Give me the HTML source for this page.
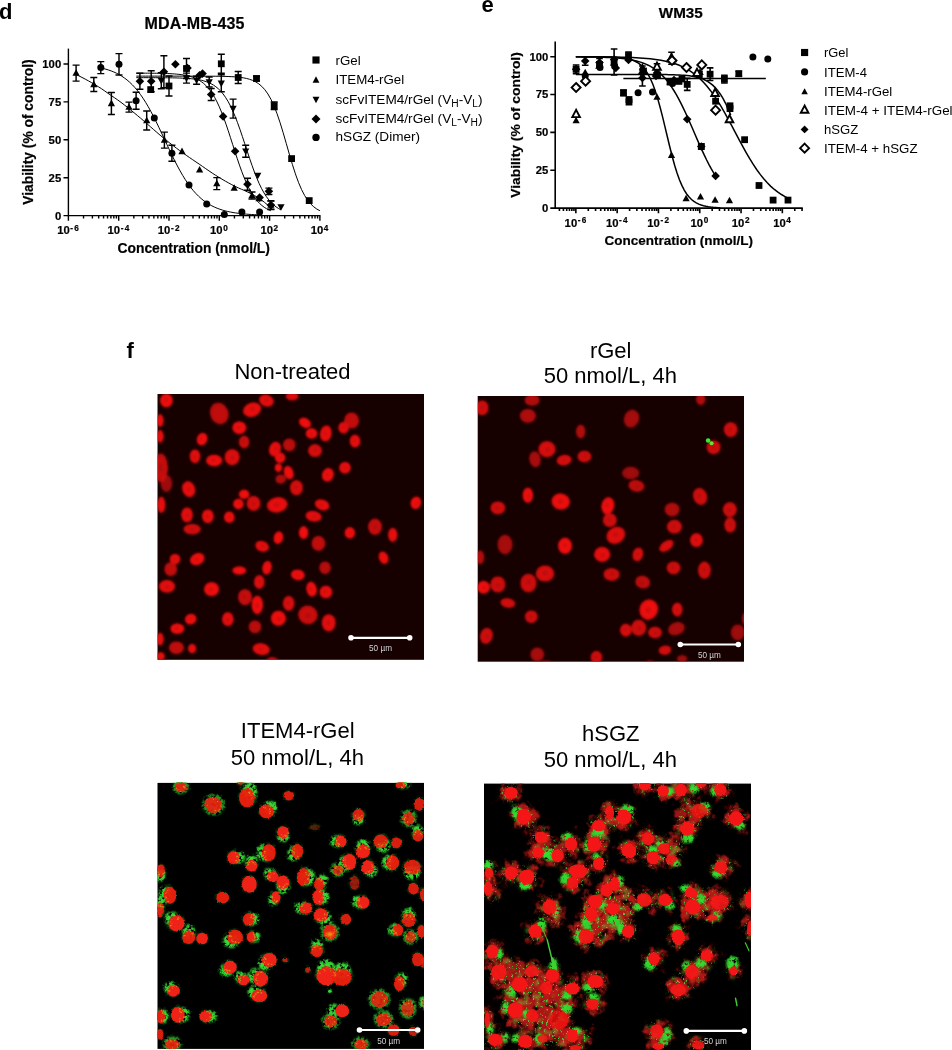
<!DOCTYPE html>
<html><head><meta charset="utf-8"><title>Figure</title>
<style>
html,body{margin:0;padding:0;background:#fff}
svg{display:block}
text{font-family:"Liberation Sans",Arial,Helvetica,sans-serif;fill:#000}
.tk{font-size:11.3px;font-weight:bold;stroke:#000;stroke-width:.2px}
.sup{font-size:8.2px;font-weight:bold;letter-spacing:0.3px}
.ttl{font-size:15.5px;font-weight:bold;stroke:#000;stroke-width:.2px}
.axl{font-size:14px;font-weight:bold;stroke:#000;stroke-width:.2px}
.lg{font-size:13.3px}
.sub{font-size:10px}
.pl{font-size:22px;font-weight:bold}
.pt{font-size:22px}
.sb{font-size:8.2px;fill:#d4d4d4}
</style></head><body>
<svg width="952" height="1050" viewBox="0 0 952 1050">
<rect width="952" height="1050" fill="#fff"/>
<polyline points="136.31,76.13 139.36,76.13 142.42,76.13 145.48,76.13 148.54,76.13 151.6,76.13 154.66,76.13 157.72,76.13 160.78,76.13 163.84,76.13 166.9,76.13 169.96,76.13 173.02,76.13 176.08,76.13 179.14,76.13 182.2,76.13 185.26,76.13 188.32,76.13 191.38,76.14 194.44,76.14 197.5,76.15 200.56,76.15 203.62,76.16 206.68,76.17 209.74,76.19 212.8,76.21 215.86,76.24 218.92,76.28 221.98,76.33 225.04,76.4 228.1,76.5 231.16,76.63 234.22,76.81 237.28,77.06 240.34,77.39 243.4,77.84 246.46,78.45 249.52,79.27 252.58,80.37 255.64,81.84 258.7,83.79 261.76,86.35 264.82,89.68 267.88,93.95 270.94,99.31 274,105.89 277.06,113.74 280.12,122.78 283.18,132.77 286.24,143.36 289.3,154.07 292.36,164.4 295.42,173.92 298.48,182.34 301.54,189.51 304.6,195.43 307.66,200.18 310.72,203.93 313.78,206.83 316.84,209.05 319.9,210.72" fill="none" stroke="#000" stroke-width="1.0"/>
<polyline points="100.59,67.88 103.24,68.49 105.89,69.19 108.54,70 111.19,70.93 113.84,71.99 116.49,73.21 119.14,74.6 121.79,76.18 124.43,77.98 127.08,80.01 129.73,82.29 132.38,84.85 135.03,87.71 137.68,90.87 140.33,94.36 142.98,98.17 145.63,102.32 148.28,106.78 150.93,111.54 153.57,116.58 156.22,121.86 158.87,127.33 161.52,132.93 164.17,138.61 166.82,144.3 169.47,149.95 172.12,155.48 174.77,160.84 177.42,165.98 180.07,170.87 182.72,175.46 185.36,179.74 188.01,183.69 190.66,187.31 193.31,190.61 195.96,193.59 198.61,196.27 201.26,198.67 203.91,200.8 206.56,202.69 209.21,204.36 211.86,205.83 214.5,207.12 217.15,208.24 219.8,209.23 222.45,210.09 225.1,210.83 227.75,211.48 230.4,212.04 233.05,212.53 235.7,212.95 238.35,213.31 241,213.63 243.65,213.9 246.29,214.14 248.94,214.34 251.59,214.51 254.24,214.66 256.89,214.79 259.54,214.91" fill="none" stroke="#000" stroke-width="1.0"/>
<polyline points="75.44,74.31 78.7,75.81 81.96,77.41 85.21,79.11 88.47,80.9 91.73,82.76 94.98,84.68 98.24,86.66 101.5,88.72 104.75,90.97 108.01,93.3 111.27,95.56 114.53,97.75 117.78,100 121.04,102.39 124.3,104.88 127.55,107.45 130.81,110.09 134.07,112.76 137.32,115.44 140.58,118.16 143.84,120.96 147.09,123.81 150.35,126.68 153.61,129.55 156.87,132.39 160.12,135.19 163.38,137.9 166.64,140.53 169.89,143.11 173.15,145.65 176.41,148.13 179.66,150.56 182.92,152.93 186.18,155.23 189.43,157.49 192.69,159.71 195.95,161.91 199.21,164.14 202.46,166.39 205.72,168.65 208.98,170.9 212.23,173.09 215.49,175.21 218.75,177.23 222,179.18 225.26,181.08 228.52,182.91 231.77,184.66 235.03,186.33 238.29,187.86 241.55,189.29 244.8,190.7 248.06,192.18 251.32,193.81 254.57,195.6 257.83,197.55 261.09,199.73 264.34,202.21 267.6,204.99 270.86,208.02" fill="none" stroke="#000" stroke-width="1.0"/>
<polyline points="136.31,77.65 138.72,77.65 141.13,77.66 143.54,77.66 145.95,77.66 148.36,77.67 150.77,77.67 153.18,77.68 155.59,77.69 158,77.7 160.41,77.71 162.82,77.73 165.23,77.75 167.64,77.78 170.05,77.81 172.46,77.85 174.87,77.9 177.28,77.96 179.69,78.04 182.1,78.13 184.51,78.24 186.92,78.39 189.33,78.56 191.74,78.78 194.15,79.05 196.56,79.38 198.97,79.78 201.38,80.28 203.79,80.9 206.2,81.65 208.61,82.58 211.02,83.7 213.43,85.07 215.84,86.73 218.25,88.72 220.66,91.11 223.07,93.94 225.48,97.28 227.89,101.17 230.3,105.64 232.71,110.72 235.12,116.4 237.53,122.63 239.94,129.34 242.35,136.43 244.76,143.74 247.17,151.11 249.58,158.38 252,165.39 254.41,172.01 256.82,178.13 259.23,183.68 261.64,188.63 264.05,192.97 266.46,196.74 268.87,199.96 271.28,202.69 273.69,204.99 276.1,206.9 278.51,208.49 280.92,209.8" fill="none" stroke="#000" stroke-width="1.0"/>
<polyline points="136.31,73.13 138.55,73.13 140.79,73.14 143.03,73.15 145.28,73.16 147.52,73.18 149.76,73.19 152,73.22 154.25,73.24 156.49,73.27 158.73,73.31 160.97,73.36 163.22,73.41 165.46,73.48 167.7,73.57 169.94,73.67 172.19,73.8 174.43,73.95 176.67,74.13 178.91,74.35 181.16,74.62 183.4,74.95 185.64,75.35 187.88,75.83 190.13,76.42 192.37,77.12 194.61,77.97 196.85,78.98 199.1,80.2 201.34,81.66 203.58,83.39 205.82,85.44 208.07,87.85 210.31,90.66 212.55,93.93 214.79,97.69 217.04,101.96 219.28,106.76 221.52,112.09 223.76,117.91 226.01,124.18 228.25,130.8 230.49,137.67 232.73,144.68 234.98,151.67 237.22,158.53 239.46,165.12 241.7,171.35 243.95,177.13 246.19,182.41 248.43,187.16 250.67,191.38 252.92,195.09 255.16,198.31 257.4,201.09 259.64,203.47 261.89,205.48 264.13,207.19 266.37,208.62 268.61,209.82 270.86,210.82" fill="none" stroke="#000" stroke-width="1.0"/>
<path d="M76.1 65.1V81.1M72.6 65.1H79.6M72.6 81.1H79.6" stroke="#000" stroke-width="1.45" fill="none"/>
<path d="M93.8 77.4V91.4M90.3 77.4H97.3M90.3 91.4H97.3" stroke="#000" stroke-width="1.45" fill="none"/>
<path d="M111.4 92.4V114.4M107.9 92.4H114.9M107.9 114.4H114.9" stroke="#000" stroke-width="1.45" fill="none"/>
<path d="M129 102.1V112.1M125.5 102.1H132.5M125.5 112.1H132.5" stroke="#000" stroke-width="1.45" fill="none"/>
<path d="M146.7 111V130M143.2 111H150.2M143.2 130H150.2" stroke="#000" stroke-width="1.45" fill="none"/>
<path d="M164.4 132.1V148.1M160.9 132.1H167.9M160.9 148.1H167.9" stroke="#000" stroke-width="1.45" fill="none"/>
<path d="M216.8 177.6V189.6M213.3 177.6H220.3M213.3 189.6H220.3" stroke="#000" stroke-width="1.45" fill="none"/>
<path d="M252 192V199M248.5 192H255.5M248.5 199H255.5" stroke="#000" stroke-width="1.45" fill="none"/>
<path d="M270.9 201.1V209.1M267.4 201.1H274.4M267.4 209.1H274.4" stroke="#000" stroke-width="1.45" fill="none"/>
<path d="M100.8 61.6V73.6M97.3 61.6H104.3M97.3 73.6H104.3" stroke="#000" stroke-width="1.45" fill="none"/>
<path d="M119 53.6V75M115.5 53.6H122.5M115.5 75H122.5" stroke="#000" stroke-width="1.45" fill="none"/>
<path d="M136.1 92.3V109.3M132.6 92.3H139.6M132.6 109.3H139.6" stroke="#000" stroke-width="1.45" fill="none"/>
<path d="M171.9 145.2V161.2M168.4 145.2H175.4M168.4 161.2H175.4" stroke="#000" stroke-width="1.45" fill="none"/>
<path d="M169 76V96M165.5 76H172.5M165.5 96H172.5" stroke="#000" stroke-width="1.45" fill="none"/>
<path d="M186.5 58.5V78.5M183 58.5H190M183 78.5H190" stroke="#000" stroke-width="1.45" fill="none"/>
<path d="M221.3 54.3V73.3M217.8 54.3H224.8M217.8 73.3H224.8" stroke="#000" stroke-width="1.45" fill="none"/>
<path d="M238.2 71.5V83.5M234.7 71.5H241.7M234.7 83.5H241.7" stroke="#000" stroke-width="1.45" fill="none"/>
<path d="M256.5 76.3V80.7M253 76.3H260M253 80.7H260" stroke="#000" stroke-width="1.45" fill="none"/>
<path d="M274.2 101.9V109.5M270.7 101.9H277.7M270.7 109.5H277.7" stroke="#000" stroke-width="1.45" fill="none"/>
<path d="M161.3 72.7V88.7M157.8 72.7H164.8M157.8 88.7H164.8" stroke="#000" stroke-width="1.45" fill="none"/>
<path d="M186.5 73.1V83.1M183 73.1H190M183 83.1H190" stroke="#000" stroke-width="1.45" fill="none"/>
<path d="M196.6 76.2V84.2M193.1 76.2H200.1M193.1 84.2H200.1" stroke="#000" stroke-width="1.45" fill="none"/>
<path d="M209.2 76.9V86.9M205.7 76.9H212.7M205.7 86.9H212.7" stroke="#000" stroke-width="1.45" fill="none"/>
<path d="M221.3 74.8V91.8M217.8 74.8H224.8M217.8 91.8H224.8" stroke="#000" stroke-width="1.45" fill="none"/>
<path d="M233.1 99.1V118.1M229.6 99.1H236.6M229.6 118.1H236.6" stroke="#000" stroke-width="1.45" fill="none"/>
<path d="M245.7 145.2V157.2M242.2 145.2H249.2M242.2 157.2H249.2" stroke="#000" stroke-width="1.45" fill="none"/>
<path d="M139.9 73.2V89.2M136.4 73.2H143.4M136.4 89.2H143.4" stroke="#000" stroke-width="1.45" fill="none"/>
<path d="M151.2 70.7V91.7M147.7 70.7H154.7M147.7 91.7H154.7" stroke="#000" stroke-width="1.45" fill="none"/>
<path d="M163.9 55.8V87.8M160.4 55.8H167.4M160.4 87.8H167.4" stroke="#000" stroke-width="1.45" fill="none"/>
<path d="M211.2 88.5V100.5M207.7 88.5H214.7M207.7 100.5H214.7" stroke="#000" stroke-width="1.45" fill="none"/>
<path d="M247.5 178.2V190.2M244 178.2H251M244 190.2H251" stroke="#000" stroke-width="1.45" fill="none"/>
<path d="M268.9 188.1V194.5M265.4 188.1H272.4M265.4 194.5H272.4" stroke="#000" stroke-width="1.45" fill="none"/>
<path d="M270.9 200.8V209.4M267.4 200.8H274.4M267.4 209.4H274.4" stroke="#000" stroke-width="1.45" fill="none"/>
<polygon points="76.1,69.27 72.5,75.87 79.7,75.87" fill="#000"/>
<polygon points="93.8,80.57 90.2,87.17 97.4,87.17" fill="#000"/>
<polygon points="111.4,99.57 107.8,106.17 115,106.17" fill="#000"/>
<polygon points="129,103.27 125.4,109.87 132.6,109.87" fill="#000"/>
<polygon points="146.7,116.67 143.1,123.27 150.3,123.27" fill="#000"/>
<polygon points="164.4,136.27 160.8,142.87 168,142.87" fill="#000"/>
<polygon points="182,147.57 178.4,154.17 185.6,154.17" fill="#000"/>
<polygon points="199.6,165.97 196,172.57 203.2,172.57" fill="#000"/>
<polygon points="216.8,179.77 213.2,186.37 220.4,186.37" fill="#000"/>
<polygon points="234.2,184.17 230.6,190.77 237.8,190.77" fill="#000"/>
<polygon points="252,191.67 248.4,198.27 255.6,198.27" fill="#000"/>
<polygon points="259,194.67 255.4,201.27 262.6,201.27" fill="#000"/>
<polygon points="270.9,201.27 267.3,207.87 274.5,207.87" fill="#000"/>
<circle cx="100.8" cy="67.6" r="3.5" fill="#000"/>
<circle cx="119" cy="64.3" r="3.5" fill="#000"/>
<circle cx="136.1" cy="100.8" r="3.5" fill="#000"/>
<circle cx="154.3" cy="118" r="3.5" fill="#000"/>
<circle cx="171.9" cy="153.2" r="3.5" fill="#000"/>
<circle cx="189" cy="185" r="3.5" fill="#000"/>
<circle cx="206.7" cy="203.9" r="3.5" fill="#000"/>
<circle cx="224.3" cy="214.6" r="3.5" fill="#000"/>
<circle cx="241.9" cy="212" r="3.5" fill="#000"/>
<circle cx="259.6" cy="212" r="3.5" fill="#000"/>
<rect x="147.3" y="86.2" width="6.8" height="6.8" fill="#000"/>
<rect x="165.6" y="82.6" width="6.8" height="6.8" fill="#000"/>
<rect x="183.1" y="65.1" width="6.8" height="6.8" fill="#000"/>
<rect x="217.9" y="60.4" width="6.8" height="6.8" fill="#000"/>
<rect x="234.8" y="74.1" width="6.8" height="6.8" fill="#000"/>
<rect x="253.1" y="75.1" width="6.8" height="6.8" fill="#000"/>
<rect x="270.8" y="102.3" width="6.8" height="6.8" fill="#000"/>
<rect x="288.2" y="155.2" width="6.8" height="6.8" fill="#000"/>
<rect x="305.8" y="197.2" width="6.8" height="6.8" fill="#000"/>
<polygon points="161.3,84.53 157.7,77.93 164.9,77.93" fill="#000"/>
<polygon points="186.5,81.93 182.9,75.33 190.1,75.33" fill="#000"/>
<polygon points="196.6,84.03 193,77.43 200.2,77.43" fill="#000"/>
<polygon points="209.2,85.73 205.6,79.13 212.8,79.13" fill="#000"/>
<polygon points="221.3,87.13 217.7,80.53 224.9,80.53" fill="#000"/>
<polygon points="233.1,112.43 229.5,105.83 236.7,105.83" fill="#000"/>
<polygon points="245.7,155.03 242.1,148.43 249.3,148.43" fill="#000"/>
<polygon points="257.8,179.23 254.2,172.63 261.4,172.63" fill="#000"/>
<polygon points="281,210.73 277.4,204.13 284.6,204.13" fill="#000"/>
<polygon points="139.9,76.9 144.2,81.2 139.9,85.5 135.6,81.2" fill="#000"/>
<polygon points="151.2,76.9 155.5,81.2 151.2,85.5 146.9,81.2" fill="#000"/>
<polygon points="163.9,67.5 168.2,71.8 163.9,76.1 159.6,71.8" fill="#000"/>
<polygon points="175.4,59.9 179.7,64.2 175.4,68.5 171.1,64.2" fill="#000"/>
<polygon points="187.5,63.7 191.8,68 187.5,72.3 183.2,68" fill="#000"/>
<polygon points="199.6,70.9 203.9,75.2 199.6,79.5 195.3,75.2" fill="#000"/>
<polygon points="202.5,69.3 206.8,73.6 202.5,77.9 198.2,73.6" fill="#000"/>
<polygon points="211.2,90.2 215.5,94.5 211.2,98.8 206.9,94.5" fill="#000"/>
<polygon points="223.1,112.1 227.4,116.4 223.1,120.7 218.8,116.4" fill="#000"/>
<polygon points="235.1,146.9 239.4,151.2 235.1,155.5 230.8,151.2" fill="#000"/>
<polygon points="247.5,179.9 251.8,184.2 247.5,188.5 243.2,184.2" fill="#000"/>
<polygon points="259.6,193.3 263.9,197.6 259.6,201.9 255.3,197.6" fill="#000"/>
<polygon points="268.9,187 273.2,191.3 268.9,195.6 264.6,191.3" fill="#000"/>
<polygon points="270.9,200.8 275.2,205.1 270.9,209.4 266.6,205.1" fill="#000"/>
<path d="M68.4 48.6V216.3" stroke="#000" stroke-width="1.4" fill="none"/>
<path d="M68.4 215.6H320.4" stroke="#000" stroke-width="1.4" fill="none"/>
<text x="61.2" y="219.5" text-anchor="end" class="tk">0</text>
<text x="61.2" y="181.6" text-anchor="end" class="tk">25</text>
<text x="61.2" y="143.7" text-anchor="end" class="tk">50</text>
<text x="61.2" y="105.8" text-anchor="end" class="tk">75</text>
<text x="61.2" y="67.9" text-anchor="end" class="tk">100</text>
<text x="68.2" y="234.2" text-anchor="middle" class="tk">10<tspan dy="-3.6" dx="0.6" class="sup">- 6</tspan></text>
<text x="118.5" y="234.2" text-anchor="middle" class="tk">10<tspan dy="-3.6" dx="0.6" class="sup">- 4</tspan></text>
<text x="168.8" y="234.2" text-anchor="middle" class="tk">10<tspan dy="-3.6" dx="0.6" class="sup">- 2</tspan></text>
<text x="219.1" y="234.2" text-anchor="middle" class="tk">10<tspan dy="-3.6" dx="0.6" class="sup">0</tspan></text>
<text x="269.4" y="234.2" text-anchor="middle" class="tk">10<tspan dy="-3.6" dx="0.6" class="sup">2</tspan></text>
<text x="319.7" y="234.2" text-anchor="middle" class="tk">10<tspan dy="-3.6" dx="0.6" class="sup">4</tspan></text>
<path d="M63.5 215.6H68.4M63.5 177.7H68.4M63.5 139.8H68.4M63.5 101.9H68.4M63.5 64H68.4M68.4 215.6V220.8M118.7 215.6V220.8M169 215.6V220.8M219.3 215.6V220.8M269.6 215.6V220.8M319.9 215.6V220.8M83.54 215.6V218.6M92.4 215.6V218.6M98.68 215.6V218.6M103.56 215.6V218.6M107.54 215.6V218.6M110.91 215.6V218.6M113.83 215.6V218.6M116.4 215.6V218.6M133.84 215.6V218.6M142.7 215.6V218.6M148.98 215.6V218.6M153.86 215.6V218.6M157.84 215.6V218.6M161.21 215.6V218.6M164.13 215.6V218.6M166.7 215.6V218.6M184.14 215.6V218.6M193 215.6V218.6M199.28 215.6V218.6M204.16 215.6V218.6M208.14 215.6V218.6M211.51 215.6V218.6M214.43 215.6V218.6M217 215.6V218.6M234.44 215.6V218.6M243.3 215.6V218.6M249.58 215.6V218.6M254.46 215.6V218.6M258.44 215.6V218.6M261.81 215.6V218.6M264.73 215.6V218.6M267.3 215.6V218.6M284.74 215.6V218.6M293.6 215.6V218.6M299.88 215.6V218.6M304.76 215.6V218.6M308.74 215.6V218.6M312.11 215.6V218.6M315.03 215.6V218.6M317.6 215.6V218.6" stroke="#000" stroke-width="1.4" fill="none"/>
<text x="194.5" y="28.6" text-anchor="middle" class="ttl" style="font-size:16px" textLength="99.8" lengthAdjust="spacing">MDA-MB-435</text>
<text x="193.7" y="252.6" text-anchor="middle" class="axl" textLength="152.5" lengthAdjust="spacingAndGlyphs">Concentration (nmol/L)</text>
<text transform="translate(33.2 132) rotate(-90)" text-anchor="middle" class="axl" textLength="145.4" lengthAdjust="spacingAndGlyphs">Viability (% of control)</text>
<rect x="312.43" y="56.43" width="7.14" height="7.14" fill="#000"/>
<polygon points="316,76.36 312.58,82.63 319.42,82.63" fill="#000"/>
<polygon points="316,103.14 312.58,96.87 319.42,96.87" fill="#000"/>
<polygon points="316,114.39 320.51,118.9 316,123.42 311.49,118.9" fill="#000"/>
<circle cx="316" cy="137.4" r="3.68" fill="#000"/>
<text x="335.5" y="65" class="lg">rGel</text>
<text x="335.5" y="84.2" class="lg" textLength="68.7" lengthAdjust="spacingAndGlyphs">ITEM4-rGel</text>
<text x="335.5" y="103.5" class="lg" textLength="147" lengthAdjust="spacingAndGlyphs">scFvITEM4/rGel (V<tspan class="sub" dy="3">H</tspan><tspan dy="-3">-V</tspan><tspan class="sub" dy="3">L</tspan><tspan dy="-3">)</tspan></text>
<text x="335.5" y="122.9" class="lg" textLength="147" lengthAdjust="spacingAndGlyphs">scFvITEM4/rGel (V<tspan class="sub" dy="3">L</tspan><tspan dy="-3">-V</tspan><tspan class="sub" dy="3">H</tspan><tspan dy="-3">)</tspan></text>
<text x="335.5" y="141.4" class="lg" textLength="84.6" lengthAdjust="spacingAndGlyphs">hSGZ (Dimer)</text>
<text x="-1" y="18.9" class="pl">d</text>
<polyline points="575.85,56.71 578.26,56.71 580.67,56.71 583.08,56.71 585.49,56.72 587.9,56.72 590.31,56.73 592.71,56.74 595.12,56.75 597.53,56.77 599.94,56.79 602.35,56.82 604.76,56.86 607.17,56.91 609.58,56.97 611.99,57.05 614.4,57.16 616.81,57.3 619.22,57.49 621.62,57.73 624.03,58.05 626.44,58.46 628.85,58.99 631.26,59.68 633.67,60.58 636.08,61.74 638.49,63.22 640.9,65.12 643.31,67.53 645.72,70.56 648.12,74.33 650.53,78.97 652.94,84.57 655.35,91.2 657.76,98.87 660.17,107.51 662.58,116.93 664.99,126.89 667.4,137.04 669.81,147.03 672.22,156.51 674.63,165.23 677.04,172.98 679.44,179.7 681.85,185.39 684.26,190.1 686.67,193.95 689.08,197.04 691.49,199.5 693.9,201.43 696.31,202.95 698.72,204.13 701.13,205.05 703.54,205.76 705.95,206.3 708.35,206.72 710.76,207.04 713.17,207.29 715.58,207.48 717.99,207.63 720.4,207.74" fill="none" stroke="#000" stroke-width="1.5"/>
<polyline points="575.85,56.81 578.18,56.82 580.52,56.84 582.85,56.86 585.18,56.89 587.52,56.92 589.85,56.95 592.18,56.99 594.52,57.03 596.85,57.09 599.18,57.15 601.52,57.21 603.85,57.29 606.18,57.38 608.52,57.49 610.85,57.61 613.19,57.75 615.52,57.91 617.85,58.09 620.19,58.3 622.52,58.55 624.85,58.83 627.19,59.15 629.52,59.52 631.85,59.94 634.19,60.43 636.52,60.99 638.85,61.62 641.19,62.35 643.52,63.19 645.85,64.13 648.19,65.21 650.52,66.44 652.85,67.83 655.19,69.4 657.52,71.16 659.85,73.15 662.19,75.37 664.52,77.84 666.85,80.58 669.19,83.6 671.52,86.91 673.85,90.52 676.19,94.42 678.52,98.62 680.86,103.09 683.19,107.82 685.52,112.77 687.86,117.91 690.19,123.19 692.52,128.57 694.86,133.98 697.19,139.38 699.52,144.7 701.86,149.91 704.19,154.94 706.52,159.77 708.86,164.35 711.19,168.66 713.52,172.69 715.86,176.43" fill="none" stroke="#000" stroke-width="1.5"/>
<line x1="623.35" y1="78.5" x2="765.83" y2="78.5" stroke="#000" stroke-width="1.5"/>
<polyline points="575.85,56.75 579.39,56.76 582.94,56.77 586.48,56.79 590.03,56.8 593.57,56.82 597.12,56.85 600.66,56.88 604.21,56.91 607.75,56.95 611.3,57 614.84,57.06 618.39,57.13 621.93,57.21 625.48,57.31 629.02,57.43 632.57,57.57 636.11,57.74 639.66,57.94 643.2,58.18 646.75,58.46 650.29,58.8 653.84,59.2 657.38,59.68 660.93,60.25 664.47,60.92 668.02,61.71 671.56,62.65 675.11,63.75 678.65,65.05 682.2,66.57 685.74,68.34 689.29,70.41 692.83,72.79 696.38,75.53 699.92,78.67 703.47,82.22 707.01,86.22 710.56,90.68 714.1,95.6 717.65,100.96 721.19,106.72 724.74,112.85 728.28,119.27 731.83,125.88 735.37,132.6 738.92,139.31 742.46,145.91 746.01,152.31 749.55,158.42 753.1,164.17 756.64,169.5 760.19,174.39 763.73,178.82 767.28,182.8 770.82,186.33 774.37,189.44 777.91,192.16 781.46,194.52 785,196.57 788.55,198.32" fill="none" stroke="#000" stroke-width="1.5"/>
<polyline points="575.85,74.41 578.43,74.41 581.01,74.41 583.59,74.41 586.18,74.41 588.76,74.41 591.34,74.41 593.92,74.41 596.5,74.41 599.08,74.41 601.66,74.41 604.24,74.41 606.83,74.41 609.41,74.41 611.99,74.42 614.57,74.42 617.15,74.42 619.73,74.42 622.31,74.42 624.89,74.42 627.48,74.42 630.06,74.42 632.64,74.42 635.22,74.43 637.8,74.43 640.38,74.43 642.96,74.44 645.54,74.44 648.12,74.45 650.71,74.46 653.29,74.47 655.87,74.49 658.45,74.51 661.03,74.53 663.61,74.56 666.19,74.6 668.78,74.65 671.36,74.71 673.94,74.78 676.52,74.88 679.1,74.99 681.68,75.14 684.26,75.33 686.84,75.57 689.43,75.86 692.01,76.23 694.59,76.7 697.17,77.28 699.75,78 702.33,78.89 704.91,80.01 707.49,81.38 710.08,83.06 712.66,85.12 715.24,87.62 717.82,90.63 720.4,94.21 722.98,98.41 725.56,103.28 728.14,108.83 730.73,115.04" fill="none" stroke="#000" stroke-width="1.5"/>
<path d="M576.1 65V73.6M572.8 65H579.4M572.8 73.6H579.4" stroke="#000" stroke-width="1.6" fill="none"/>
<path d="M585.2 56.7V65.3M581.9 56.7H588.5M581.9 65.3H588.5" stroke="#000" stroke-width="1.6" fill="none"/>
<path d="M599.5 58.5V66.5M596.2 58.5H602.8M596.2 66.5H602.8" stroke="#000" stroke-width="1.6" fill="none"/>
<path d="M614.1 49V75M610.8 49H617.4M610.8 75H617.4" stroke="#000" stroke-width="1.6" fill="none"/>
<path d="M628.5 52V59M625.2 52H631.8M625.2 59H631.8" stroke="#000" stroke-width="1.6" fill="none"/>
<path d="M623.5 90V95.6M620.2 90H626.8M620.2 95.6H626.8" stroke="#000" stroke-width="1.6" fill="none"/>
<path d="M642.4 66V74M639.1 66H645.7M639.1 74H645.7" stroke="#000" stroke-width="1.6" fill="none"/>
<path d="M642.4 70V86M639.1 70H645.7M639.1 86H645.7" stroke="#000" stroke-width="1.6" fill="none"/>
<path d="M657 63.8V69.8M653.7 63.8H660.3M653.7 69.8H660.3" stroke="#000" stroke-width="1.6" fill="none"/>
<path d="M671.5 52.3V64.3M668.2 52.3H674.8M668.2 64.3H674.8" stroke="#000" stroke-width="1.6" fill="none"/>
<path d="M670.1 79.4V84.4M666.8 79.4H673.4M666.8 84.4H673.4" stroke="#000" stroke-width="1.6" fill="none"/>
<path d="M678.9 78.7V83.7M675.6 78.7H682.2M675.6 83.7H682.2" stroke="#000" stroke-width="1.6" fill="none"/>
<path d="M687.2 78.4V90.4M683.9 78.4H690.5M683.9 90.4H690.5" stroke="#000" stroke-width="1.6" fill="none"/>
<path d="M699.2 71.2V77.2M695.9 71.2H702.5M695.9 77.2H702.5" stroke="#000" stroke-width="1.6" fill="none"/>
<path d="M710.1 67.9V80.5M706.8 67.9H713.4M706.8 80.5H713.4" stroke="#000" stroke-width="1.6" fill="none"/>
<path d="M724.4 75.4V83M721.1 75.4H727.7M721.1 83H727.7" stroke="#000" stroke-width="1.6" fill="none"/>
<path d="M738.8 71.2V76.2M735.5 71.2H742.1M735.5 76.2H742.1" stroke="#000" stroke-width="1.6" fill="none"/>
<path d="M701.3 144V149M698 144H704.6M698 149H704.6" stroke="#000" stroke-width="1.6" fill="none"/>
<rect x="572.7" y="65.9" width="6.8" height="6.8" fill="#000"/>
<polygon points="576.1,65 580.4,69.3 576.1,73.6 571.8,69.3" fill="#000"/>
<polygon points="576.1,83 580.6,87.5 576.1,92 571.6,87.5" fill="#fff" stroke="#000" stroke-width="1.9"/>
<polygon points="576.1,109.88 572.3,117.08 579.9,117.08" fill="#fff" stroke="#000" stroke-width="1.9" stroke-linejoin="miter"/>
<polygon points="576.1,116.67 572.5,123.27 579.7,123.27" fill="#000"/>
<polygon points="585.2,56.7 589.5,61 585.2,65.3 580.9,61" fill="#000"/>
<polygon points="585.2,68.77 581.6,75.37 588.8,75.37" fill="#000"/>
<circle cx="585.2" cy="76" r="3.5" fill="#000"/>
<polygon points="585.6,76.7 590.1,81.2 585.6,85.7 581.1,81.2" fill="#fff" stroke="#000" stroke-width="1.9"/>
<polygon points="599.5,58.2 603.8,62.5 599.5,66.8 595.2,62.5" fill="#000"/>
<rect x="596.1" y="61.1" width="6.8" height="6.8" fill="#000"/>
<circle cx="600" cy="67.6" r="3.5" fill="#000"/>
<polygon points="598.8,62.17 595.2,68.77 602.4,68.77" fill="#000"/>
<rect x="610.7" y="58.6" width="6.8" height="6.8" fill="#000"/>
<polygon points="614.1,55.2 618.4,59.5 614.1,63.8 609.8,59.5" fill="#000"/>
<circle cx="614.6" cy="66" r="3.5" fill="#000"/>
<polygon points="615.8,63.7 620.1,68 615.8,72.3 611.5,68" fill="#000"/>
<polygon points="613.6,59.17 610,65.77 617.2,65.77" fill="#000"/>
<rect x="625.1" y="52.1" width="6.8" height="6.8" fill="#000"/>
<polygon points="628.5,54.17 624.9,60.77 632.1,60.77" fill="#000"/>
<polygon points="628.5,55.7 632.8,60 628.5,64.3 624.2,60" fill="#000"/>
<rect x="620.1" y="89.4" width="6.8" height="6.8" fill="#000"/>
<rect x="625.6" y="98.7" width="6.8" height="6.8" fill="#000"/>
<rect x="625.6" y="96.1" width="6.8" height="6.8" fill="#000"/>
<circle cx="638.1" cy="92.8" r="3.5" fill="#000"/>
<circle cx="652.5" cy="92" r="3.5" fill="#000"/>
<polygon points="642.4,62.97 638.8,69.57 646,69.57" fill="#000"/>
<polygon points="642.4,66.17 638.8,72.77 646,72.77" fill="#000"/>
<polygon points="642.4,69.2 646.7,73.5 642.4,77.8 638.1,73.5" fill="#000"/>
<polygon points="642.4,73.7 646.7,78 642.4,82.3 638.1,78" fill="#000"/>
<rect x="640.1" y="67.6" width="6.8" height="6.8" fill="#000"/>
<polygon points="657,62.48 653.2,69.68 660.8,69.68" fill="#fff" stroke="#000" stroke-width="1.9" stroke-linejoin="miter"/>
<polygon points="657,68.7 661.3,73 657,77.3 652.7,73" fill="#000"/>
<rect x="654.1" y="71.6" width="6.8" height="6.8" fill="#000"/>
<polygon points="656,71.7 660.3,76 656,80.3 651.7,76" fill="#000"/>
<polygon points="657,93.17 653.4,99.77 660.6,99.77" fill="#000"/>
<polygon points="671.5,53.98 667.7,61.18 675.3,61.18" fill="#fff" stroke="#000" stroke-width="1.9" stroke-linejoin="miter"/>
<polygon points="672,56 676.5,60.5 672,65 667.5,60.5" fill="#fff" stroke="#000" stroke-width="1.9"/>
<rect x="666.7" y="78.5" width="6.8" height="6.8" fill="#000"/>
<rect x="675.5" y="77.8" width="6.8" height="6.8" fill="#000"/>
<circle cx="672.5" cy="83.5" r="3.5" fill="#000"/>
<polygon points="674,75.7 678.3,80 674,84.3 669.7,80" fill="#000"/>
<polygon points="686.5,63 691,67.5 686.5,72 682,67.5" fill="#fff" stroke="#000" stroke-width="1.9"/>
<rect x="683.8" y="81" width="6.8" height="6.8" fill="#000"/>
<rect x="678.6" y="75.6" width="6.8" height="6.8" fill="#000"/>
<polygon points="687.2,114.9 691.5,119.2 687.2,123.5 682.9,119.2" fill="#000"/>
<polygon points="701.8,60.4 706.3,64.9 701.8,69.4 697.3,64.9" fill="#fff" stroke="#000" stroke-width="1.9"/>
<rect x="695.8" y="70.8" width="6.8" height="6.8" fill="#000"/>
<polygon points="699.2,69.9 703.5,74.2 699.2,78.5 694.9,74.2" fill="#000"/>
<polygon points="700,68.17 696.4,74.77 703.6,74.77" fill="#000"/>
<polygon points="697,68.68 693.2,75.88 700.8,75.88" fill="#fff" stroke="#000" stroke-width="1.9" stroke-linejoin="miter"/>
<rect x="706.7" y="70.8" width="6.8" height="6.8" fill="#000"/>
<rect x="721" y="75.8" width="6.8" height="6.8" fill="#000"/>
<rect x="735.4" y="70.3" width="6.8" height="6.8" fill="#000"/>
<circle cx="752.9" cy="57.1" r="3.5" fill="#000"/>
<circle cx="767.8" cy="59.1" r="3.5" fill="#000"/>
<polygon points="715.1,88.78 711.3,95.98 718.9,95.98" fill="#fff" stroke="#000" stroke-width="1.9" stroke-linejoin="miter"/>
<rect x="712.2" y="97.8" width="6.8" height="6.8" fill="#000"/>
<polygon points="715.6,105.7 720.1,110.2 715.6,114.7 711.1,110.2" fill="#fff" stroke="#000" stroke-width="1.9"/>
<rect x="726.6" y="102.4" width="6.8" height="6.8" fill="#000"/>
<rect x="726.6" y="105.2" width="6.8" height="6.8" fill="#000"/>
<polygon points="729.5,115.08 725.7,122.28 733.3,122.28" fill="#fff" stroke="#000" stroke-width="1.9" stroke-linejoin="miter"/>
<rect x="741.2" y="136.3" width="6.8" height="6.8" fill="#000"/>
<rect x="697.9" y="143.1" width="6.8" height="6.8" fill="#000"/>
<polygon points="701.3,142.2 705.6,146.5 701.3,150.8 697,146.5" fill="#000"/>
<polygon points="671.5,151.37 667.9,157.97 675.1,157.97" fill="#000"/>
<polygon points="715.6,171.6 719.9,175.9 715.6,180.2 711.3,175.9" fill="#000"/>
<rect x="755.6" y="182.1" width="6.8" height="6.8" fill="#000"/>
<rect x="769.7" y="196.7" width="6.8" height="6.8" fill="#000"/>
<rect x="784.6" y="196.7" width="6.8" height="6.8" fill="#000"/>
<polygon points="686.1,194.77 682.5,201.37 689.7,201.37" fill="#000"/>
<polygon points="700.5,192.97 696.9,199.57 704.1,199.57" fill="#000"/>
<polygon points="715.1,196.27 711.5,202.87 718.7,202.87" fill="#000"/>
<polygon points="729.5,196.77 725.9,203.37 733.1,203.37" fill="#000"/>
<path d="M555.2 41.6V208.9" stroke="#000" stroke-width="1.6" fill="none"/>
<path d="M555.2 208.1H802.8" stroke="#000" stroke-width="1.6" fill="none"/>
<text x="548.4" y="212" text-anchor="end" class="tk">0</text>
<text x="548.4" y="174.15" text-anchor="end" class="tk">25</text>
<text x="548.4" y="136.3" text-anchor="end" class="tk">50</text>
<text x="548.4" y="98.45" text-anchor="end" class="tk">75</text>
<text x="548.4" y="60.6" text-anchor="end" class="tk">100</text>
<text x="575.65" y="227" text-anchor="middle" class="tk">10<tspan dy="-3.6" dx="0.6" class="sup">- 6</tspan></text>
<text x="616.95" y="227" text-anchor="middle" class="tk">10<tspan dy="-3.6" dx="0.6" class="sup">- 4</tspan></text>
<text x="658.25" y="227" text-anchor="middle" class="tk">10<tspan dy="-3.6" dx="0.6" class="sup">- 2</tspan></text>
<text x="699.55" y="227" text-anchor="middle" class="tk">10<tspan dy="-3.6" dx="0.6" class="sup">0</tspan></text>
<text x="740.85" y="227" text-anchor="middle" class="tk">10<tspan dy="-3.6" dx="0.6" class="sup">2</tspan></text>
<text x="782.15" y="227" text-anchor="middle" class="tk">10<tspan dy="-3.6" dx="0.6" class="sup">4</tspan></text>
<path d="M550.3 208.1H555.2M550.3 170.25H555.2M550.3 132.4H555.2M550.3 94.55H555.2M550.3 56.7H555.2M575.85 208.1V213.3M617.15 208.1V213.3M658.45 208.1V213.3M699.75 208.1V213.3M741.05 208.1V213.3M782.35 208.1V213.3M559.42 208.1V211.1M563.42 208.1V211.1M566.69 208.1V211.1M569.45 208.1V211.1M571.85 208.1V211.1M573.96 208.1V211.1M588.28 208.1V211.1M595.56 208.1V211.1M600.72 208.1V211.1M604.72 208.1V211.1M607.99 208.1V211.1M610.75 208.1V211.1M613.15 208.1V211.1M615.26 208.1V211.1M629.58 208.1V211.1M636.86 208.1V211.1M642.02 208.1V211.1M646.02 208.1V211.1M649.29 208.1V211.1M652.05 208.1V211.1M654.45 208.1V211.1M656.56 208.1V211.1M670.88 208.1V211.1M678.16 208.1V211.1M683.32 208.1V211.1M687.32 208.1V211.1M690.59 208.1V211.1M693.35 208.1V211.1M695.75 208.1V211.1M697.86 208.1V211.1M712.18 208.1V211.1M719.46 208.1V211.1M724.62 208.1V211.1M728.62 208.1V211.1M731.89 208.1V211.1M734.65 208.1V211.1M737.05 208.1V211.1M739.16 208.1V211.1M753.48 208.1V211.1M760.76 208.1V211.1M765.92 208.1V211.1M769.92 208.1V211.1M773.19 208.1V211.1M775.95 208.1V211.1M778.35 208.1V211.1M780.46 208.1V211.1M794.78 208.1V211.1M802.06 208.1V211.1" stroke="#000" stroke-width="1.6" fill="none"/>
<text x="680.8" y="17.7" text-anchor="middle" class="ttl" style="font-size:15.2px" textLength="44" lengthAdjust="spacingAndGlyphs">WM35</text>
<text x="678.8" y="244.7" text-anchor="middle" class="axl" style="font-size:13.5px" textLength="148.4" lengthAdjust="spacingAndGlyphs">Concentration (nmol/L)</text>
<text transform="translate(519.7 125) rotate(-90)" text-anchor="middle" class="axl" style="font-size:13.4px" textLength="145.5" lengthAdjust="spacingAndGlyphs">Viability (%  of control)</text>
<rect x="801.03" y="48.93" width="7.14" height="7.14" fill="#000"/>
<circle cx="804.6" cy="71.9" r="3.57" fill="#000"/>
<polygon points="804.6,88.25 801.36,94.19 807.84,94.19" fill="#000"/>
<polygon points="804.6,105.58 800.8,112.78 808.4,112.78" fill="#fff" stroke="#000" stroke-width="1.9" stroke-linejoin="miter"/>
<polygon points="804.6,125.44 808.56,129.4 804.6,133.36 800.64,129.4" fill="#000"/>
<polygon points="804.6,143.7 809.1,148.2 804.6,152.7 800.1,148.2" fill="#fff" stroke="#000" stroke-width="1.9"/>
<text x="824" y="57.1" class="lg" textLength="24.4" lengthAdjust="spacingAndGlyphs">rGel</text>
<text x="824" y="76.7" class="lg" textLength="43" lengthAdjust="spacingAndGlyphs">ITEM-4</text>
<text x="824" y="95.9" class="lg" textLength="68.3" lengthAdjust="spacingAndGlyphs">ITEM4-rGel</text>
<text x="824" y="114.6" class="lg" textLength="128.6" lengthAdjust="spacingAndGlyphs">ITEM-4 + ITEM4-rGel</text>
<text x="824" y="134" class="lg" textLength="34.3" lengthAdjust="spacingAndGlyphs">hSGZ</text>
<text x="824" y="153.3" class="lg" textLength="93.6" lengthAdjust="spacingAndGlyphs">ITEM-4 + hSGZ</text>
<text x="481.4" y="11.9" class="pl">e</text>
<defs>
<filter id="b1" x="-30%" y="-30%" width="160%" height="160%"><feGaussianBlur stdDeviation="0.95"/></filter>
<filter id="b2" x="-50%" y="-50%" width="200%" height="200%"><feGaussianBlur stdDeviation="1.3"/></filter>
<filter id="b3" x="-50%" y="-50%" width="200%" height="200%"><feGaussianBlur stdDeviation="4"/></filter>
<filter id="b0" x="-50%" y="-50%" width="200%" height="200%"><feGaussianBlur stdDeviation="0.45"/></filter>
<filter id="gn" x="-5%" y="-5%" width="110%" height="110%"><feGaussianBlur stdDeviation="1.1" result="b"/><feTurbulence type="fractalNoise" baseFrequency="0.3" numOctaves="2" seed="4" result="n"/><feDisplacementMap in="b" in2="n" scale="4" xChannelSelector="R" yChannelSelector="G" result="d"/><feColorMatrix in="n" type="matrix" values="0 0 0 0 0 0 0 0 0 0 0 0 0 0 0 0 5 0 0 -1.5" result="m"/><feComposite in="d" in2="m" operator="in"/><feGaussianBlur stdDeviation="0.75"/></filter>
<filter id="gn4" x="-5%" y="-5%" width="110%" height="110%"><feGaussianBlur stdDeviation="0.8" result="b"/><feTurbulence type="fractalNoise" baseFrequency="0.3" numOctaves="2" seed="14" result="n"/><feDisplacementMap in="b" in2="n" scale="4" xChannelSelector="R" yChannelSelector="G" result="d"/><feColorMatrix in="n" type="matrix" values="0 0 0 0 0 0 0 0 0 0 0 0 0 0 0 0 6 0 0 -1.5" result="m"/><feComposite in="d" in2="m" operator="in"/><feGaussianBlur stdDeviation="0.5"/></filter>
<filter id="spk" x="-5%" y="-5%" width="110%" height="110%"><feGaussianBlur stdDeviation="2" result="b"/><feTurbulence type="fractalNoise" baseFrequency="0.43 0.37" numOctaves="3" seed="9" result="n"/><feColorMatrix in="n" type="matrix" values="0 0 0 0 0 0 0 0 0 0 0 0 0 0 0 9 0 0 0 -5.6" result="m"/><feComposite in="b" in2="m" operator="in"/><feGaussianBlur stdDeviation="0.45"/></filter>
<filter id="cld" x="-5%" y="-5%" width="110%" height="110%"><feGaussianBlur stdDeviation="2" result="b"/><feTurbulence type="fractalNoise" baseFrequency="0.17" numOctaves="2" seed="21" result="n"/><feColorMatrix in="n" type="matrix" values="0 0 0 0 0 0 0 0 0 0 0 0 0 0 0 0 8 0 0 -4.5" result="m"/><feComposite in="b" in2="m" operator="in"/><feGaussianBlur stdDeviation="0.8"/></filter>
<filter id="cyt" x="-5%" y="-5%" width="110%" height="110%"><feGaussianBlur stdDeviation="2.0" result="b"/><feTurbulence type="fractalNoise" baseFrequency="0.1" numOctaves="3" seed="2" result="n"/><feDisplacementMap in="b" in2="n" scale="20" xChannelSelector="R" yChannelSelector="G" result="d"/><feColorMatrix in="n" type="matrix" values="0 0 0 0 0 0 0 0 0 0 0 0 0 0 0 0 0 4 0 -0.9" result="m"/><feComposite in="d" in2="m" operator="in"/><feGaussianBlur stdDeviation="0.7"/></filter>
<filter id="nr" x="-5%" y="-5%" width="110%" height="110%"><feGaussianBlur stdDeviation="0.6" result="b"/><feTurbulence type="fractalNoise" baseFrequency="0.3" numOctaves="2" seed="11" result="n"/><feDisplacementMap in="b" in2="n" scale="2.5" xChannelSelector="R" yChannelSelector="G"/><feGaussianBlur stdDeviation="0.6"/></filter>
<radialGradient id="rg"><stop offset="0" stop-color="#f41212"/><stop offset="0.7" stop-color="#ee1010"/><stop offset="1" stop-color="#c80a0a"/></radialGradient>
<clipPath id="c1"><rect x="157.5" y="394" width="266.5" height="265.8"/></clipPath>
<clipPath id="c2"><rect x="477.7" y="396" width="266.3" height="265.7"/></clipPath>
<clipPath id="c3"><rect x="157.5" y="782.9" width="266.5" height="266"/></clipPath>
<clipPath id="c4"><rect x="484" y="783.6" width="267" height="266.4"/></clipPath>
</defs>
<rect x="157.5" y="394" width="266.5" height="265.8" fill="#170000"/>
<g clip-path="url(#c1)"><g filter="url(#b1)">
<ellipse cx="166.43" cy="400.57" rx="6.54" ry="7.11" fill="url(#rg)" opacity="1"/>
<ellipse cx="160.14" cy="420.57" rx="3.68" ry="6.54" fill="url(#rg)" opacity="0.95"/>
<ellipse cx="160.14" cy="436.29" rx="3.68" ry="6.54" fill="url(#rg)" opacity="0.95"/>
<ellipse cx="219.29" cy="413.43" rx="9.39" ry="11.11" fill="url(#rg)" opacity="0.78" transform="rotate(-20 219.29 413.43)"/>
<ellipse cx="252.14" cy="409.71" rx="9.39" ry="7.11" fill="url(#rg)" opacity="0.97" transform="rotate(-20 252.14 409.71)"/>
<ellipse cx="266.43" cy="400.57" rx="7.68" ry="5.96" fill="url(#rg)" opacity="0.95" transform="rotate(20 266.43 400.57)"/>
<ellipse cx="292.14" cy="396.29" rx="6.54" ry="4.25" fill="url(#rg)" opacity="0.89"/>
<ellipse cx="239.29" cy="427.71" rx="7.11" ry="6.54" fill="url(#rg)" opacity="1"/>
<ellipse cx="202.14" cy="439.14" rx="5.39" ry="6.54" fill="url(#rg)" opacity="1" transform="rotate(20 202.14 439.14)"/>
<ellipse cx="244.14" cy="442" rx="5.39" ry="6.54" fill="url(#rg)" opacity="0.83"/>
<ellipse cx="195" cy="456.29" rx="5.39" ry="7.11" fill="url(#rg)" opacity="0.95"/>
<ellipse cx="214.14" cy="460.57" rx="8.25" ry="5.96" fill="url(#rg)" opacity="1"/>
<ellipse cx="232.14" cy="457.14" rx="7.68" ry="8.25" fill="url(#rg)" opacity="0.92"/>
<ellipse cx="160.71" cy="467.71" rx="7.39" ry="14.54" fill="url(#rg)" opacity="0.81"/>
<ellipse cx="275" cy="449.14" rx="5.96" ry="7.68" fill="url(#rg)" opacity="0.97" transform="rotate(20 275 449.14)"/>
<ellipse cx="289.29" cy="444.86" rx="6.54" ry="6.54" fill="url(#rg)" opacity="0.75"/>
<ellipse cx="280.14" cy="457.71" rx="5.39" ry="5.39" fill="url(#rg)" opacity="1"/>
<ellipse cx="278.43" cy="467.71" rx="3.68" ry="4.25" fill="url(#rg)" opacity="1"/>
<ellipse cx="288.71" cy="472.57" rx="4.82" ry="7.11" fill="url(#rg)" opacity="1" transform="rotate(-20 288.71 472.57)"/>
<ellipse cx="280.71" cy="479.14" rx="5.39" ry="4.82" fill="url(#rg)" opacity="0.7"/>
<ellipse cx="296.43" cy="487.71" rx="6.54" ry="7.68" fill="url(#rg)" opacity="0.89"/>
<ellipse cx="305" cy="422.86" rx="6.54" ry="4.82" fill="url(#rg)" opacity="1" transform="rotate(30 305 422.86)"/>
<ellipse cx="311.57" cy="433.43" rx="5.96" ry="5.39" fill="url(#rg)" opacity="1"/>
<ellipse cx="325.86" cy="433.43" rx="5.96" ry="8.25" fill="url(#rg)" opacity="0.97" transform="rotate(10 325.86 433.43)"/>
<ellipse cx="315" cy="450.57" rx="7.11" ry="6.54" fill="url(#rg)" opacity="0.89"/>
<ellipse cx="343.57" cy="427.71" rx="5.39" ry="5.96" fill="url(#rg)" opacity="0.95"/>
<ellipse cx="351.57" cy="420.57" rx="7.68" ry="8.25" fill="url(#rg)" opacity="0.78"/>
<ellipse cx="355" cy="441.14" rx="5.39" ry="6.54" fill="url(#rg)" opacity="0.97"/>
<ellipse cx="345" cy="467.71" rx="5.96" ry="5.96" fill="url(#rg)" opacity="0.97"/>
<ellipse cx="327.86" cy="474.86" rx="5.96" ry="7.11" fill="url(#rg)" opacity="1" transform="rotate(20 327.86 474.86)"/>
<ellipse cx="188.71" cy="489.14" rx="6.54" ry="8.25" fill="url(#rg)" opacity="0.97" transform="rotate(-20 188.71 489.14)"/>
<ellipse cx="161.29" cy="504.86" rx="4.25" ry="8.25" fill="url(#rg)" opacity="0.95"/>
<ellipse cx="187" cy="514.86" rx="5.96" ry="7.68" fill="url(#rg)" opacity="0.95"/>
<ellipse cx="207.86" cy="516.29" rx="5.96" ry="7.11" fill="url(#rg)" opacity="0.97"/>
<ellipse cx="192.14" cy="529.14" rx="8.82" ry="5.39" fill="url(#rg)" opacity="0.86"/>
<ellipse cx="229.29" cy="517.14" rx="5.39" ry="5.96" fill="url(#rg)" opacity="1"/>
<ellipse cx="238.43" cy="504" rx="5.39" ry="5.39" fill="url(#rg)" opacity="1"/>
<ellipse cx="244.14" cy="494.29" rx="5.39" ry="4.82" fill="url(#rg)" opacity="1"/>
<ellipse cx="253.57" cy="503.43" rx="7.11" ry="7.68" fill="url(#rg)" opacity="0.89"/>
<ellipse cx="277.29" cy="504.86" rx="10.54" ry="7.68" fill="url(#rg)" opacity="0.97" transform="rotate(-10 277.29 504.86)"/>
<ellipse cx="322.14" cy="504.86" rx="7.68" ry="5.39" fill="url(#rg)" opacity="0.97" transform="rotate(20 322.14 504.86)"/>
<ellipse cx="313.57" cy="516.29" rx="8.25" ry="5.39" fill="url(#rg)" opacity="0.95" transform="rotate(10 313.57 516.29)"/>
<ellipse cx="303.57" cy="532.57" rx="4.82" ry="6.54" fill="url(#rg)" opacity="1"/>
<ellipse cx="278.43" cy="537.71" rx="4.82" ry="6.54" fill="url(#rg)" opacity="1" transform="rotate(15 278.43 537.71)"/>
<ellipse cx="262.14" cy="546.29" rx="7.11" ry="5.39" fill="url(#rg)" opacity="0.95" transform="rotate(20 262.14 546.29)"/>
<ellipse cx="318.43" cy="543.43" rx="7.11" ry="7.68" fill="url(#rg)" opacity="0.78"/>
<ellipse cx="349.86" cy="532.86" rx="5.39" ry="5.96" fill="url(#rg)" opacity="1"/>
<ellipse cx="375" cy="526.86" rx="7.11" ry="8.25" fill="url(#rg)" opacity="0.81"/>
<ellipse cx="392.71" cy="534.86" rx="4.82" ry="7.11" fill="url(#rg)" opacity="0.95"/>
<ellipse cx="383.57" cy="557.71" rx="4.82" ry="6.54" fill="url(#rg)" opacity="0.97" transform="rotate(-20 383.57 557.71)"/>
<ellipse cx="415.86" cy="502.86" rx="5.39" ry="6.54" fill="url(#rg)" opacity="1" transform="rotate(15 415.86 502.86)"/>
<ellipse cx="175" cy="559.14" rx="5.39" ry="5.39" fill="url(#rg)" opacity="0.97"/>
<ellipse cx="197.29" cy="559.14" rx="7.68" ry="5.96" fill="url(#rg)" opacity="1" transform="rotate(-25 197.29 559.14)"/>
<ellipse cx="170.71" cy="569.14" rx="6.54" ry="7.11" fill="url(#rg)" opacity="0.78"/>
<ellipse cx="167" cy="586.29" rx="8.25" ry="6.54" fill="url(#rg)" opacity="0.95"/>
<ellipse cx="239.29" cy="570.57" rx="7.11" ry="4.25" fill="url(#rg)" opacity="1"/>
<ellipse cx="267" cy="567.71" rx="4.82" ry="7.11" fill="url(#rg)" opacity="0.97" transform="rotate(10 267 567.71)"/>
<ellipse cx="259.29" cy="582" rx="5.39" ry="7.11" fill="url(#rg)" opacity="0.92"/>
<ellipse cx="297.86" cy="574.86" rx="7.11" ry="5.39" fill="url(#rg)" opacity="1" transform="rotate(10 297.86 574.86)"/>
<ellipse cx="325" cy="567.71" rx="5.96" ry="6.54" fill="url(#rg)" opacity="0.73"/>
<ellipse cx="311.57" cy="589.14" rx="5.39" ry="7.68" fill="url(#rg)" opacity="1" transform="rotate(-10 311.57 589.14)"/>
<ellipse cx="325.86" cy="592" rx="6.54" ry="6.54" fill="url(#rg)" opacity="0.97"/>
<ellipse cx="211.57" cy="589.14" rx="7.68" ry="7.11" fill="url(#rg)" opacity="1"/>
<ellipse cx="245" cy="597.14" rx="7.11" ry="8.25" fill="url(#rg)" opacity="0.81"/>
<ellipse cx="257.29" cy="604.86" rx="5.96" ry="9.39" fill="url(#rg)" opacity="1"/>
<ellipse cx="288.71" cy="603.43" rx="5.96" ry="7.68" fill="url(#rg)" opacity="0.89"/>
<ellipse cx="307.86" cy="614.86" rx="9.96" ry="9.39" fill="url(#rg)" opacity="0.83" transform="rotate(20 307.86 614.86)"/>
<ellipse cx="278.43" cy="618.29" rx="7.68" ry="7.68" fill="url(#rg)" opacity="1" transform="rotate(-20 278.43 618.29)"/>
<ellipse cx="328.71" cy="622.86" rx="7.11" ry="8.82" fill="url(#rg)" opacity="0.95"/>
<ellipse cx="227.86" cy="619.14" rx="5.96" ry="7.11" fill="url(#rg)" opacity="0.95"/>
<ellipse cx="190.71" cy="619.14" rx="5.96" ry="5.39" fill="url(#rg)" opacity="1" transform="rotate(-20 190.71 619.14)"/>
<ellipse cx="177.29" cy="628.57" rx="7.11" ry="5.39" fill="url(#rg)" opacity="1"/>
<ellipse cx="255" cy="626.86" rx="6.54" ry="6.54" fill="url(#rg)" opacity="0.75"/>
<ellipse cx="160.14" cy="639.14" rx="3.68" ry="6.54" fill="url(#rg)" opacity="0.95"/>
<ellipse cx="176.43" cy="647.71" rx="7.68" ry="6.54" fill="url(#rg)" opacity="0.78"/>
<ellipse cx="192.14" cy="648.57" rx="4.25" ry="4.82" fill="url(#rg)" opacity="0.95"/>
<ellipse cx="261.29" cy="649.14" rx="8.82" ry="5.96" fill="url(#rg)" opacity="0.95" transform="rotate(10 261.29 649.14)"/>
<ellipse cx="160.71" cy="656.29" rx="4.25" ry="4.25" fill="url(#rg)" opacity="0.95"/>
<ellipse cx="166.43" cy="483.43" rx="5.96" ry="8.82" fill="url(#rg)" opacity="0.61"/>
<ellipse cx="272.14" cy="660.57" rx="5.96" ry="3.68" fill="url(#rg)" opacity="0.78"/>
<ellipse cx="166.15" cy="400.01" rx="2.01" ry="2.19" fill="#6a0000" opacity=".24"/>
<ellipse cx="252.38" cy="409.03" rx="2.93" ry="2.19" fill="#6a0000" opacity=".24"/>
<ellipse cx="266.49" cy="400.36" rx="2.38" ry="1.83" fill="#6a0000" opacity=".24"/>
<ellipse cx="238.58" cy="427.73" rx="2.19" ry="2.01" fill="#6a0000" opacity=".24"/>
<ellipse cx="201.4" cy="439.04" rx="1.65" ry="2.01" fill="#6a0000" opacity=".24"/>
<ellipse cx="243.45" cy="441.35" rx="1.65" ry="2.01" fill="#6a0000" opacity=".24"/>
<ellipse cx="194.88" cy="456.81" rx="1.65" ry="2.19" fill="#6a0000" opacity=".24"/>
<ellipse cx="213.54" cy="460.13" rx="2.56" ry="1.83" fill="#6a0000" opacity=".24"/>
<ellipse cx="232.35" cy="457.86" rx="2.38" ry="2.56" fill="#6a0000" opacity=".24"/>
<ellipse cx="160.84" cy="467.55" rx="2.29" ry="4.57" fill="#6a0000" opacity=".24"/>
<ellipse cx="275.76" cy="448.42" rx="1.83" ry="2.38" fill="#6a0000" opacity=".24"/>
<ellipse cx="280.72" cy="457.38" rx="1.65" ry="1.65" fill="#6a0000" opacity=".24"/>
<ellipse cx="295.86" cy="487.1" rx="2.01" ry="2.38" fill="#6a0000" opacity=".24"/>
<ellipse cx="311.26" cy="433.93" rx="1.83" ry="1.65" fill="#6a0000" opacity=".24"/>
<ellipse cx="325.35" cy="433.56" rx="1.83" ry="2.56" fill="#6a0000" opacity=".24"/>
<ellipse cx="315.22" cy="450.37" rx="2.19" ry="2.01" fill="#6a0000" opacity=".24"/>
<ellipse cx="343.65" cy="427.01" rx="1.65" ry="1.83" fill="#6a0000" opacity=".24"/>
<ellipse cx="354.3" cy="440.67" rx="1.65" ry="2.01" fill="#6a0000" opacity=".24"/>
<ellipse cx="345.29" cy="467.6" rx="1.83" ry="1.83" fill="#6a0000" opacity=".24"/>
<ellipse cx="327.56" cy="474.99" rx="1.83" ry="2.19" fill="#6a0000" opacity=".24"/>
<ellipse cx="188.64" cy="488.82" rx="2.01" ry="2.56" fill="#6a0000" opacity=".24"/>
<ellipse cx="187.47" cy="515.18" rx="1.83" ry="2.38" fill="#6a0000" opacity=".24"/>
<ellipse cx="207.45" cy="516.4" rx="1.83" ry="2.19" fill="#6a0000" opacity=".24"/>
<ellipse cx="192.18" cy="529.74" rx="2.74" ry="1.65" fill="#6a0000" opacity=".24"/>
<ellipse cx="229.65" cy="516.8" rx="1.65" ry="1.83" fill="#6a0000" opacity=".24"/>
<ellipse cx="239.2" cy="503.39" rx="1.65" ry="1.65" fill="#6a0000" opacity=".24"/>
<ellipse cx="253.44" cy="503.84" rx="2.19" ry="2.38" fill="#6a0000" opacity=".24"/>
<ellipse cx="276.73" cy="504.84" rx="3.29" ry="2.38" fill="#6a0000" opacity=".24"/>
<ellipse cx="321.41" cy="505.13" rx="2.38" ry="1.65" fill="#6a0000" opacity=".24"/>
<ellipse cx="313.99" cy="516.4" rx="2.56" ry="1.65" fill="#6a0000" opacity=".24"/>
<ellipse cx="262.74" cy="545.99" rx="2.19" ry="1.65" fill="#6a0000" opacity=".24"/>
<ellipse cx="350.17" cy="533.01" rx="1.65" ry="1.83" fill="#6a0000" opacity=".24"/>
<ellipse cx="375.13" cy="526.79" rx="2.19" ry="2.56" fill="#6a0000" opacity=".24"/>
<ellipse cx="416.4" cy="503.57" rx="1.65" ry="2.01" fill="#6a0000" opacity=".24"/>
<ellipse cx="174.96" cy="559.41" rx="1.65" ry="1.65" fill="#6a0000" opacity=".24"/>
<ellipse cx="196.58" cy="559.47" rx="2.38" ry="1.83" fill="#6a0000" opacity=".24"/>
<ellipse cx="167.24" cy="587.07" rx="2.56" ry="2.01" fill="#6a0000" opacity=".24"/>
<ellipse cx="259.8" cy="581.66" rx="1.65" ry="2.19" fill="#6a0000" opacity=".24"/>
<ellipse cx="297.67" cy="575.13" rx="2.19" ry="1.65" fill="#6a0000" opacity=".24"/>
<ellipse cx="310.81" cy="589.08" rx="1.65" ry="2.38" fill="#6a0000" opacity=".24"/>
<ellipse cx="325.33" cy="591.39" rx="2.01" ry="2.01" fill="#6a0000" opacity=".24"/>
<ellipse cx="210.87" cy="589.57" rx="2.38" ry="2.19" fill="#6a0000" opacity=".24"/>
<ellipse cx="244.41" cy="596.74" rx="2.19" ry="2.56" fill="#6a0000" opacity=".24"/>
<ellipse cx="257.11" cy="605.45" rx="1.83" ry="2.93" fill="#6a0000" opacity=".24"/>
<ellipse cx="288.04" cy="603.35" rx="1.83" ry="2.38" fill="#6a0000" opacity=".24"/>
<ellipse cx="307.94" cy="615.47" rx="3.11" ry="2.93" fill="#6a0000" opacity=".24"/>
<ellipse cx="278.94" cy="618.87" rx="2.38" ry="2.38" fill="#6a0000" opacity=".24"/>
<ellipse cx="328.36" cy="622.72" rx="2.19" ry="2.74" fill="#6a0000" opacity=".24"/>
<ellipse cx="227.63" cy="619.76" rx="1.83" ry="2.19" fill="#6a0000" opacity=".24"/>
<ellipse cx="191.45" cy="618.58" rx="1.83" ry="1.65" fill="#6a0000" opacity=".24"/>
<ellipse cx="176.77" cy="628.14" rx="2.19" ry="1.65" fill="#6a0000" opacity=".24"/>
<ellipse cx="260.86" cy="649.12" rx="2.74" ry="1.83" fill="#6a0000" opacity=".24"/>
</g>
</g>
<rect x="477.7" y="396" width="266.3" height="265.7" fill="#170000"/>
<g clip-path="url(#c2)"><g filter="url(#b1)">
<ellipse cx="482.14" cy="407.86" rx="6.54" ry="7.68" fill="url(#rg)" opacity="0.85"/>
<ellipse cx="532.14" cy="400.14" rx="7.68" ry="5.96" fill="url(#rg)" opacity="0.7"/>
<ellipse cx="527.86" cy="415.86" rx="8.25" ry="7.11" fill="url(#rg)" opacity="0.7"/>
<ellipse cx="580.71" cy="431.57" rx="4.82" ry="7.11" fill="url(#rg)" opacity="0.7"/>
<ellipse cx="631.57" cy="418.71" rx="7.68" ry="9.39" fill="url(#rg)" opacity="0.66" transform="rotate(20 631.57 418.71)"/>
<ellipse cx="700.71" cy="399.29" rx="4.82" ry="5.96" fill="url(#rg)" opacity="0.7"/>
<ellipse cx="730.71" cy="429.57" rx="7.11" ry="7.68" fill="url(#rg)" opacity="0.85"/>
<ellipse cx="713.57" cy="447.29" rx="7.11" ry="7.11" fill="url(#rg)" opacity="0.85"/>
<ellipse cx="547" cy="449.29" rx="8.82" ry="8.25" fill="url(#rg)" opacity="0.89"/>
<ellipse cx="535" cy="459.29" rx="5.96" ry="8.25" fill="url(#rg)" opacity="0.66" transform="rotate(-10 535 459.29)"/>
<ellipse cx="564.14" cy="460.14" rx="7.68" ry="5.39" fill="url(#rg)" opacity="0.89" transform="rotate(-10 564.14 460.14)"/>
<ellipse cx="584.43" cy="456.43" rx="7.11" ry="5.96" fill="url(#rg)" opacity="0.85"/>
<ellipse cx="630.71" cy="473" rx="8.82" ry="6.54" fill="url(#rg)" opacity="0.62"/>
<ellipse cx="636.43" cy="485.86" rx="8.25" ry="5.96" fill="url(#rg)" opacity="0.77" transform="rotate(10 636.43 485.86)"/>
<ellipse cx="527.86" cy="495.29" rx="5.39" ry="7.68" fill="url(#rg)" opacity="1"/>
<ellipse cx="560.71" cy="501.57" rx="9.39" ry="8.25" fill="url(#rg)" opacity="1" transform="rotate(10 560.71 501.57)"/>
<ellipse cx="497.86" cy="507.86" rx="7.68" ry="6.54" fill="url(#rg)" opacity="0.85"/>
<ellipse cx="607.86" cy="505.86" rx="6.54" ry="8.82" fill="url(#rg)" opacity="1" transform="rotate(10 607.86 505.86)"/>
<ellipse cx="609.86" cy="520.14" rx="7.11" ry="7.11" fill="url(#rg)" opacity="0.85"/>
<ellipse cx="615.86" cy="535.29" rx="9.96" ry="8.25" fill="url(#rg)" opacity="0.93" transform="rotate(-30 615.86 535.29)"/>
<ellipse cx="700.14" cy="496.43" rx="7.11" ry="8.82" fill="url(#rg)" opacity="0.85" transform="rotate(-20 700.14 496.43)"/>
<ellipse cx="672.14" cy="509.57" rx="7.68" ry="7.11" fill="url(#rg)" opacity="0.7"/>
<ellipse cx="674.43" cy="526.71" rx="7.68" ry="7.11" fill="url(#rg)" opacity="0.85"/>
<ellipse cx="729.86" cy="509.57" rx="7.11" ry="7.68" fill="url(#rg)" opacity="0.85"/>
<ellipse cx="730.14" cy="525" rx="5.96" ry="7.68" fill="url(#rg)" opacity="0.85"/>
<ellipse cx="696.43" cy="540.14" rx="6.54" ry="7.11" fill="url(#rg)" opacity="0.93"/>
<ellipse cx="666.43" cy="545.86" rx="8.25" ry="4.82" fill="url(#rg)" opacity="0.89" transform="rotate(-35 666.43 545.86)"/>
<ellipse cx="505" cy="544.43" rx="7.68" ry="9.96" fill="url(#rg)" opacity="0.66"/>
<ellipse cx="480.14" cy="557.29" rx="4.25" ry="7.11" fill="url(#rg)" opacity="0.7"/>
<ellipse cx="565" cy="545.86" rx="7.11" ry="8.25" fill="url(#rg)" opacity="1"/>
<ellipse cx="602.14" cy="554.43" rx="8.25" ry="7.68" fill="url(#rg)" opacity="0.96"/>
<ellipse cx="637.86" cy="554.43" rx="5.39" ry="7.11" fill="url(#rg)" opacity="0.89" transform="rotate(15 637.86 554.43)"/>
<ellipse cx="673.57" cy="567.86" rx="7.11" ry="6.54" fill="url(#rg)" opacity="0.85"/>
<ellipse cx="704.43" cy="570.14" rx="6.54" ry="8.82" fill="url(#rg)" opacity="0.85"/>
<ellipse cx="611.57" cy="574.43" rx="8.25" ry="6.54" fill="url(#rg)" opacity="0.85"/>
<ellipse cx="642.71" cy="582.14" rx="7.68" ry="6.54" fill="url(#rg)" opacity="0.77" transform="rotate(15 642.71 582.14)"/>
<ellipse cx="545" cy="573.57" rx="9.39" ry="8.25" fill="url(#rg)" opacity="0.89"/>
<ellipse cx="528.43" cy="583" rx="8.25" ry="9.39" fill="url(#rg)" opacity="0.85"/>
<ellipse cx="497.86" cy="584.43" rx="7.68" ry="8.25" fill="url(#rg)" opacity="0.85"/>
<ellipse cx="483.57" cy="587.29" rx="6.54" ry="6.54" fill="url(#rg)" opacity="1"/>
<ellipse cx="507.86" cy="603" rx="7.68" ry="4.82" fill="url(#rg)" opacity="0.85" transform="rotate(10 507.86 603)"/>
<ellipse cx="531.29" cy="616.71" rx="6.54" ry="6.54" fill="url(#rg)" opacity="0.85"/>
<ellipse cx="648.71" cy="609.57" rx="9.39" ry="10.54" fill="url(#rg)" opacity="1" transform="rotate(20 648.71 609.57)"/>
<ellipse cx="677.29" cy="609.57" rx="5.39" ry="7.11" fill="url(#rg)" opacity="0.89"/>
<ellipse cx="625.86" cy="630.14" rx="5.96" ry="6.54" fill="url(#rg)" opacity="0.89"/>
<ellipse cx="638.71" cy="627.86" rx="7.68" ry="8.25" fill="url(#rg)" opacity="0.85"/>
<ellipse cx="655" cy="632.43" rx="7.11" ry="5.96" fill="url(#rg)" opacity="0.85"/>
<ellipse cx="676.43" cy="628.71" rx="8.82" ry="6.54" fill="url(#rg)" opacity="0.66" transform="rotate(-20 676.43 628.71)"/>
<ellipse cx="486.43" cy="635.86" rx="6.54" ry="8.25" fill="url(#rg)" opacity="0.85" transform="rotate(15 486.43 635.86)"/>
<ellipse cx="537.29" cy="654.43" rx="7.11" ry="7.11" fill="url(#rg)" opacity="0.66"/>
<ellipse cx="596.43" cy="657.29" rx="5.96" ry="6.54" fill="url(#rg)" opacity="0.85"/>
<ellipse cx="665" cy="650.14" rx="6.54" ry="4.82" fill="url(#rg)" opacity="0.85" transform="rotate(-10 665 650.14)"/>
<ellipse cx="737.86" cy="632.43" rx="7.11" ry="8.25" fill="url(#rg)" opacity="0.62"/>
<ellipse cx="682.14" cy="658.71" rx="5.39" ry="3.68" fill="url(#rg)" opacity="0.62"/>
<ellipse cx="745" cy="618.71" rx="3.11" ry="6.54" fill="url(#rg)" opacity="0.7"/>
<ellipse cx="649.86" cy="663" rx="4.25" ry="2.54" fill="url(#rg)" opacity="0.77"/>
<ellipse cx="546.43" cy="663" rx="5.96" ry="2.54" fill="url(#rg)" opacity="0.62"/>
<ellipse cx="482.29" cy="407.48" rx="2.01" ry="2.38" fill="#6a0000" opacity=".24"/>
<ellipse cx="729.92" cy="429.44" rx="2.19" ry="2.38" fill="#6a0000" opacity=".24"/>
<ellipse cx="713.36" cy="447.39" rx="2.19" ry="2.19" fill="#6a0000" opacity=".24"/>
<ellipse cx="547.72" cy="449.59" rx="2.74" ry="2.56" fill="#6a0000" opacity=".24"/>
<ellipse cx="564.17" cy="460.33" rx="2.38" ry="1.65" fill="#6a0000" opacity=".24"/>
<ellipse cx="584.71" cy="455.71" rx="2.19" ry="1.83" fill="#6a0000" opacity=".24"/>
<ellipse cx="637.07" cy="486.31" rx="2.56" ry="1.83" fill="#6a0000" opacity=".24"/>
<ellipse cx="528.46" cy="495.76" rx="1.65" ry="2.38" fill="#6a0000" opacity=".24"/>
<ellipse cx="560.54" cy="501.41" rx="2.93" ry="2.56" fill="#6a0000" opacity=".24"/>
<ellipse cx="497.22" cy="508.07" rx="2.38" ry="2.01" fill="#6a0000" opacity=".24"/>
<ellipse cx="607.16" cy="505.16" rx="2.01" ry="2.74" fill="#6a0000" opacity=".24"/>
<ellipse cx="609.39" cy="519.6" rx="2.19" ry="2.19" fill="#6a0000" opacity=".24"/>
<ellipse cx="615.6" cy="534.57" rx="3.11" ry="2.56" fill="#6a0000" opacity=".24"/>
<ellipse cx="699.34" cy="495.87" rx="2.19" ry="2.74" fill="#6a0000" opacity=".24"/>
<ellipse cx="673.79" cy="526.5" rx="2.38" ry="2.19" fill="#6a0000" opacity=".24"/>
<ellipse cx="729.1" cy="510.17" rx="2.19" ry="2.38" fill="#6a0000" opacity=".24"/>
<ellipse cx="730.33" cy="524.44" rx="1.83" ry="2.38" fill="#6a0000" opacity=".24"/>
<ellipse cx="696.03" cy="539.9" rx="2.01" ry="2.19" fill="#6a0000" opacity=".24"/>
<ellipse cx="564.78" cy="545.25" rx="2.19" ry="2.56" fill="#6a0000" opacity=".24"/>
<ellipse cx="602.7" cy="555.22" rx="2.56" ry="2.38" fill="#6a0000" opacity=".24"/>
<ellipse cx="637.8" cy="554.4" rx="1.65" ry="2.19" fill="#6a0000" opacity=".24"/>
<ellipse cx="672.91" cy="567.22" rx="2.19" ry="2.01" fill="#6a0000" opacity=".24"/>
<ellipse cx="704.18" cy="569.77" rx="2.01" ry="2.74" fill="#6a0000" opacity=".24"/>
<ellipse cx="612.1" cy="573.89" rx="2.56" ry="2.01" fill="#6a0000" opacity=".24"/>
<ellipse cx="641.95" cy="582.86" rx="2.38" ry="2.01" fill="#6a0000" opacity=".24"/>
<ellipse cx="545.05" cy="573.01" rx="2.93" ry="2.56" fill="#6a0000" opacity=".24"/>
<ellipse cx="528.5" cy="582.24" rx="2.56" ry="2.93" fill="#6a0000" opacity=".24"/>
<ellipse cx="497.9" cy="585.19" rx="2.38" ry="2.56" fill="#6a0000" opacity=".24"/>
<ellipse cx="484.15" cy="587.6" rx="2.01" ry="2.01" fill="#6a0000" opacity=".24"/>
<ellipse cx="530.9" cy="616.5" rx="2.01" ry="2.01" fill="#6a0000" opacity=".24"/>
<ellipse cx="648.18" cy="610.01" rx="2.93" ry="3.29" fill="#6a0000" opacity=".24"/>
<ellipse cx="677.34" cy="610.02" rx="1.65" ry="2.19" fill="#6a0000" opacity=".24"/>
<ellipse cx="625.58" cy="629.7" rx="1.83" ry="2.01" fill="#6a0000" opacity=".24"/>
<ellipse cx="639.21" cy="628.63" rx="2.38" ry="2.56" fill="#6a0000" opacity=".24"/>
<ellipse cx="655.56" cy="632.92" rx="2.19" ry="1.83" fill="#6a0000" opacity=".24"/>
<ellipse cx="486.94" cy="636.24" rx="2.01" ry="2.56" fill="#6a0000" opacity=".24"/>
<ellipse cx="595.99" cy="657.31" rx="1.83" ry="2.01" fill="#6a0000" opacity=".24"/>
</g>
<circle cx="708.14" cy="440.43" r="2.3" fill="#30ee30" filter="url(#b0)"/>
<circle cx="711.57" cy="443.29" r="2.0" fill="#70e030" filter="url(#b0)"/>
</g>
<line x1="351" y1="637.8" x2="409.7" y2="637.8" stroke="#fff" stroke-width="2.2"/>
<circle cx="351" cy="637.8" r="2.8" fill="#fff"/><circle cx="409.7" cy="637.8" r="2.8" fill="#fff"/>
<text x="380.5" y="650.9" text-anchor="middle" class="sb">50 µm</text>
<line x1="680.3" y1="644.5" x2="738.3" y2="644.5" stroke="#fff" stroke-width="2.2"/>
<circle cx="680.3" cy="644.5" r="2.8" fill="#fff"/><circle cx="738.3" cy="644.5" r="2.8" fill="#fff"/>
<text x="709.4" y="657.6" text-anchor="middle" class="sb">50 µm</text>
<rect x="157.5" y="782.9" width="266.5" height="266" fill="#000"/>
<g clip-path="url(#c3)">
<g filter="url(#gn)"><rect x="150" y="775" width="1" height="1" fill="#000" opacity="0.01"/><rect x="430" y="1055" width="1" height="1" fill="#000" opacity="0.01"/><ellipse cx="247.6" cy="796.68" rx="9.47" ry="11.07" fill="#2a9a2a" opacity=".45"/><ellipse cx="267.28" cy="810.58" rx="8.94" ry="8.41" fill="#2a9a2a" opacity=".45"/><ellipse cx="288.71" cy="795.71" rx="6.51" ry="5.98" fill="#2a9a2a" opacity=".25"/><ellipse cx="283" cy="833.2" rx="7.35" ry="7.35" fill="#2a9a2a" opacity=".45"/><ellipse cx="358.43" cy="816.06" rx="7.35" ry="7.35" fill="#2a9a2a" opacity=".45"/><ellipse cx="401.91" cy="785.14" rx="6.81" ry="4.69" fill="#2a9a2a" opacity=".45"/><ellipse cx="419.29" cy="804.29" rx="6.51" ry="7.58" fill="#2a9a2a" opacity=".25"/><ellipse cx="417.86" cy="834.51" rx="6.81" ry="7.35" fill="#2a9a2a" opacity=".45"/><ellipse cx="339.51" cy="841.43" rx="7.35" ry="7.35" fill="#2a9a2a" opacity=".45"/><ellipse cx="381.31" cy="842.47" rx="8.41" ry="8.41" fill="#2a9a2a" opacity=".45"/><ellipse cx="396.43" cy="842.86" rx="6.51" ry="6.51" fill="#2a9a2a" opacity=".25"/><ellipse cx="363" cy="850.23" rx="8.41" ry="8.41" fill="#2a9a2a" opacity=".45"/><ellipse cx="348.16" cy="862.41" rx="8.41" ry="9.47" fill="#2a9a2a" opacity=".45"/><ellipse cx="368.71" cy="867.99" rx="7.88" ry="8.41" fill="#2a9a2a" opacity=".45"/><ellipse cx="391.51" cy="862.86" rx="7.88" ry="8.94" fill="#2a9a2a" opacity=".45"/><ellipse cx="412.14" cy="868.34" rx="10" ry="8.94" fill="#2a9a2a" opacity=".45"/><ellipse cx="234.77" cy="857.71" rx="7.88" ry="7.88" fill="#2a9a2a" opacity=".45"/><ellipse cx="251.57" cy="864.51" rx="7.35" ry="7.35" fill="#2a9a2a" opacity=".45"/><ellipse cx="267.51" cy="852.86" rx="8.41" ry="10" fill="#2a9a2a" opacity=".45"/><ellipse cx="296.25" cy="852.03" rx="7.35" ry="8.94" fill="#2a9a2a" opacity=".45"/><ellipse cx="249.29" cy="884.29" rx="8.64" ry="9.7" fill="#2a9a2a" opacity=".25"/><ellipse cx="271.87" cy="875.72" rx="7.35" ry="6.81" fill="#2a9a2a" opacity=".45"/><ellipse cx="283" cy="883.49" rx="7.88" ry="8.41" fill="#2a9a2a" opacity=".45"/><ellipse cx="304.77" cy="877.14" rx="7.88" ry="10.53" fill="#2a9a2a" opacity=".45"/><ellipse cx="320.13" cy="883.44" rx="6.81" ry="7.88" fill="#2a9a2a" opacity=".45"/><ellipse cx="319.63" cy="897.14" rx="7.35" ry="8.94" fill="#2a9a2a" opacity=".45"/><ellipse cx="304.66" cy="908" rx="7.88" ry="7.35" fill="#2a9a2a" opacity=".45"/><ellipse cx="321.56" cy="915.99" rx="8.41" ry="8.41" fill="#2a9a2a" opacity=".45"/><ellipse cx="275.01" cy="897.99" rx="6.28" ry="7.35" fill="#2a9a2a" opacity=".45"/><ellipse cx="222.71" cy="897.71" rx="7.58" ry="7.05" fill="#2a9a2a" opacity=".25"/><ellipse cx="354.43" cy="882.86" rx="5.98" ry="8.11" fill="#2a9a2a" opacity=".25"/><ellipse cx="361.8" cy="902.29" rx="7.88" ry="7.88" fill="#2a9a2a" opacity=".45"/><ellipse cx="345.86" cy="919.43" rx="6.51" ry="6.51" fill="#2a9a2a" opacity=".25"/><ellipse cx="413.57" cy="888.57" rx="6.51" ry="7.05" fill="#2a9a2a" opacity=".25"/><ellipse cx="423" cy="894.29" rx="4.39" ry="7.05" fill="#2a9a2a" opacity=".25"/><ellipse cx="160.71" cy="872.06" rx="5.75" ry="7.88" fill="#2a9a2a" opacity=".45"/><ellipse cx="168.66" cy="895.14" rx="7.88" ry="10" fill="#2a9a2a" opacity=".45"/><ellipse cx="160.14" cy="908.8" rx="5.22" ry="8.94" fill="#2a9a2a" opacity=".45"/><ellipse cx="175.58" cy="922.58" rx="9.47" ry="9.47" fill="#2a9a2a" opacity=".45"/><ellipse cx="188.71" cy="935.94" rx="7.88" ry="8.41" fill="#2a9a2a" opacity=".45"/><ellipse cx="202.14" cy="938.57" rx="7.05" ry="7.05" fill="#2a9a2a" opacity=".25"/><ellipse cx="249.91" cy="919.43" rx="7.35" ry="7.88" fill="#2a9a2a" opacity=".45"/><ellipse cx="234.15" cy="937.99" rx="9.47" ry="8.94" fill="#2a9a2a" opacity=".45"/><ellipse cx="252.77" cy="937.14" rx="6.28" ry="6.81" fill="#2a9a2a" opacity=".45"/><ellipse cx="317" cy="949.66" rx="7.35" ry="7.88" fill="#2a9a2a" opacity=".45"/><ellipse cx="408.71" cy="918.8" rx="8.41" ry="8.41" fill="#2a9a2a" opacity=".45"/><ellipse cx="396.66" cy="930" rx="6.81" ry="7.35" fill="#2a9a2a" opacity=".45"/><ellipse cx="421.29" cy="931.43" rx="5.45" ry="7.58" fill="#2a9a2a" opacity=".25"/><ellipse cx="417.86" cy="959.43" rx="7.05" ry="8.11" fill="#2a9a2a" opacity=".25"/><ellipse cx="268.44" cy="960.85" rx="8.94" ry="8.41" fill="#2a9a2a" opacity=".45"/><ellipse cx="285" cy="960" rx="3.86" ry="3.33" fill="#2a9a2a" opacity=".25"/><ellipse cx="229.01" cy="967.99" rx="8.41" ry="7.88" fill="#2a9a2a" opacity=".45"/><ellipse cx="242.72" cy="979.15" rx="7.35" ry="6.81" fill="#2a9a2a" opacity=".45"/><ellipse cx="259.59" cy="978.16" rx="8.94" ry="9.47" fill="#2a9a2a" opacity=".45"/><ellipse cx="258.44" cy="994.87" rx="9.47" ry="7.88" fill="#2a9a2a" opacity=".45"/><ellipse cx="326.43" cy="974.51" rx="11.6" ry="11.07" fill="#2a9a2a" opacity=".45"/><ellipse cx="342.14" cy="975.94" rx="11.07" ry="10" fill="#2a9a2a" opacity=".45"/><ellipse cx="307.86" cy="970" rx="3.86" ry="3.86" fill="#2a9a2a" opacity=".25"/><ellipse cx="172.72" cy="990.01" rx="7.88" ry="7.35" fill="#2a9a2a" opacity=".45"/><ellipse cx="400.13" cy="982.58" rx="6.81" ry="8.94" fill="#2a9a2a" opacity=".45"/><ellipse cx="342.14" cy="1010.86" rx="8.11" ry="7.58" fill="#2a9a2a" opacity=".25"/><ellipse cx="161.91" cy="1016.57" rx="5.75" ry="8.41" fill="#2a9a2a" opacity=".45"/><ellipse cx="179.06" cy="1014.86" rx="8.41" ry="9.47" fill="#2a9a2a" opacity=".45"/><ellipse cx="207.06" cy="1016.57" rx="7.88" ry="7.35" fill="#2a9a2a" opacity=".45"/><ellipse cx="160.14" cy="1034.29" rx="4.39" ry="6.51" fill="#2a9a2a" opacity=".25"/><ellipse cx="393.57" cy="1030" rx="7.05" ry="7.05" fill="#2a9a2a" opacity=".25"/><ellipse cx="413.57" cy="1031.43" rx="5.98" ry="5.98" fill="#2a9a2a" opacity=".25"/><ellipse cx="315" cy="827.14" rx="5.98" ry="3.86" fill="#2a9a2a" opacity=".25"/><ellipse cx="423.8" cy="1002.86" rx="4.16" ry="7.88" fill="#2a9a2a" opacity=".45"/><ellipse cx="240.71" cy="782.23" rx="4.16" ry="3.63" fill="#2a9a2a" opacity=".45"/><ellipse cx="423.57" cy="962.86" rx="3.33" ry="6.51" fill="#2a9a2a" opacity=".25"/><ellipse cx="180.71" cy="787.14" rx="8.25" ry="7.18" fill="#30b830" opacity=".85"/><ellipse cx="213.57" cy="805.14" rx="10.9" ry="10.37" fill="#30b830" opacity=".85"/><ellipse cx="250.07" cy="791.54" rx="7.38" ry="8.73" fill="#34d834"/><ellipse cx="270.54" cy="807.55" rx="6.92" ry="6.47" fill="#34d834"/><ellipse cx="283" cy="836.82" rx="5.57" ry="5.57" fill="#34d834"/><ellipse cx="358.43" cy="819.68" rx="5.57" ry="5.57" fill="#34d834"/><ellipse cx="405.21" cy="785.14" rx="5.12" ry="3.31" fill="#34d834"/><ellipse cx="408.71" cy="818.57" rx="8.25" ry="8.78" fill="#30b830" opacity=".85"/><ellipse cx="417.86" cy="830.89" rx="5.12" ry="5.57" fill="#34d834"/><ellipse cx="335.89" cy="841.43" rx="5.57" ry="5.57" fill="#34d834"/><ellipse cx="383.46" cy="846.18" rx="6.47" ry="6.47" fill="#34d834"/><ellipse cx="363" cy="845.95" rx="6.47" ry="6.47" fill="#34d834"/><ellipse cx="344.13" cy="864.1" rx="6.47" ry="7.38" fill="#34d834"/><ellipse cx="371.5" cy="871.02" rx="6.02" ry="6.47" fill="#34d834"/><ellipse cx="387.56" cy="862.86" rx="6.02" ry="6.92" fill="#34d834"/><ellipse cx="412.14" cy="872.96" rx="7.83" ry="6.92" fill="#34d834"/><ellipse cx="337.86" cy="870" rx="7.71" ry="7.18" fill="#30b830" opacity=".85"/><ellipse cx="238.73" cy="857.71" rx="6.02" ry="6.02" fill="#34d834"/><ellipse cx="251.57" cy="860.89" rx="5.57" ry="5.57" fill="#34d834"/><ellipse cx="263.23" cy="852.86" rx="6.47" ry="7.83" fill="#34d834"/><ellipse cx="293.11" cy="854.33" rx="5.57" ry="6.92" fill="#34d834"/><ellipse cx="269.3" cy="873.39" rx="5.57" ry="5.12" fill="#34d834"/><ellipse cx="283" cy="887.77" rx="6.02" ry="6.47" fill="#34d834"/><ellipse cx="308.73" cy="877.14" rx="6.02" ry="8.28" fill="#34d834"/><ellipse cx="322.46" cy="880.64" rx="5.12" ry="6.02" fill="#34d834"/><ellipse cx="323.25" cy="897.14" rx="5.57" ry="6.92" fill="#34d834"/><ellipse cx="300.7" cy="908" rx="6.02" ry="5.57" fill="#34d834"/><ellipse cx="324.59" cy="919.02" rx="6.47" ry="6.47" fill="#34d834"/><ellipse cx="272.91" cy="900.55" rx="4.67" ry="5.57" fill="#34d834"/><ellipse cx="357.85" cy="902.29" rx="6.02" ry="6.02" fill="#34d834"/><ellipse cx="160.71" cy="876.01" rx="4.21" ry="6.02" fill="#34d834"/><ellipse cx="164.7" cy="895.14" rx="6.02" ry="7.83" fill="#34d834"/><ellipse cx="160.14" cy="904.19" rx="3.76" ry="6.92" fill="#34d834"/><ellipse cx="172.09" cy="919.09" rx="7.38" ry="7.38" fill="#34d834"/><ellipse cx="188.71" cy="931.66" rx="6.02" ry="6.47" fill="#34d834"/><ellipse cx="253.54" cy="919.43" rx="5.57" ry="6.02" fill="#34d834"/><ellipse cx="230.66" cy="941.25" rx="7.38" ry="6.92" fill="#34d834"/><ellipse cx="255.74" cy="937.14" rx="4.67" ry="5.12" fill="#34d834"/><ellipse cx="329.86" cy="932" rx="9.31" ry="9.84" fill="#30b830" opacity=".85"/><ellipse cx="317" cy="945.7" rx="5.57" ry="6.02" fill="#34d834"/><ellipse cx="408.71" cy="914.52" rx="6.47" ry="6.47" fill="#34d834"/><ellipse cx="393.36" cy="930" rx="5.12" ry="5.57" fill="#34d834"/><ellipse cx="410.71" cy="937.14" rx="7.71" ry="7.71" fill="#30b830" opacity=".85"/><ellipse cx="265.18" cy="963.88" rx="6.92" ry="6.47" fill="#34d834"/><ellipse cx="225.98" cy="970.79" rx="6.47" ry="6.02" fill="#34d834"/><ellipse cx="240.16" cy="976.82" rx="5.57" ry="5.12" fill="#34d834"/><ellipse cx="255.25" cy="976.47" rx="6.92" ry="7.38" fill="#34d834"/><ellipse cx="254.94" cy="992.07" rx="7.38" ry="6.02" fill="#34d834"/><ellipse cx="326.43" cy="968.58" rx="9.18" ry="8.73" fill="#34d834"/><ellipse cx="342.14" cy="970.67" rx="8.73" ry="7.83" fill="#34d834"/><ellipse cx="169.93" cy="987.45" rx="6.02" ry="5.57" fill="#34d834"/><ellipse cx="402.46" cy="979.32" rx="5.12" ry="6.92" fill="#34d834"/><ellipse cx="379.29" cy="999.43" rx="10.9" ry="10.37" fill="#30b830" opacity=".85"/><ellipse cx="407.86" cy="1008.57" rx="8.78" ry="10.37" fill="#30b830" opacity=".85"/><ellipse cx="383.57" cy="1019.43" rx="9.84" ry="8.78" fill="#30b830" opacity=".85"/><ellipse cx="330.71" cy="1021.43" rx="8.78" ry="8.25" fill="#30b830" opacity=".85"/><ellipse cx="164.55" cy="1016.57" rx="4.21" ry="6.47" fill="#34d834"/><ellipse cx="183.34" cy="1014.86" rx="6.47" ry="7.38" fill="#34d834"/><ellipse cx="211.01" cy="1016.57" rx="6.02" ry="5.57" fill="#34d834"/><ellipse cx="172.14" cy="1044.29" rx="9.31" ry="7.71" fill="#30b830" opacity=".85"/><ellipse cx="360.71" cy="1044.29" rx="8.78" ry="7.18" fill="#30b830" opacity=".85"/><ellipse cx="422.15" cy="1002.86" rx="2.86" ry="6.02" fill="#34d834"/><ellipse cx="240.71" cy="780.91" rx="2.86" ry="2.41" fill="#34d834"/><ellipse cx="333.57" cy="1010.86" rx="6.29" ry="6.29" fill="#35d535" opacity="0.95"/><ellipse cx="329.86" cy="991.43" rx="2" ry="1.43" fill="#35d535" opacity="1"/><ellipse cx="249.29" cy="790" rx="6.86" ry="5.14" fill="#35d535" opacity="0.7"/></g>
<g filter="url(#nr)"><rect x="150" y="775" width="1" height="1" fill="#000" opacity="0.01"/><rect x="430" y="1055" width="1" height="1" fill="#000" opacity="0.01"/><ellipse cx="180.71" cy="787.14" rx="5.85" ry="4.78" fill="#ee2012" opacity="0.9"/><ellipse cx="213.57" cy="805.14" rx="8.5" ry="7.97" fill="#ee2012" opacity="0.9"/><ellipse cx="247" cy="797.71" rx="7.97" ry="9.57" fill="#ee2012" opacity="0.95"/><ellipse cx="266.43" cy="811.43" rx="7.44" ry="6.91" fill="#ee2012" opacity="0.95"/><ellipse cx="288.71" cy="795.71" rx="5.31" ry="4.78" fill="#ee2012" opacity="0.9"/><ellipse cx="283" cy="832" rx="5.85" ry="5.85" fill="#ee2012" opacity="1"/><ellipse cx="358.43" cy="814.86" rx="5.85" ry="5.85" fill="#ee2012" opacity="0.9"/><ellipse cx="400.71" cy="785.14" rx="5.31" ry="3.19" fill="#ee2012" opacity="0.9"/><ellipse cx="419.29" cy="804.29" rx="5.31" ry="6.38" fill="#ee2012" opacity="0.9"/><ellipse cx="408.71" cy="818.57" rx="5.85" ry="6.38" fill="#ee2012" opacity="0.85"/><ellipse cx="417.86" cy="835.71" rx="5.31" ry="5.85" fill="#ee2012" opacity="0.9"/><ellipse cx="340.71" cy="841.43" rx="5.85" ry="5.85" fill="#ee2012" opacity="1"/><ellipse cx="380.71" cy="841.43" rx="6.91" ry="6.91" fill="#ee2012" opacity="0.9"/><ellipse cx="396.43" cy="842.86" rx="5.31" ry="5.31" fill="#ee2012" opacity="0.9"/><ellipse cx="363" cy="851.43" rx="6.91" ry="6.91" fill="#ee2012" opacity="1"/><ellipse cx="349.29" cy="862" rx="6.91" ry="7.97" fill="#ee2012" opacity="1"/><ellipse cx="367.86" cy="867.14" rx="6.38" ry="6.91" fill="#ee2012" opacity="1"/><ellipse cx="392.71" cy="862.86" rx="6.38" ry="7.44" fill="#ee2012" opacity="0.95"/><ellipse cx="412.14" cy="867.14" rx="8.5" ry="7.44" fill="#ee2012" opacity="0.9"/><ellipse cx="337.86" cy="870" rx="5.31" ry="4.78" fill="#ee2012" opacity="0.8"/><ellipse cx="233.57" cy="857.71" rx="6.38" ry="6.38" fill="#ee2012" opacity="1"/><ellipse cx="251.57" cy="865.71" rx="5.85" ry="5.85" fill="#ee2012" opacity="1"/><ellipse cx="268.71" cy="852.86" rx="6.91" ry="8.5" fill="#ee2012" opacity="0.95"/><ellipse cx="297.29" cy="851.43" rx="5.85" ry="7.44" fill="#ee2012" opacity="0.95"/><ellipse cx="249.29" cy="884.29" rx="7.44" ry="8.5" fill="#ee2012" opacity="1"/><ellipse cx="272.71" cy="876.57" rx="5.85" ry="5.31" fill="#ee2012" opacity="1"/><ellipse cx="283" cy="882.29" rx="6.38" ry="6.91" fill="#ee2012" opacity="1"/><ellipse cx="303.57" cy="877.14" rx="6.38" ry="9.03" fill="#ee2012" opacity="0.95"/><ellipse cx="319.29" cy="884.29" rx="5.31" ry="6.38" fill="#ee2012" opacity="0.95"/><ellipse cx="318.43" cy="897.14" rx="5.85" ry="7.44" fill="#ee2012" opacity="1"/><ellipse cx="305.86" cy="908" rx="6.38" ry="5.85" fill="#ee2012" opacity="1"/><ellipse cx="320.71" cy="915.14" rx="6.91" ry="6.91" fill="#ee2012" opacity="1"/><ellipse cx="275.86" cy="897.14" rx="4.78" ry="5.85" fill="#ee2012" opacity="1"/><ellipse cx="222.71" cy="897.71" rx="6.38" ry="5.85" fill="#ee2012" opacity="0.95"/><ellipse cx="354.43" cy="882.86" rx="4.78" ry="6.91" fill="#ee2012" opacity="0.6"/><ellipse cx="363" cy="902.29" rx="6.38" ry="6.38" fill="#ee2012" opacity="1"/><ellipse cx="345.86" cy="919.43" rx="5.31" ry="5.31" fill="#ee2012" opacity="0.9"/><ellipse cx="413.57" cy="888.57" rx="5.31" ry="5.85" fill="#ee2012" opacity="0.9"/><ellipse cx="423" cy="894.29" rx="3.19" ry="5.85" fill="#ee2012" opacity="0.9"/><ellipse cx="160.71" cy="870.86" rx="4.25" ry="6.38" fill="#ee2012" opacity="0.9"/><ellipse cx="169.86" cy="895.14" rx="6.38" ry="8.5" fill="#ee2012" opacity="0.95"/><ellipse cx="160.14" cy="910" rx="3.72" ry="7.44" fill="#ee2012" opacity="0.9"/><ellipse cx="176.43" cy="923.43" rx="7.97" ry="7.97" fill="#ee2012" opacity="1"/><ellipse cx="188.71" cy="937.14" rx="6.38" ry="6.91" fill="#ee2012" opacity="0.95"/><ellipse cx="202.14" cy="938.57" rx="5.85" ry="5.85" fill="#ee2012" opacity="1"/><ellipse cx="248.71" cy="919.43" rx="5.85" ry="6.38" fill="#ee2012" opacity="0.95"/><ellipse cx="235" cy="937.14" rx="7.97" ry="7.44" fill="#ee2012" opacity="0.95"/><ellipse cx="251.57" cy="937.14" rx="4.78" ry="5.31" fill="#ee2012" opacity="1"/><ellipse cx="329.86" cy="932" rx="6.91" ry="7.44" fill="#ee2012" opacity="0.95"/><ellipse cx="317" cy="950.86" rx="5.85" ry="6.38" fill="#ee2012" opacity="0.95"/><ellipse cx="408.71" cy="920" rx="6.91" ry="6.91" fill="#ee2012" opacity="0.9"/><ellipse cx="397.86" cy="930" rx="5.31" ry="5.85" fill="#ee2012" opacity="0.95"/><ellipse cx="421.29" cy="931.43" rx="4.25" ry="6.38" fill="#ee2012" opacity="0.9"/><ellipse cx="410.71" cy="937.14" rx="5.31" ry="5.31" fill="#ee2012" opacity="0.8"/><ellipse cx="417.86" cy="959.43" rx="5.85" ry="6.91" fill="#ee2012" opacity="0.9"/><ellipse cx="269.29" cy="960" rx="7.44" ry="6.91" fill="#ee2012" opacity="1"/><ellipse cx="285" cy="960" rx="2.66" ry="2.13" fill="#ee2012" opacity="0.8"/><ellipse cx="229.86" cy="967.14" rx="6.91" ry="6.38" fill="#ee2012" opacity="1"/><ellipse cx="243.57" cy="980" rx="5.85" ry="5.31" fill="#ee2012" opacity="1"/><ellipse cx="260.71" cy="978.57" rx="7.44" ry="7.97" fill="#ee2012" opacity="1"/><ellipse cx="259.29" cy="995.71" rx="7.97" ry="6.38" fill="#ee2012" opacity="1"/><ellipse cx="326.43" cy="975.71" rx="10.1" ry="9.57" fill="#ee2012" opacity="1"/><ellipse cx="342.14" cy="977.14" rx="9.57" ry="8.5" fill="#ee2012" opacity="0.95"/><ellipse cx="307.86" cy="970" rx="2.66" ry="2.66" fill="#ee2012" opacity="0.8"/><ellipse cx="173.57" cy="990.86" rx="6.38" ry="5.85" fill="#ee2012" opacity="1"/><ellipse cx="399.29" cy="983.43" rx="5.31" ry="7.44" fill="#ee2012" opacity="0.95"/><ellipse cx="379.29" cy="999.43" rx="8.5" ry="7.97" fill="#ee2012" opacity="0.85"/><ellipse cx="407.86" cy="1008.57" rx="6.38" ry="7.97" fill="#ee2012" opacity="0.8"/><ellipse cx="383.57" cy="1019.43" rx="7.44" ry="6.38" fill="#ee2012" opacity="0.9"/><ellipse cx="342.14" cy="1010.86" rx="6.91" ry="6.38" fill="#ee2012" opacity="1"/><ellipse cx="330.71" cy="1021.43" rx="6.38" ry="5.85" fill="#ee2012" opacity="0.9"/><ellipse cx="160.71" cy="1016.57" rx="4.25" ry="6.91" fill="#ee2012" opacity="0.95"/><ellipse cx="177.86" cy="1014.86" rx="6.91" ry="7.97" fill="#ee2012" opacity="1"/><ellipse cx="205.86" cy="1016.57" rx="6.38" ry="5.85" fill="#ee2012" opacity="1"/><ellipse cx="160.14" cy="1034.29" rx="3.19" ry="5.31" fill="#ee2012" opacity="0.9"/><ellipse cx="172.14" cy="1044.29" rx="6.91" ry="5.31" fill="#ee2012" opacity="0.9"/><ellipse cx="360.71" cy="1044.29" rx="6.38" ry="4.78" fill="#ee2012" opacity="0.9"/><ellipse cx="393.57" cy="1030" rx="5.85" ry="5.85" fill="#ee2012" opacity="0.9"/><ellipse cx="413.57" cy="1031.43" rx="4.78" ry="4.78" fill="#ee2012" opacity="0.8"/><ellipse cx="315" cy="827.14" rx="4.78" ry="2.66" fill="#ee2012" opacity="0.3"/><ellipse cx="425" cy="1002.86" rx="2.66" ry="6.38" fill="#ee2012" opacity="0.8"/><ellipse cx="240.71" cy="783.43" rx="2.66" ry="2.13" fill="#ee2012" opacity="0.6"/><ellipse cx="423.57" cy="962.86" rx="2.13" ry="5.31" fill="#ee2012" opacity="0.8"/></g>
<g filter="url(#b0)" opacity=".7"><circle cx="178.52" cy="789.44" r="0.49" fill="#e09018"/><circle cx="184.56" cy="787.72" r="0.59" fill="#d8b020"/><circle cx="184.97" cy="787.76" r="0.66" fill="#d8b020"/><circle cx="179.73" cy="791.46" r="0.45" fill="#c8c020"/><circle cx="180.41" cy="791.4" r="0.7" fill="#c8c020"/><circle cx="178.76" cy="782.92" r="0.57" fill="#90c830"/><circle cx="183.77" cy="786.44" r="0.78" fill="#c8c020"/><circle cx="176.67" cy="788.28" r="0.7" fill="#d8b020"/><circle cx="185.37" cy="785.55" r="0.47" fill="#e09018"/><circle cx="183.71" cy="786.96" r="0.64" fill="#c8c020"/><circle cx="185.78" cy="785.94" r="0.46" fill="#c8c020"/><circle cx="177.52" cy="790.12" r="0.54" fill="#e09018"/><circle cx="221" cy="806.09" r="0.53" fill="#c8c020"/><circle cx="215.95" cy="798.18" r="0.42" fill="#90c830"/><circle cx="212.38" cy="797.66" r="0.66" fill="#c8c020"/><circle cx="219.78" cy="809.53" r="0.75" fill="#e09018"/><circle cx="213.55" cy="799.04" r="0.61" fill="#d8b020"/><circle cx="218.68" cy="810.87" r="0.71" fill="#d8b020"/><circle cx="221.1" cy="804.55" r="0.46" fill="#e09018"/><circle cx="215.7" cy="810.67" r="0.69" fill="#d8b020"/><circle cx="217.53" cy="801.38" r="0.61" fill="#c8c020"/><circle cx="221.04" cy="806.39" r="0.44" fill="#d8b020"/><circle cx="214.8" cy="809.98" r="0.51" fill="#d8b020"/><circle cx="207.16" cy="805.1" r="0.62" fill="#d8b020"/><circle cx="248.79" cy="792.09" r="0.62" fill="#e09018"/><circle cx="252.45" cy="791.83" r="0.45" fill="#d8b020"/><circle cx="249.85" cy="792" r="0.53" fill="#e09018"/><circle cx="250.01" cy="791.92" r="0.49" fill="#90c830"/><circle cx="253.21" cy="793.56" r="0.76" fill="#e09018"/><circle cx="249.94" cy="789.14" r="0.66" fill="#90c830"/><circle cx="249.63" cy="793.25" r="0.75" fill="#c8c020"/><circle cx="249.17" cy="792.49" r="0.78" fill="#c8c020"/><circle cx="254.38" cy="799.38" r="0.47" fill="#e09018"/><circle cx="251.08" cy="795.1" r="0.57" fill="#c8c020"/><circle cx="252.34" cy="797.74" r="0.48" fill="#90c830"/><circle cx="251.28" cy="798.69" r="0.55" fill="#90c830"/><circle cx="269.54" cy="809.3" r="0.71" fill="#90c830"/><circle cx="270.22" cy="806.49" r="0.73" fill="#90c830"/><circle cx="263.65" cy="807.31" r="0.61" fill="#c8c020"/><circle cx="268.39" cy="805.84" r="0.44" fill="#d8b020"/><circle cx="272.49" cy="808.78" r="0.47" fill="#d8b020"/><circle cx="269.88" cy="808.44" r="0.41" fill="#d8b020"/><circle cx="263.63" cy="805.78" r="0.43" fill="#e09018"/><circle cx="269.77" cy="813.41" r="0.75" fill="#c8c020"/><circle cx="270.19" cy="811.5" r="0.8" fill="#c8c020"/><circle cx="272.61" cy="814.8" r="0.51" fill="#e09018"/><circle cx="265.21" cy="808.01" r="0.68" fill="#d8b020"/><circle cx="267.38" cy="804.68" r="0.5" fill="#e09018"/><circle cx="286.35" cy="835.05" r="0.48" fill="#c8c020"/><circle cx="284.82" cy="835.15" r="0.58" fill="#c8c020"/><circle cx="285.51" cy="836.14" r="0.62" fill="#c8c020"/><circle cx="279.18" cy="836.31" r="0.52" fill="#e09018"/><circle cx="286.21" cy="836.83" r="0.54" fill="#e09018"/><circle cx="283" cy="836.11" r="0.54" fill="#d8b020"/><circle cx="287.2" cy="835.34" r="0.41" fill="#90c830"/><circle cx="284.73" cy="835.81" r="0.42" fill="#c8c020"/><circle cx="288.33" cy="833.22" r="0.67" fill="#90c830"/><circle cx="286" cy="835.58" r="0.68" fill="#d8b020"/><circle cx="287.17" cy="832.92" r="0.46" fill="#c8c020"/><circle cx="281.22" cy="834.33" r="0.55" fill="#90c830"/><circle cx="355.58" cy="815.59" r="0.51" fill="#d8b020"/><circle cx="357.99" cy="818.17" r="0.63" fill="#c8c020"/><circle cx="360.38" cy="817.12" r="0.52" fill="#e09018"/><circle cx="355.37" cy="815.7" r="0.78" fill="#e09018"/><circle cx="360.89" cy="819.03" r="0.69" fill="#c8c020"/><circle cx="360.44" cy="819.61" r="0.69" fill="#c8c020"/><circle cx="361.74" cy="815.45" r="0.69" fill="#e09018"/><circle cx="359.42" cy="817.74" r="0.73" fill="#c8c020"/><circle cx="358.79" cy="819.91" r="0.72" fill="#e09018"/><circle cx="358.39" cy="820.44" r="0.7" fill="#d8b020"/><circle cx="362.39" cy="818.44" r="0.63" fill="#e09018"/><circle cx="358.39" cy="818.03" r="0.42" fill="#90c830"/><circle cx="401.54" cy="786.81" r="0.61" fill="#c8c020"/><circle cx="403.85" cy="784.47" r="0.43" fill="#90c830"/><circle cx="403.97" cy="784.88" r="0.7" fill="#e09018"/><circle cx="402.15" cy="782.51" r="0.79" fill="#c8c020"/><circle cx="401.82" cy="782.28" r="0.43" fill="#90c830"/><circle cx="405.39" cy="785.39" r="0.65" fill="#e09018"/><circle cx="402.88" cy="784.02" r="0.46" fill="#90c830"/><circle cx="404.18" cy="783.53" r="0.68" fill="#e09018"/><circle cx="403.39" cy="784.95" r="0.42" fill="#90c830"/><circle cx="402.61" cy="782.21" r="0.44" fill="#e09018"/><circle cx="402.3" cy="787.64" r="0.52" fill="#90c830"/><circle cx="402.44" cy="787.24" r="0.59" fill="#d8b020"/><circle cx="414.35" cy="818.31" r="0.43" fill="#d8b020"/><circle cx="405.53" cy="817.47" r="0.61" fill="#90c830"/><circle cx="407.46" cy="821.92" r="0.73" fill="#90c830"/><circle cx="413.45" cy="821.66" r="0.68" fill="#e09018"/><circle cx="404.4" cy="819.38" r="0.75" fill="#c8c020"/><circle cx="407.98" cy="821.74" r="0.4" fill="#c8c020"/><circle cx="413.07" cy="821.05" r="0.56" fill="#e09018"/><circle cx="404.58" cy="818.38" r="0.55" fill="#d8b020"/><circle cx="414.09" cy="818.37" r="0.4" fill="#90c830"/><circle cx="414.09" cy="818.35" r="0.45" fill="#e09018"/><circle cx="404.92" cy="822.14" r="0.76" fill="#90c830"/><circle cx="411.89" cy="816.57" r="0.43" fill="#c8c020"/><circle cx="421.81" cy="834.93" r="0.48" fill="#90c830"/><circle cx="419.03" cy="830.66" r="0.57" fill="#d8b020"/><circle cx="416.03" cy="830.81" r="0.65" fill="#e09018"/><circle cx="416.95" cy="830.79" r="0.42" fill="#c8c020"/><circle cx="415.59" cy="832.28" r="0.7" fill="#90c830"/><circle cx="414.1" cy="834.39" r="0.76" fill="#e09018"/><circle cx="415.07" cy="834.2" r="0.57" fill="#90c830"/><circle cx="420.63" cy="833.46" r="0.7" fill="#90c830"/><circle cx="415.75" cy="832.32" r="0.5" fill="#c8c020"/><circle cx="421.74" cy="834.13" r="0.56" fill="#e09018"/><circle cx="415.04" cy="832.04" r="0.43" fill="#c8c020"/><circle cx="415.35" cy="832.12" r="0.58" fill="#90c830"/><circle cx="339.96" cy="837.37" r="0.57" fill="#e09018"/><circle cx="336.73" cy="841.99" r="0.54" fill="#d8b020"/><circle cx="338.37" cy="845.13" r="0.63" fill="#90c830"/><circle cx="338.56" cy="843.92" r="0.6" fill="#e09018"/><circle cx="339.39" cy="844.33" r="0.76" fill="#c8c020"/><circle cx="337.02" cy="843.18" r="0.58" fill="#90c830"/><circle cx="338.47" cy="846.34" r="0.75" fill="#d8b020"/><circle cx="338.26" cy="843.62" r="0.57" fill="#c8c020"/><circle cx="336.22" cy="845.02" r="0.6" fill="#d8b020"/><circle cx="336.72" cy="840.64" r="0.77" fill="#c8c020"/><circle cx="338" cy="836.34" r="0.5" fill="#d8b020"/><circle cx="337.97" cy="839.13" r="0.46" fill="#d8b020"/><circle cx="378.18" cy="844.39" r="0.5" fill="#c8c020"/><circle cx="380.15" cy="847.27" r="0.44" fill="#d8b020"/><circle cx="381.22" cy="845.89" r="0.78" fill="#e09018"/><circle cx="379.69" cy="846.11" r="0.49" fill="#d8b020"/><circle cx="382.81" cy="844.22" r="0.52" fill="#c8c020"/><circle cx="382.35" cy="845.53" r="0.53" fill="#e09018"/><circle cx="385.67" cy="840.22" r="0.49" fill="#e09018"/><circle cx="379.78" cy="844.86" r="0.56" fill="#90c830"/><circle cx="384.2" cy="842.51" r="0.48" fill="#c8c020"/><circle cx="378.46" cy="844.4" r="0.49" fill="#c8c020"/><circle cx="381.49" cy="848.03" r="0.49" fill="#d8b020"/><circle cx="385.86" cy="844.23" r="0.69" fill="#90c830"/><circle cx="365.18" cy="847.52" r="0.78" fill="#c8c020"/><circle cx="358.85" cy="847.73" r="0.76" fill="#c8c020"/><circle cx="366.61" cy="848.12" r="0.67" fill="#e09018"/><circle cx="367.11" cy="846.22" r="0.42" fill="#d8b020"/><circle cx="363.09" cy="844.61" r="0.46" fill="#d8b020"/><circle cx="358.67" cy="847.41" r="0.47" fill="#c8c020"/><circle cx="369.34" cy="849.75" r="0.75" fill="#d8b020"/><circle cx="359.54" cy="845.46" r="0.77" fill="#90c830"/><circle cx="366.21" cy="848.85" r="0.66" fill="#c8c020"/><circle cx="360.57" cy="848.82" r="0.67" fill="#c8c020"/><circle cx="358.54" cy="846.9" r="0.79" fill="#c8c020"/><circle cx="365.69" cy="848.41" r="0.4" fill="#90c830"/><circle cx="349.01" cy="868.14" r="0.58" fill="#90c830"/><circle cx="345.32" cy="864.94" r="0.76" fill="#d8b020"/><circle cx="345.07" cy="857.68" r="0.5" fill="#c8c020"/><circle cx="345.75" cy="862.74" r="0.41" fill="#d8b020"/><circle cx="343.49" cy="859.38" r="0.42" fill="#e09018"/><circle cx="344.61" cy="866.4" r="0.76" fill="#90c830"/><circle cx="344.95" cy="859.88" r="0.53" fill="#d8b020"/><circle cx="346.52" cy="865.89" r="0.69" fill="#90c830"/><circle cx="343.45" cy="858.33" r="0.52" fill="#d8b020"/><circle cx="349.04" cy="866.07" r="0.49" fill="#c8c020"/><circle cx="343.51" cy="860.48" r="0.59" fill="#c8c020"/><circle cx="347.04" cy="868.65" r="0.77" fill="#c8c020"/><circle cx="372.54" cy="865.9" r="0.56" fill="#e09018"/><circle cx="370.7" cy="870.16" r="0.43" fill="#d8b020"/><circle cx="371.79" cy="864.31" r="0.62" fill="#e09018"/><circle cx="365.29" cy="873.39" r="0.75" fill="#d8b020"/><circle cx="371.78" cy="868.17" r="0.43" fill="#d8b020"/><circle cx="368.97" cy="871.9" r="0.8" fill="#c8c020"/><circle cx="371.53" cy="866.38" r="0.45" fill="#c8c020"/><circle cx="373.02" cy="867.41" r="0.67" fill="#d8b020"/><circle cx="366.6" cy="873.14" r="0.52" fill="#90c830"/><circle cx="371.75" cy="870.53" r="0.55" fill="#90c830"/><circle cx="367.83" cy="871.29" r="0.5" fill="#e09018"/><circle cx="369.81" cy="870.85" r="0.51" fill="#e09018"/><circle cx="387.31" cy="866.18" r="0.42" fill="#90c830"/><circle cx="388.95" cy="864.17" r="0.42" fill="#e09018"/><circle cx="391.52" cy="855.81" r="0.55" fill="#e09018"/><circle cx="388.09" cy="862.75" r="0.5" fill="#d8b020"/><circle cx="390.13" cy="865.66" r="0.64" fill="#90c830"/><circle cx="390.19" cy="859.42" r="0.55" fill="#e09018"/><circle cx="389.69" cy="861.24" r="0.8" fill="#d8b020"/><circle cx="391.7" cy="857.03" r="0.66" fill="#e09018"/><circle cx="390.14" cy="868.91" r="0.73" fill="#c8c020"/><circle cx="387.38" cy="863.3" r="0.47" fill="#90c830"/><circle cx="390.55" cy="859.74" r="0.41" fill="#c8c020"/><circle cx="389.85" cy="858.17" r="0.43" fill="#d8b020"/><circle cx="406.25" cy="871.89" r="0.57" fill="#d8b020"/><circle cx="408.64" cy="873.36" r="0.8" fill="#90c830"/><circle cx="417.89" cy="870.63" r="0.56" fill="#c8c020"/><circle cx="411.66" cy="871.6" r="0.4" fill="#e09018"/><circle cx="409.63" cy="871.96" r="0.73" fill="#c8c020"/><circle cx="414.03" cy="872.77" r="0.55" fill="#e09018"/><circle cx="415.01" cy="870.52" r="0.42" fill="#e09018"/><circle cx="405.32" cy="868.4" r="0.76" fill="#d8b020"/><circle cx="409.12" cy="872.36" r="0.77" fill="#e09018"/><circle cx="413.25" cy="871.29" r="0.51" fill="#e09018"/><circle cx="419.92" cy="869.38" r="0.44" fill="#c8c020"/><circle cx="407.43" cy="872.19" r="0.72" fill="#e09018"/><circle cx="336.29" cy="874.21" r="0.65" fill="#e09018"/><circle cx="340.39" cy="866.27" r="0.47" fill="#e09018"/><circle cx="340.52" cy="870.67" r="0.78" fill="#e09018"/><circle cx="341" cy="868.28" r="0.45" fill="#e09018"/><circle cx="335.79" cy="874.33" r="0.73" fill="#e09018"/><circle cx="335.7" cy="868.44" r="0.62" fill="#d8b020"/><circle cx="334.95" cy="866.99" r="0.53" fill="#c8c020"/><circle cx="341.5" cy="871.97" r="0.62" fill="#90c830"/><circle cx="336.83" cy="866.17" r="0.52" fill="#e09018"/><circle cx="336.42" cy="866.84" r="0.66" fill="#c8c020"/><circle cx="340.95" cy="867.73" r="0.47" fill="#d8b020"/><circle cx="335.12" cy="867.01" r="0.6" fill="#e09018"/><circle cx="236.85" cy="857.22" r="0.45" fill="#90c830"/><circle cx="238.93" cy="859.56" r="0.6" fill="#d8b020"/><circle cx="237.08" cy="862.06" r="0.76" fill="#e09018"/><circle cx="235.5" cy="860.36" r="0.43" fill="#d8b020"/><circle cx="236.03" cy="860.62" r="0.79" fill="#c8c020"/><circle cx="237.52" cy="856.59" r="0.72" fill="#e09018"/><circle cx="235.48" cy="852.69" r="0.69" fill="#e09018"/><circle cx="236.71" cy="856.41" r="0.54" fill="#90c830"/><circle cx="237.01" cy="856.36" r="0.76" fill="#90c830"/><circle cx="237.61" cy="862.25" r="0.58" fill="#90c830"/><circle cx="238.36" cy="857.77" r="0.77" fill="#e09018"/><circle cx="238.17" cy="859.87" r="0.65" fill="#e09018"/><circle cx="249.65" cy="862.24" r="0.75" fill="#d8b020"/><circle cx="248.05" cy="864.71" r="0.61" fill="#c8c020"/><circle cx="247.63" cy="862.51" r="0.55" fill="#c8c020"/><circle cx="246.85" cy="862.31" r="0.63" fill="#90c830"/><circle cx="255.22" cy="864.37" r="0.43" fill="#e09018"/><circle cx="253.23" cy="862.7" r="0.7" fill="#d8b020"/><circle cx="254.96" cy="864.01" r="0.61" fill="#90c830"/><circle cx="247.74" cy="862.83" r="0.79" fill="#90c830"/><circle cx="255.19" cy="862.17" r="0.7" fill="#e09018"/><circle cx="248.62" cy="864.12" r="0.65" fill="#c8c020"/><circle cx="251.93" cy="861.59" r="0.55" fill="#d8b020"/><circle cx="252.8" cy="862.64" r="0.49" fill="#d8b020"/><circle cx="267.15" cy="860.86" r="0.5" fill="#e09018"/><circle cx="267.81" cy="858.92" r="0.43" fill="#e09018"/><circle cx="262.77" cy="855.99" r="0.71" fill="#c8c020"/><circle cx="265.87" cy="859.72" r="0.79" fill="#d8b020"/><circle cx="263.48" cy="855.57" r="0.62" fill="#90c830"/><circle cx="264.76" cy="857.58" r="0.63" fill="#c8c020"/><circle cx="264.52" cy="851.63" r="0.76" fill="#d8b020"/><circle cx="265.16" cy="851.75" r="0.41" fill="#e09018"/><circle cx="265.82" cy="856.73" r="0.42" fill="#d8b020"/><circle cx="265.42" cy="851.4" r="0.62" fill="#e09018"/><circle cx="264.78" cy="853.2" r="0.48" fill="#c8c020"/><circle cx="265.44" cy="859.43" r="0.47" fill="#90c830"/><circle cx="298.28" cy="858.75" r="0.5" fill="#d8b020"/><circle cx="294.05" cy="852.14" r="0.76" fill="#90c830"/><circle cx="294.01" cy="846.62" r="0.51" fill="#c8c020"/><circle cx="292.38" cy="850.79" r="0.77" fill="#90c830"/><circle cx="294.13" cy="854.09" r="0.77" fill="#e09018"/><circle cx="294.38" cy="853.06" r="0.6" fill="#e09018"/><circle cx="294.92" cy="855.02" r="0.49" fill="#e09018"/><circle cx="292.94" cy="856.09" r="0.7" fill="#90c830"/><circle cx="294.47" cy="848.82" r="0.56" fill="#e09018"/><circle cx="297.79" cy="856.52" r="0.74" fill="#c8c020"/><circle cx="293" cy="851.92" r="0.61" fill="#d8b020"/><circle cx="296.52" cy="858.27" r="0.57" fill="#e09018"/><circle cx="271.04" cy="874.3" r="0.42" fill="#d8b020"/><circle cx="267.91" cy="875.46" r="0.69" fill="#d8b020"/><circle cx="267.29" cy="876.66" r="0.7" fill="#e09018"/><circle cx="270.44" cy="872.21" r="0.73" fill="#d8b020"/><circle cx="267.64" cy="878.49" r="0.7" fill="#c8c020"/><circle cx="273.86" cy="873.82" r="0.48" fill="#d8b020"/><circle cx="269.76" cy="877.14" r="0.78" fill="#d8b020"/><circle cx="268.13" cy="879.05" r="0.65" fill="#90c830"/><circle cx="268.61" cy="877.78" r="0.45" fill="#e09018"/><circle cx="274.23" cy="873.42" r="0.53" fill="#90c830"/><circle cx="269.91" cy="875.64" r="0.5" fill="#90c830"/><circle cx="269.72" cy="877.17" r="0.7" fill="#90c830"/><circle cx="279.27" cy="886.61" r="0.73" fill="#90c830"/><circle cx="281.95" cy="886.17" r="0.4" fill="#e09018"/><circle cx="283.27" cy="886.73" r="0.7" fill="#d8b020"/><circle cx="284.79" cy="885.16" r="0.6" fill="#c8c020"/><circle cx="279.58" cy="886.82" r="0.73" fill="#c8c020"/><circle cx="279.33" cy="886.09" r="0.78" fill="#90c830"/><circle cx="287.86" cy="883.7" r="0.46" fill="#e09018"/><circle cx="282.68" cy="888.97" r="0.49" fill="#e09018"/><circle cx="286.19" cy="883.95" r="0.65" fill="#d8b020"/><circle cx="283.41" cy="887.41" r="0.8" fill="#d8b020"/><circle cx="287.95" cy="884" r="0.54" fill="#c8c020"/><circle cx="281.87" cy="888.83" r="0.76" fill="#d8b020"/><circle cx="308.83" cy="875.5" r="0.64" fill="#d8b020"/><circle cx="307.52" cy="879.56" r="0.53" fill="#e09018"/><circle cx="309.15" cy="874.19" r="0.58" fill="#90c830"/><circle cx="306.75" cy="874.38" r="0.58" fill="#90c830"/><circle cx="308.51" cy="875.72" r="0.45" fill="#c8c020"/><circle cx="308.77" cy="878.07" r="0.68" fill="#e09018"/><circle cx="306.02" cy="872.59" r="0.7" fill="#e09018"/><circle cx="304.79" cy="884.73" r="0.79" fill="#90c830"/><circle cx="308.35" cy="879.73" r="0.54" fill="#e09018"/><circle cx="304.95" cy="882.82" r="0.48" fill="#d8b020"/><circle cx="305.44" cy="872.6" r="0.66" fill="#e09018"/><circle cx="307.83" cy="878.77" r="0.79" fill="#90c830"/><circle cx="323.58" cy="883.59" r="0.59" fill="#e09018"/><circle cx="321.18" cy="880.99" r="0.7" fill="#d8b020"/><circle cx="318.99" cy="878.75" r="0.76" fill="#c8c020"/><circle cx="323.45" cy="882.17" r="0.63" fill="#c8c020"/><circle cx="317.78" cy="878.68" r="0.67" fill="#e09018"/><circle cx="319.13" cy="878.93" r="0.66" fill="#c8c020"/><circle cx="321.02" cy="880.22" r="0.5" fill="#d8b020"/><circle cx="316.8" cy="879.03" r="0.5" fill="#c8c020"/><circle cx="321.48" cy="879.5" r="0.65" fill="#90c830"/><circle cx="324.2" cy="884.45" r="0.59" fill="#d8b020"/><circle cx="323.47" cy="883.03" r="0.56" fill="#e09018"/><circle cx="322.85" cy="880.02" r="0.53" fill="#d8b020"/><circle cx="323.21" cy="895.19" r="0.6" fill="#90c830"/><circle cx="322.87" cy="896.98" r="0.56" fill="#c8c020"/><circle cx="319.29" cy="901.51" r="0.67" fill="#c8c020"/><circle cx="319.66" cy="891.73" r="0.77" fill="#90c830"/><circle cx="323.18" cy="897.88" r="0.5" fill="#c8c020"/><circle cx="320.82" cy="892.92" r="0.41" fill="#c8c020"/><circle cx="322.38" cy="902.19" r="0.65" fill="#90c830"/><circle cx="319.97" cy="902.68" r="0.44" fill="#90c830"/><circle cx="323.51" cy="897.49" r="0.78" fill="#e09018"/><circle cx="321" cy="890.49" r="0.78" fill="#c8c020"/><circle cx="321.89" cy="898.07" r="0.45" fill="#d8b020"/><circle cx="323.68" cy="897.91" r="0.65" fill="#c8c020"/><circle cx="301.54" cy="906.34" r="0.71" fill="#e09018"/><circle cx="302.56" cy="905.86" r="0.55" fill="#90c830"/><circle cx="301.82" cy="903.54" r="0.67" fill="#c8c020"/><circle cx="304.1" cy="910.45" r="0.69" fill="#90c830"/><circle cx="301.98" cy="906.22" r="0.66" fill="#90c830"/><circle cx="303.01" cy="904.55" r="0.57" fill="#d8b020"/><circle cx="302.27" cy="904.44" r="0.54" fill="#90c830"/><circle cx="300.12" cy="909.3" r="0.42" fill="#90c830"/><circle cx="304.81" cy="902.87" r="0.46" fill="#90c830"/><circle cx="301.96" cy="904.83" r="0.41" fill="#d8b020"/><circle cx="302.33" cy="906.57" r="0.43" fill="#90c830"/><circle cx="303.03" cy="905.43" r="0.44" fill="#e09018"/><circle cx="319.63" cy="920.38" r="0.65" fill="#90c830"/><circle cx="324.83" cy="914.76" r="0.68" fill="#d8b020"/><circle cx="325.5" cy="918.79" r="0.58" fill="#d8b020"/><circle cx="320.66" cy="920.51" r="0.51" fill="#e09018"/><circle cx="327.02" cy="914.96" r="0.59" fill="#d8b020"/><circle cx="325.18" cy="917.66" r="0.76" fill="#c8c020"/><circle cx="323.45" cy="918.47" r="0.47" fill="#d8b020"/><circle cx="322.56" cy="918.7" r="0.53" fill="#c8c020"/><circle cx="322.19" cy="920.7" r="0.74" fill="#90c830"/><circle cx="318.15" cy="919.35" r="0.8" fill="#d8b020"/><circle cx="324.53" cy="913.71" r="0.54" fill="#d8b020"/><circle cx="319.55" cy="918.47" r="0.42" fill="#90c830"/><circle cx="272.15" cy="896.8" r="0.76" fill="#90c830"/><circle cx="277.03" cy="901.09" r="0.57" fill="#d8b020"/><circle cx="272.91" cy="901.08" r="0.52" fill="#c8c020"/><circle cx="272.51" cy="897.42" r="0.6" fill="#90c830"/><circle cx="276.78" cy="902.5" r="0.54" fill="#e09018"/><circle cx="275.92" cy="901.98" r="0.72" fill="#90c830"/><circle cx="274.37" cy="900.11" r="0.69" fill="#e09018"/><circle cx="276.82" cy="901.63" r="0.65" fill="#d8b020"/><circle cx="277" cy="900.99" r="0.62" fill="#c8c020"/><circle cx="272.37" cy="898.65" r="0.42" fill="#90c830"/><circle cx="274.97" cy="900.19" r="0.42" fill="#c8c020"/><circle cx="272.01" cy="897.18" r="0.66" fill="#c8c020"/><circle cx="357.64" cy="900.47" r="0.77" fill="#d8b020"/><circle cx="358.91" cy="900.77" r="0.73" fill="#90c830"/><circle cx="358.75" cy="899.69" r="0.5" fill="#90c830"/><circle cx="359.36" cy="901.28" r="0.41" fill="#d8b020"/><circle cx="359.01" cy="900.08" r="0.66" fill="#d8b020"/><circle cx="359.68" cy="905.72" r="0.61" fill="#d8b020"/><circle cx="357.95" cy="899.74" r="0.57" fill="#c8c020"/><circle cx="358.42" cy="902.83" r="0.41" fill="#c8c020"/><circle cx="359.22" cy="898.88" r="0.8" fill="#e09018"/><circle cx="360.92" cy="906.51" r="0.56" fill="#d8b020"/><circle cx="360.83" cy="904.97" r="0.59" fill="#e09018"/><circle cx="361.58" cy="907.27" r="0.57" fill="#d8b020"/><circle cx="158.86" cy="875.79" r="0.69" fill="#e09018"/><circle cx="163.92" cy="873.57" r="0.43" fill="#c8c020"/><circle cx="157.72" cy="872.09" r="0.77" fill="#90c830"/><circle cx="164.43" cy="873.35" r="0.42" fill="#d8b020"/><circle cx="158.87" cy="872.51" r="0.41" fill="#d8b020"/><circle cx="163.25" cy="873.11" r="0.52" fill="#e09018"/><circle cx="164.77" cy="872.24" r="0.73" fill="#d8b020"/><circle cx="159.11" cy="874.29" r="0.78" fill="#c8c020"/><circle cx="162.77" cy="874.38" r="0.47" fill="#d8b020"/><circle cx="158.96" cy="874.31" r="0.66" fill="#c8c020"/><circle cx="163.12" cy="873.88" r="0.71" fill="#c8c020"/><circle cx="164.65" cy="872.78" r="0.71" fill="#90c830"/><circle cx="164.82" cy="899.54" r="0.55" fill="#c8c020"/><circle cx="168.14" cy="901.55" r="0.76" fill="#c8c020"/><circle cx="168.86" cy="889.85" r="0.4" fill="#90c830"/><circle cx="166.45" cy="892.24" r="0.46" fill="#d8b020"/><circle cx="167.35" cy="890.8" r="0.46" fill="#e09018"/><circle cx="166.23" cy="897.59" r="0.74" fill="#c8c020"/><circle cx="165.75" cy="893.48" r="0.43" fill="#c8c020"/><circle cx="168.51" cy="887.72" r="0.48" fill="#e09018"/><circle cx="167.34" cy="890.7" r="0.42" fill="#c8c020"/><circle cx="165.37" cy="893.41" r="0.48" fill="#90c830"/><circle cx="165.5" cy="898.58" r="0.4" fill="#c8c020"/><circle cx="165.3" cy="896.37" r="0.44" fill="#90c830"/><circle cx="161.89" cy="906.33" r="0.63" fill="#c8c020"/><circle cx="157.9" cy="905.14" r="0.74" fill="#e09018"/><circle cx="160.57" cy="906.21" r="0.8" fill="#90c830"/><circle cx="163.25" cy="906.9" r="0.55" fill="#c8c020"/><circle cx="163.07" cy="906.84" r="0.46" fill="#d8b020"/><circle cx="160.3" cy="905.01" r="0.61" fill="#d8b020"/><circle cx="160.01" cy="905.94" r="0.48" fill="#c8c020"/><circle cx="160.87" cy="904.28" r="0.49" fill="#90c830"/><circle cx="158.12" cy="906.57" r="0.78" fill="#e09018"/><circle cx="158.38" cy="906.95" r="0.42" fill="#e09018"/><circle cx="157.26" cy="905.34" r="0.55" fill="#d8b020"/><circle cx="161.18" cy="906.69" r="0.62" fill="#c8c020"/><circle cx="172.03" cy="919.34" r="0.47" fill="#e09018"/><circle cx="177.41" cy="918.05" r="0.49" fill="#e09018"/><circle cx="177.89" cy="918.99" r="0.78" fill="#90c830"/><circle cx="177.38" cy="919.32" r="0.62" fill="#d8b020"/><circle cx="173.61" cy="916.67" r="0.42" fill="#c8c020"/><circle cx="178.04" cy="919.54" r="0.46" fill="#d8b020"/><circle cx="174.82" cy="915.87" r="0.67" fill="#90c830"/><circle cx="170.5" cy="925.66" r="0.58" fill="#d8b020"/><circle cx="170.79" cy="921.81" r="0.55" fill="#c8c020"/><circle cx="171.95" cy="923.25" r="0.59" fill="#e09018"/><circle cx="171.05" cy="925.45" r="0.72" fill="#d8b020"/><circle cx="178.65" cy="918.02" r="0.77" fill="#d8b020"/><circle cx="183.57" cy="933.22" r="0.53" fill="#e09018"/><circle cx="192.49" cy="934.09" r="0.65" fill="#e09018"/><circle cx="184.79" cy="935.39" r="0.69" fill="#e09018"/><circle cx="190.49" cy="931.55" r="0.62" fill="#e09018"/><circle cx="187.12" cy="932.48" r="0.46" fill="#c8c020"/><circle cx="191.6" cy="933.4" r="0.46" fill="#90c830"/><circle cx="192.23" cy="933.27" r="0.52" fill="#e09018"/><circle cx="192.56" cy="935.89" r="0.44" fill="#c8c020"/><circle cx="194.35" cy="934.7" r="0.45" fill="#d8b020"/><circle cx="187.07" cy="931.8" r="0.72" fill="#e09018"/><circle cx="183.88" cy="935.89" r="0.73" fill="#d8b020"/><circle cx="185" cy="935.51" r="0.48" fill="#90c830"/><circle cx="253.04" cy="918.52" r="0.6" fill="#c8c020"/><circle cx="251.02" cy="917.45" r="0.73" fill="#90c830"/><circle cx="251.3" cy="916.91" r="0.57" fill="#c8c020"/><circle cx="251.36" cy="916.83" r="0.63" fill="#e09018"/><circle cx="253.85" cy="917.65" r="0.61" fill="#e09018"/><circle cx="253.58" cy="918.15" r="0.48" fill="#d8b020"/><circle cx="251.85" cy="914.71" r="0.76" fill="#c8c020"/><circle cx="251.8" cy="923.92" r="0.47" fill="#e09018"/><circle cx="249.81" cy="924.43" r="0.68" fill="#e09018"/><circle cx="251.24" cy="915.2" r="0.48" fill="#d8b020"/><circle cx="253.29" cy="921.48" r="0.61" fill="#d8b020"/><circle cx="253.09" cy="918.65" r="0.54" fill="#90c830"/><circle cx="229.61" cy="936.28" r="0.64" fill="#d8b020"/><circle cx="229.74" cy="935.98" r="0.77" fill="#d8b020"/><circle cx="231.9" cy="940.15" r="0.69" fill="#90c830"/><circle cx="238.81" cy="942.72" r="0.75" fill="#d8b020"/><circle cx="230.18" cy="935.45" r="0.44" fill="#c8c020"/><circle cx="231.2" cy="941.19" r="0.41" fill="#e09018"/><circle cx="231.06" cy="936.19" r="0.79" fill="#e09018"/><circle cx="234.15" cy="943.11" r="0.47" fill="#90c830"/><circle cx="235.45" cy="941.78" r="0.73" fill="#d8b020"/><circle cx="230.98" cy="936.61" r="0.77" fill="#e09018"/><circle cx="232.98" cy="941.44" r="0.73" fill="#c8c020"/><circle cx="235.93" cy="942.74" r="0.68" fill="#d8b020"/><circle cx="254.25" cy="935.82" r="0.67" fill="#c8c020"/><circle cx="253.34" cy="932.94" r="0.47" fill="#d8b020"/><circle cx="254.46" cy="933.12" r="0.56" fill="#c8c020"/><circle cx="254.65" cy="934.63" r="0.64" fill="#d8b020"/><circle cx="254.89" cy="936.78" r="0.78" fill="#90c830"/><circle cx="254.68" cy="937.99" r="0.5" fill="#90c830"/><circle cx="254.63" cy="940.18" r="0.74" fill="#90c830"/><circle cx="253.58" cy="932.87" r="0.74" fill="#d8b020"/><circle cx="253.13" cy="934.08" r="0.46" fill="#90c830"/><circle cx="253" cy="940.06" r="0.57" fill="#d8b020"/><circle cx="254.81" cy="937.56" r="0.61" fill="#d8b020"/><circle cx="253.86" cy="934.72" r="0.48" fill="#d8b020"/><circle cx="330.72" cy="937.97" r="0.65" fill="#d8b020"/><circle cx="324.94" cy="934.88" r="0.5" fill="#d8b020"/><circle cx="325.91" cy="935.21" r="0.78" fill="#90c830"/><circle cx="333.7" cy="931.94" r="0.54" fill="#e09018"/><circle cx="326.15" cy="933.19" r="0.64" fill="#90c830"/><circle cx="333.44" cy="933.17" r="0.64" fill="#e09018"/><circle cx="334.79" cy="931.33" r="0.6" fill="#90c830"/><circle cx="336.38" cy="930.81" r="0.63" fill="#90c830"/><circle cx="334.02" cy="933.16" r="0.44" fill="#90c830"/><circle cx="334.08" cy="926.88" r="0.64" fill="#e09018"/><circle cx="325.72" cy="927.77" r="0.48" fill="#90c830"/><circle cx="334.25" cy="929.32" r="0.62" fill="#c8c020"/><circle cx="316.62" cy="946.12" r="0.51" fill="#e09018"/><circle cx="315.09" cy="947.29" r="0.71" fill="#e09018"/><circle cx="314.01" cy="947.14" r="0.64" fill="#90c830"/><circle cx="314.05" cy="947.58" r="0.42" fill="#c8c020"/><circle cx="317.19" cy="945.01" r="0.54" fill="#d8b020"/><circle cx="315.58" cy="946.26" r="0.8" fill="#e09018"/><circle cx="317.98" cy="946.47" r="0.67" fill="#e09018"/><circle cx="312.21" cy="949.76" r="0.65" fill="#90c830"/><circle cx="314.87" cy="945.53" r="0.61" fill="#c8c020"/><circle cx="320.14" cy="948.71" r="0.65" fill="#e09018"/><circle cx="314.25" cy="947.5" r="0.44" fill="#c8c020"/><circle cx="317.81" cy="945.3" r="0.63" fill="#c8c020"/><circle cx="407.23" cy="914.94" r="0.64" fill="#90c830"/><circle cx="412.13" cy="919.33" r="0.7" fill="#c8c020"/><circle cx="404.76" cy="917.34" r="0.52" fill="#90c830"/><circle cx="413.88" cy="916.52" r="0.57" fill="#c8c020"/><circle cx="405.56" cy="915.54" r="0.44" fill="#90c830"/><circle cx="410.24" cy="915.69" r="0.74" fill="#e09018"/><circle cx="402.73" cy="916.85" r="0.48" fill="#c8c020"/><circle cx="414.15" cy="916.37" r="0.78" fill="#d8b020"/><circle cx="410.57" cy="916.89" r="0.63" fill="#c8c020"/><circle cx="406.21" cy="916.27" r="0.61" fill="#90c830"/><circle cx="406.59" cy="915.13" r="0.8" fill="#c8c020"/><circle cx="406.8" cy="915.6" r="0.54" fill="#90c830"/><circle cx="393.2" cy="930.68" r="0.76" fill="#90c830"/><circle cx="396.95" cy="934.84" r="0.7" fill="#d8b020"/><circle cx="396.75" cy="933.2" r="0.53" fill="#d8b020"/><circle cx="394.33" cy="933.66" r="0.61" fill="#d8b020"/><circle cx="393.6" cy="931.21" r="0.52" fill="#90c830"/><circle cx="393.02" cy="929.99" r="0.8" fill="#c8c020"/><circle cx="393.89" cy="928.08" r="0.61" fill="#e09018"/><circle cx="396.39" cy="925.91" r="0.48" fill="#e09018"/><circle cx="396.25" cy="932.55" r="0.63" fill="#d8b020"/><circle cx="395.54" cy="933.02" r="0.8" fill="#d8b020"/><circle cx="393.47" cy="931.08" r="0.4" fill="#d8b020"/><circle cx="394.52" cy="931.04" r="0.68" fill="#d8b020"/><circle cx="413.48" cy="935.56" r="0.64" fill="#e09018"/><circle cx="408.26" cy="938.99" r="0.7" fill="#d8b020"/><circle cx="412.94" cy="938.73" r="0.43" fill="#c8c020"/><circle cx="415.54" cy="937.61" r="0.65" fill="#d8b020"/><circle cx="415.02" cy="937.95" r="0.67" fill="#90c830"/><circle cx="412.09" cy="939.85" r="0.5" fill="#90c830"/><circle cx="411.08" cy="934.06" r="0.51" fill="#d8b020"/><circle cx="406.21" cy="935.12" r="0.78" fill="#d8b020"/><circle cx="413.19" cy="934.55" r="0.58" fill="#c8c020"/><circle cx="412.86" cy="935.49" r="0.49" fill="#c8c020"/><circle cx="406.53" cy="936.76" r="0.78" fill="#c8c020"/><circle cx="412.45" cy="939.34" r="0.5" fill="#e09018"/><circle cx="271.71" cy="964.24" r="0.69" fill="#e09018"/><circle cx="264.48" cy="958.02" r="0.56" fill="#c8c020"/><circle cx="265.56" cy="959.28" r="0.75" fill="#d8b020"/><circle cx="268.13" cy="963.91" r="0.54" fill="#e09018"/><circle cx="265.74" cy="958.88" r="0.75" fill="#c8c020"/><circle cx="263.5" cy="959.48" r="0.45" fill="#c8c020"/><circle cx="268.12" cy="964.49" r="0.66" fill="#d8b020"/><circle cx="264.64" cy="962.35" r="0.77" fill="#e09018"/><circle cx="264.75" cy="957.71" r="0.59" fill="#90c830"/><circle cx="266.07" cy="963.06" r="0.41" fill="#d8b020"/><circle cx="264.84" cy="957.9" r="0.46" fill="#e09018"/><circle cx="269.01" cy="963.77" r="0.51" fill="#e09018"/><circle cx="224.68" cy="970.64" r="0.67" fill="#90c830"/><circle cx="226.33" cy="971.06" r="0.58" fill="#90c830"/><circle cx="224.56" cy="966.96" r="0.56" fill="#e09018"/><circle cx="229.62" cy="970.73" r="0.7" fill="#d8b020"/><circle cx="227.7" cy="971.64" r="0.51" fill="#c8c020"/><circle cx="229.88" cy="970.42" r="0.69" fill="#e09018"/><circle cx="227.61" cy="970.77" r="0.56" fill="#d8b020"/><circle cx="224.52" cy="969.37" r="0.71" fill="#e09018"/><circle cx="225.99" cy="969.38" r="0.67" fill="#d8b020"/><circle cx="229.05" cy="970.47" r="0.77" fill="#90c830"/><circle cx="227.15" cy="970.01" r="0.69" fill="#d8b020"/><circle cx="230.03" cy="971.05" r="0.45" fill="#c8c020"/><circle cx="239.51" cy="979.34" r="0.66" fill="#c8c020"/><circle cx="240.4" cy="978.36" r="0.74" fill="#90c830"/><circle cx="245.52" cy="975.25" r="0.44" fill="#90c830"/><circle cx="243.51" cy="977.04" r="0.77" fill="#e09018"/><circle cx="244.97" cy="975.63" r="0.42" fill="#d8b020"/><circle cx="244.61" cy="975.83" r="0.57" fill="#90c830"/><circle cx="240.29" cy="980.74" r="0.7" fill="#90c830"/><circle cx="238.87" cy="979.3" r="0.78" fill="#e09018"/><circle cx="239.61" cy="982.1" r="0.69" fill="#90c830"/><circle cx="242" cy="975.09" r="0.67" fill="#90c830"/><circle cx="241.75" cy="975.13" r="0.44" fill="#90c830"/><circle cx="238.39" cy="978.17" r="0.75" fill="#d8b020"/><circle cx="261.29" cy="972.52" r="0.54" fill="#c8c020"/><circle cx="257.19" cy="974.23" r="0.54" fill="#c8c020"/><circle cx="257.42" cy="983.44" r="0.67" fill="#e09018"/><circle cx="255.47" cy="979.47" r="0.6" fill="#e09018"/><circle cx="258.31" cy="973.22" r="0.48" fill="#90c830"/><circle cx="256.36" cy="978.95" r="0.47" fill="#e09018"/><circle cx="260.33" cy="972.43" r="0.5" fill="#d8b020"/><circle cx="256.4" cy="978.02" r="0.54" fill="#d8b020"/><circle cx="258.41" cy="974.47" r="0.52" fill="#e09018"/><circle cx="261.77" cy="971.95" r="0.59" fill="#c8c020"/><circle cx="257.11" cy="975.5" r="0.5" fill="#c8c020"/><circle cx="256.88" cy="980.46" r="0.66" fill="#90c830"/><circle cx="253.84" cy="996.77" r="0.48" fill="#90c830"/><circle cx="258.46" cy="992.55" r="0.59" fill="#d8b020"/><circle cx="257.11" cy="992.82" r="0.51" fill="#e09018"/><circle cx="254.87" cy="995.5" r="0.52" fill="#d8b020"/><circle cx="257.38" cy="992.34" r="0.58" fill="#90c830"/><circle cx="254.35" cy="996.86" r="0.62" fill="#d8b020"/><circle cx="255.9" cy="993.96" r="0.8" fill="#c8c020"/><circle cx="261.15" cy="992.6" r="0.69" fill="#90c830"/><circle cx="258.02" cy="992.33" r="0.6" fill="#c8c020"/><circle cx="253.45" cy="996.56" r="0.71" fill="#90c830"/><circle cx="261.4" cy="992.98" r="0.77" fill="#90c830"/><circle cx="260.34" cy="990.59" r="0.77" fill="#90c830"/><circle cx="330.03" cy="968.23" r="0.52" fill="#90c830"/><circle cx="319.99" cy="973.19" r="0.66" fill="#90c830"/><circle cx="330.68" cy="970.85" r="0.55" fill="#90c830"/><circle cx="317.43" cy="973.58" r="0.5" fill="#d8b020"/><circle cx="324.91" cy="970.95" r="0.63" fill="#c8c020"/><circle cx="318.38" cy="970.72" r="0.78" fill="#c8c020"/><circle cx="323.84" cy="969.37" r="0.69" fill="#90c830"/><circle cx="334.2" cy="973.59" r="0.65" fill="#e09018"/><circle cx="327.03" cy="967.66" r="0.47" fill="#c8c020"/><circle cx="333.81" cy="972.2" r="0.56" fill="#d8b020"/><circle cx="330.98" cy="967.98" r="0.59" fill="#e09018"/><circle cx="318.63" cy="972.06" r="0.4" fill="#c8c020"/><circle cx="334.9" cy="972.98" r="0.67" fill="#e09018"/><circle cx="335.61" cy="974.85" r="0.62" fill="#c8c020"/><circle cx="335.68" cy="975.18" r="0.61" fill="#e09018"/><circle cx="347.39" cy="970.16" r="0.78" fill="#d8b020"/><circle cx="349.83" cy="973.59" r="0.42" fill="#90c830"/><circle cx="334.91" cy="974.8" r="0.52" fill="#c8c020"/><circle cx="332.99" cy="975.5" r="0.59" fill="#e09018"/><circle cx="348.08" cy="975.52" r="0.54" fill="#d8b020"/><circle cx="335.2" cy="972.28" r="0.49" fill="#c8c020"/><circle cx="346.89" cy="971.32" r="0.46" fill="#90c830"/><circle cx="339.67" cy="970.91" r="0.78" fill="#90c830"/><circle cx="334.95" cy="975.94" r="0.63" fill="#c8c020"/><circle cx="168.95" cy="990.35" r="0.62" fill="#d8b020"/><circle cx="168.04" cy="990.74" r="0.76" fill="#d8b020"/><circle cx="176.52" cy="986.17" r="0.67" fill="#c8c020"/><circle cx="169.96" cy="991" r="0.6" fill="#d8b020"/><circle cx="173.12" cy="986.12" r="0.78" fill="#d8b020"/><circle cx="168.92" cy="990.83" r="0.67" fill="#e09018"/><circle cx="174.55" cy="985.18" r="0.48" fill="#c8c020"/><circle cx="171.54" cy="986.02" r="0.45" fill="#d8b020"/><circle cx="169.11" cy="991.21" r="0.42" fill="#d8b020"/><circle cx="172.58" cy="988.03" r="0.64" fill="#e09018"/><circle cx="172.64" cy="986.68" r="0.45" fill="#e09018"/><circle cx="169.03" cy="990.76" r="0.76" fill="#e09018"/><circle cx="403.53" cy="979.28" r="0.69" fill="#d8b020"/><circle cx="403.77" cy="985.94" r="0.54" fill="#90c830"/><circle cx="403.27" cy="984.85" r="0.72" fill="#d8b020"/><circle cx="398.9" cy="979.62" r="0.76" fill="#e09018"/><circle cx="402.6" cy="982.96" r="0.48" fill="#c8c020"/><circle cx="400.2" cy="979.85" r="0.8" fill="#c8c020"/><circle cx="402.24" cy="983.22" r="0.41" fill="#d8b020"/><circle cx="402.03" cy="982.32" r="0.5" fill="#e09018"/><circle cx="403.38" cy="984.14" r="0.52" fill="#c8c020"/><circle cx="397.99" cy="976.84" r="0.64" fill="#90c830"/><circle cx="400.99" cy="978.23" r="0.68" fill="#90c830"/><circle cx="404.42" cy="982.54" r="0.41" fill="#90c830"/><circle cx="385.44" cy="999.23" r="0.49" fill="#d8b020"/><circle cx="373.52" cy="999.87" r="0.61" fill="#90c830"/><circle cx="371.27" cy="1000.19" r="0.64" fill="#d8b020"/><circle cx="384.33" cy="1000.38" r="0.73" fill="#c8c020"/><circle cx="382.23" cy="994.9" r="0.59" fill="#90c830"/><circle cx="384.27" cy="1001.8" r="0.53" fill="#c8c020"/><circle cx="375.16" cy="995.78" r="0.41" fill="#c8c020"/><circle cx="374.38" cy="993.53" r="0.64" fill="#e09018"/><circle cx="373.34" cy="995.38" r="0.46" fill="#c8c020"/><circle cx="382.27" cy="995.19" r="0.6" fill="#90c830"/><circle cx="384.93" cy="998.33" r="0.63" fill="#e09018"/><circle cx="376.31" cy="991.99" r="0.41" fill="#d8b020"/><circle cx="411.71" cy="1003.59" r="0.6" fill="#e09018"/><circle cx="408.51" cy="1003.25" r="0.62" fill="#c8c020"/><circle cx="405.01" cy="1004.62" r="0.68" fill="#90c830"/><circle cx="403.87" cy="1002.95" r="0.71" fill="#90c830"/><circle cx="403.92" cy="1014.3" r="0.72" fill="#90c830"/><circle cx="407.13" cy="1013.07" r="0.48" fill="#c8c020"/><circle cx="409.12" cy="1003.2" r="0.56" fill="#90c830"/><circle cx="412.15" cy="1003.06" r="0.63" fill="#e09018"/><circle cx="411.7" cy="1006.62" r="0.52" fill="#90c830"/><circle cx="406.43" cy="1004.68" r="0.48" fill="#d8b020"/><circle cx="406.18" cy="1014.53" r="0.52" fill="#90c830"/><circle cx="408.39" cy="1000.68" r="0.54" fill="#c8c020"/><circle cx="382.6" cy="1014.89" r="0.76" fill="#90c830"/><circle cx="389.69" cy="1016.63" r="0.66" fill="#e09018"/><circle cx="386.01" cy="1016.07" r="0.42" fill="#e09018"/><circle cx="381.06" cy="1024.06" r="0.43" fill="#90c830"/><circle cx="386.47" cy="1024.32" r="0.4" fill="#90c830"/><circle cx="388.15" cy="1016.49" r="0.75" fill="#90c830"/><circle cx="376.72" cy="1017.66" r="0.48" fill="#90c830"/><circle cx="383.94" cy="1013.48" r="0.41" fill="#c8c020"/><circle cx="379.91" cy="1016.23" r="0.67" fill="#90c830"/><circle cx="383.93" cy="1023.16" r="0.75" fill="#d8b020"/><circle cx="387.58" cy="1019.86" r="0.65" fill="#c8c020"/><circle cx="390.64" cy="1021.3" r="0.56" fill="#c8c020"/><circle cx="334.82" cy="1017.58" r="0.54" fill="#90c830"/><circle cx="335.19" cy="1022.1" r="0.62" fill="#e09018"/><circle cx="328.56" cy="1025.85" r="0.64" fill="#90c830"/><circle cx="328.49" cy="1018.47" r="0.65" fill="#c8c020"/><circle cx="328.53" cy="1026.18" r="0.71" fill="#90c830"/><circle cx="326.18" cy="1023.88" r="0.62" fill="#c8c020"/><circle cx="329.48" cy="1017.01" r="0.54" fill="#90c830"/><circle cx="332.55" cy="1018.58" r="0.4" fill="#c8c020"/><circle cx="332.65" cy="1024.11" r="0.72" fill="#90c830"/><circle cx="334.36" cy="1021.82" r="0.65" fill="#c8c020"/><circle cx="332.09" cy="1026.41" r="0.44" fill="#d8b020"/><circle cx="325.62" cy="1020.55" r="0.45" fill="#e09018"/><circle cx="164.88" cy="1017.62" r="0.6" fill="#90c830"/><circle cx="163.26" cy="1011.47" r="0.56" fill="#e09018"/><circle cx="161.66" cy="1020.88" r="0.76" fill="#d8b020"/><circle cx="164" cy="1014.47" r="0.41" fill="#c8c020"/><circle cx="162.7" cy="1011.77" r="0.54" fill="#e09018"/><circle cx="162.78" cy="1012.34" r="0.56" fill="#c8c020"/><circle cx="163.97" cy="1020.71" r="0.65" fill="#e09018"/><circle cx="161.56" cy="1019.86" r="0.41" fill="#c8c020"/><circle cx="162.26" cy="1013.1" r="0.54" fill="#90c830"/><circle cx="161.66" cy="1010.69" r="0.66" fill="#90c830"/><circle cx="163.56" cy="1021.12" r="0.6" fill="#e09018"/><circle cx="163.08" cy="1013.21" r="0.77" fill="#90c830"/><circle cx="179.69" cy="1021.64" r="0.74" fill="#90c830"/><circle cx="179.76" cy="1011.31" r="0.71" fill="#c8c020"/><circle cx="181.32" cy="1012.36" r="0.75" fill="#90c830"/><circle cx="180.24" cy="1008.73" r="0.72" fill="#e09018"/><circle cx="179.12" cy="1007.12" r="0.4" fill="#90c830"/><circle cx="179.87" cy="1018.81" r="0.69" fill="#d8b020"/><circle cx="182.49" cy="1010.37" r="0.59" fill="#c8c020"/><circle cx="181.16" cy="1012.76" r="0.54" fill="#c8c020"/><circle cx="184.05" cy="1017.13" r="0.79" fill="#d8b020"/><circle cx="179.45" cy="1020.9" r="0.48" fill="#d8b020"/><circle cx="180.34" cy="1011.88" r="0.6" fill="#e09018"/><circle cx="179.57" cy="1008.9" r="0.68" fill="#d8b020"/><circle cx="207.79" cy="1011.02" r="0.61" fill="#c8c020"/><circle cx="208.69" cy="1021.67" r="0.43" fill="#e09018"/><circle cx="207.91" cy="1011.49" r="0.79" fill="#e09018"/><circle cx="208.42" cy="1012.09" r="0.51" fill="#e09018"/><circle cx="206.8" cy="1019.41" r="0.51" fill="#d8b020"/><circle cx="206.83" cy="1019.95" r="0.42" fill="#90c830"/><circle cx="209.89" cy="1016.83" r="0.53" fill="#d8b020"/><circle cx="206.81" cy="1011.82" r="0.62" fill="#90c830"/><circle cx="209.72" cy="1013.13" r="0.79" fill="#90c830"/><circle cx="210.29" cy="1017.03" r="0.53" fill="#c8c020"/><circle cx="209.97" cy="1018.04" r="0.46" fill="#c8c020"/><circle cx="211.81" cy="1017.27" r="0.72" fill="#d8b020"/><circle cx="172.48" cy="1048.01" r="0.62" fill="#c8c020"/><circle cx="166.79" cy="1044.26" r="0.53" fill="#d8b020"/><circle cx="177.22" cy="1044.01" r="0.66" fill="#c8c020"/><circle cx="170.33" cy="1040.52" r="0.64" fill="#c8c020"/><circle cx="171.61" cy="1041.03" r="0.65" fill="#c8c020"/><circle cx="176.82" cy="1044.08" r="0.43" fill="#90c830"/><circle cx="174.69" cy="1040.47" r="0.67" fill="#90c830"/><circle cx="170.23" cy="1041.85" r="0.72" fill="#e09018"/><circle cx="177.82" cy="1046.94" r="0.71" fill="#90c830"/><circle cx="167.36" cy="1040.79" r="0.59" fill="#90c830"/><circle cx="177.28" cy="1045.13" r="0.59" fill="#e09018"/><circle cx="170.7" cy="1039.09" r="0.43" fill="#90c830"/><circle cx="356.36" cy="1043.79" r="0.73" fill="#c8c020"/><circle cx="357.19" cy="1043.82" r="0.46" fill="#90c830"/><circle cx="362.41" cy="1041.25" r="0.55" fill="#90c830"/><circle cx="361.04" cy="1047.75" r="0.44" fill="#c8c020"/><circle cx="362.64" cy="1047.01" r="0.58" fill="#d8b020"/><circle cx="362.73" cy="1041.17" r="0.59" fill="#e09018"/><circle cx="355.28" cy="1045.32" r="0.46" fill="#e09018"/><circle cx="357.95" cy="1041.76" r="0.61" fill="#e09018"/><circle cx="363.13" cy="1040.86" r="0.61" fill="#c8c020"/><circle cx="363.86" cy="1042.43" r="0.62" fill="#d8b020"/><circle cx="364.09" cy="1041.51" r="0.42" fill="#e09018"/><circle cx="364.73" cy="1045.12" r="0.62" fill="#90c830"/><circle cx="423.58" cy="1005.62" r="0.42" fill="#90c830"/><circle cx="422.92" cy="1006.68" r="0.57" fill="#90c830"/><circle cx="423.23" cy="1003.6" r="0.55" fill="#e09018"/><circle cx="422.45" cy="1002.43" r="0.48" fill="#90c830"/><circle cx="423.59" cy="1002.92" r="0.48" fill="#d8b020"/><circle cx="424.41" cy="1006" r="0.58" fill="#c8c020"/><circle cx="423.97" cy="1007.05" r="0.6" fill="#d8b020"/><circle cx="424.58" cy="999.47" r="0.63" fill="#c8c020"/><circle cx="423.12" cy="1005.85" r="0.57" fill="#c8c020"/><circle cx="423.89" cy="1000.21" r="0.43" fill="#c8c020"/><circle cx="424.23" cy="998.47" r="0.6" fill="#d8b020"/><circle cx="423.18" cy="999.82" r="0.7" fill="#c8c020"/><circle cx="240.9" cy="782.15" r="0.58" fill="#e09018"/><circle cx="242.82" cy="782.75" r="0.59" fill="#d8b020"/><circle cx="239.59" cy="782.05" r="0.7" fill="#e09018"/><circle cx="239.5" cy="781.54" r="0.73" fill="#e09018"/><circle cx="240.17" cy="782.09" r="0.48" fill="#d8b020"/><circle cx="240.54" cy="782.18" r="0.62" fill="#90c830"/><circle cx="239.4" cy="782.95" r="0.55" fill="#90c830"/><circle cx="242.42" cy="782.5" r="0.6" fill="#c8c020"/><circle cx="241.15" cy="781.68" r="0.52" fill="#e09018"/><circle cx="238.29" cy="783" r="0.72" fill="#90c830"/><circle cx="240.7" cy="782.04" r="0.45" fill="#e09018"/><circle cx="242.4" cy="782.51" r="0.55" fill="#c8c020"/></g>
<ellipse cx="329.86" cy="934.29" rx="3.2" ry="2.4" fill="#f0b010" opacity=".8" filter="url(#b1)"/>
<ellipse cx="329.86" cy="991.43" rx="1.8" ry="1.4" fill="#30e030" filter="url(#b0)"/>
</g>
<line x1="359.5" y1="1030" x2="417.7" y2="1030" stroke="#fff" stroke-width="2.2"/>
<circle cx="359.5" cy="1030" r="2.8" fill="#fff"/><circle cx="417.7" cy="1030" r="2.8" fill="#fff"/>
<text x="388.6" y="1043.5" text-anchor="middle" class="sb">50 µm</text>
<rect x="484" y="783.6" width="267" height="266.4" fill="#000"/>
<g clip-path="url(#c4)">
<g filter="url(#cyt)"><rect x="476" y="776" width="1" height="1" fill="#000" opacity="0.01"/><rect x="758" y="1056" width="1" height="1" fill="#000" opacity="0.01"/><ellipse cx="609.57" cy="908.57" rx="28.8" ry="22.63" fill="#b41614" opacity="1" transform="rotate(-30 609.57 908.57)"/><ellipse cx="589.57" cy="934.29" rx="20.57" ry="10.29" fill="#b41614" opacity="0.95" transform="rotate(10 589.57 934.29)"/><ellipse cx="552.43" cy="911.43" rx="8.23" ry="14.4" fill="#b41614" opacity="0.95" transform="rotate(-20 552.43 911.43)"/><ellipse cx="538.14" cy="1002.86" rx="37.03" ry="28.8" fill="#b41614" opacity="0.95" transform="rotate(0 538.14 1002.86)"/><ellipse cx="509.57" cy="974.29" rx="18.51" ry="16.46" fill="#b41614" opacity="0.855" transform="rotate(0 509.57 974.29)"/><ellipse cx="566.71" cy="1037.14" rx="24.69" ry="10.29" fill="#b41614" opacity="0.95" transform="rotate(0 566.71 1037.14)"/><ellipse cx="703.86" cy="902.86" rx="22.63" ry="14.4" fill="#b41614" opacity="1" transform="rotate(0 703.86 902.86)"/><ellipse cx="666.71" cy="848.57" rx="16.46" ry="12.34" fill="#b41614" opacity="0.95" transform="rotate(0 666.71 848.57)"/><ellipse cx="689.57" cy="817.14" rx="12.34" ry="18.51" fill="#b41614" opacity="0.855" transform="rotate(10 689.57 817.14)"/><ellipse cx="686.71" cy="980" rx="22.63" ry="10.29" fill="#b41614" opacity="0.95" transform="rotate(-30 686.71 980)"/><ellipse cx="526.71" cy="820" rx="10.29" ry="8.23" fill="#b41614" opacity="0.76" transform="rotate(0 526.71 820)"/><ellipse cx="543.86" cy="845.71" rx="14.4" ry="10.29" fill="#b41614" opacity="0.855" transform="rotate(0 543.86 845.71)"/><ellipse cx="575.29" cy="874.29" rx="14.4" ry="10.29" fill="#b41614" opacity="0.95" transform="rotate(30 575.29 874.29)"/><ellipse cx="523.86" cy="877.14" rx="12.34" ry="8.23" fill="#b41614" opacity="0.855" transform="rotate(0 523.86 877.14)"/><ellipse cx="618.14" cy="820" rx="12.34" ry="10.29" fill="#b41614" opacity="0.855" transform="rotate(0 618.14 820)"/><ellipse cx="598.14" cy="837.14" rx="10.29" ry="16.46" fill="#b41614" opacity="0.855" transform="rotate(0 598.14 837.14)"/><ellipse cx="678.14" cy="934.29" rx="8.23" ry="10.29" fill="#b41614" opacity="0.855" transform="rotate(0 678.14 934.29)"/><ellipse cx="723.86" cy="868.57" rx="12.34" ry="6.17" fill="#b41614" opacity="0.76" transform="rotate(-30 723.86 868.57)"/><ellipse cx="735.29" cy="817.14" rx="8.23" ry="10.29" fill="#b41614" opacity="0.76" transform="rotate(0 735.29 817.14)"/><ellipse cx="661" cy="1034.29" rx="10.29" ry="12.34" fill="#b41614" opacity="0.855" transform="rotate(0 661 1034.29)"/><ellipse cx="629.57" cy="851.43" rx="8.23" ry="8.23" fill="#b41614" opacity="0.76" transform="rotate(0 629.57 851.43)"/><ellipse cx="492.43" cy="888.57" rx="6.17" ry="14.4" fill="#b41614" opacity="0.76" transform="rotate(-10 492.43 888.57)"/><ellipse cx="535.29" cy="934.29" rx="8.23" ry="8.23" fill="#b41614" opacity="0.76" transform="rotate(0 535.29 934.29)"/><ellipse cx="509.57" cy="794.29" rx="10.29" ry="7.2" fill="#b41614" opacity="0.76" transform="rotate(0 509.57 794.29)"/><ellipse cx="706.71" cy="960" rx="8.23" ry="8.23" fill="#b41614" opacity="0.76" transform="rotate(0 706.71 960)"/><ellipse cx="652.43" cy="960" rx="6.17" ry="7.2" fill="#b41614" opacity="0.76" transform="rotate(0 652.43 960)"/><ellipse cx="678.14" cy="790" rx="20.57" ry="5.14" fill="#b41614" opacity="0.76" transform="rotate(0 678.14 790)"/><ellipse cx="721" cy="791.43" rx="8.23" ry="7.2" fill="#b41614" opacity="0.76" transform="rotate(0 721 791.43)"/><ellipse cx="511" cy="792.86" rx="9.69" ry="9.17" fill="#c01a14" opacity=".85"/><ellipse cx="523.86" cy="816.57" rx="10.2" ry="10.71" fill="#c01a14" opacity=".85"/><ellipse cx="541" cy="837.14" rx="9.69" ry="8.66" fill="#c01a14" opacity=".85"/><ellipse cx="538.14" cy="852.86" rx="8.66" ry="9.17" fill="#c01a14" opacity=".85"/><ellipse cx="557.57" cy="855.71" rx="9.17" ry="9.17" fill="#c01a14" opacity=".85"/><ellipse cx="571" cy="844.29" rx="9.17" ry="9.69" fill="#c01a14" opacity=".85"/><ellipse cx="593.86" cy="844.29" rx="10.2" ry="10.2" fill="#c01a14" opacity=".85"/><ellipse cx="598.71" cy="825.71" rx="9.69" ry="8.66" fill="#c01a14" opacity=".85"/><ellipse cx="598.71" cy="863.43" rx="8.66" ry="9.69" fill="#c01a14" opacity=".85"/><ellipse cx="609.57" cy="812.86" rx="7.63" ry="10.2" fill="#c01a14" opacity=".85"/><ellipse cx="623.86" cy="817.14" rx="10.71" ry="10.71" fill="#c01a14" opacity=".85"/><ellipse cx="629" cy="850.86" rx="10.2" ry="10.71" fill="#c01a14" opacity=".85"/><ellipse cx="648.14" cy="838.57" rx="9.17" ry="9.69" fill="#c01a14" opacity=".85"/><ellipse cx="653.29" cy="857.71" rx="9.69" ry="9.69" fill="#c01a14" opacity=".85"/><ellipse cx="663.86" cy="848.57" rx="8.66" ry="8.66" fill="#c01a14" opacity=".85"/><ellipse cx="671" cy="859.43" rx="8.66" ry="8.14" fill="#c01a14" opacity=".85"/><ellipse cx="645.29" cy="786.29" rx="9.17" ry="7.11" fill="#c01a14" opacity=".85"/><ellipse cx="663.29" cy="790.86" rx="8.66" ry="8.66" fill="#c01a14" opacity=".85"/><ellipse cx="681" cy="790" rx="8.66" ry="9.17" fill="#c01a14" opacity=".85"/><ellipse cx="701" cy="784.29" rx="8.14" ry="6.09" fill="#c01a14" opacity=".85"/><ellipse cx="720.43" cy="790" rx="9.17" ry="9.17" fill="#c01a14" opacity=".85"/><ellipse cx="699.57" cy="810.86" rx="10.71" ry="10.2" fill="#c01a14" opacity=".85"/><ellipse cx="687.29" cy="828.57" rx="10.2" ry="10.2" fill="#c01a14" opacity=".85"/><ellipse cx="736.14" cy="818.57" rx="10.2" ry="10.2" fill="#c01a14" opacity=".85"/><ellipse cx="720.43" cy="867.14" rx="9.69" ry="9.17" fill="#c01a14" opacity=".85"/><ellipse cx="489" cy="872.86" rx="7.11" ry="8.66" fill="#c01a14" opacity=".85"/><ellipse cx="511" cy="872.86" rx="9.69" ry="9.69" fill="#c01a14" opacity=".85"/><ellipse cx="526.71" cy="877.14" rx="10.71" ry="10.71" fill="#c01a14" opacity=".85"/><ellipse cx="488.14" cy="888.57" rx="7.11" ry="10.2" fill="#c01a14" opacity=".85"/><ellipse cx="578.14" cy="871.43" rx="11.74" ry="10.2" fill="#c01a14" opacity=".85"/><ellipse cx="572.43" cy="882.86" rx="8.66" ry="9.17" fill="#c01a14" opacity=".85"/><ellipse cx="606.71" cy="890" rx="9.17" ry="9.69" fill="#c01a14" opacity=".85"/><ellipse cx="614.71" cy="884.29" rx="8.14" ry="9.69" fill="#c01a14" opacity=".85"/><ellipse cx="595.29" cy="901.43" rx="10.2" ry="9.69" fill="#c01a14" opacity=".85"/><ellipse cx="591" cy="914.29" rx="9.17" ry="10.2" fill="#c01a14" opacity=".85"/><ellipse cx="613" cy="908.57" rx="9.17" ry="9.17" fill="#c01a14" opacity=".85"/><ellipse cx="549.57" cy="907.14" rx="10.2" ry="10.71" fill="#c01a14" opacity=".85"/><ellipse cx="535.29" cy="931.43" rx="9.69" ry="10.2" fill="#c01a14" opacity=".85"/><ellipse cx="586.14" cy="936.57" rx="10.71" ry="10.71" fill="#c01a14" opacity=".85"/><ellipse cx="628.14" cy="931.43" rx="9.17" ry="9.17" fill="#c01a14" opacity=".85"/><ellipse cx="644.43" cy="900" rx="10.2" ry="9.69" fill="#c01a14" opacity=".85"/><ellipse cx="665.29" cy="900" rx="9.69" ry="9.17" fill="#c01a14" opacity=".85"/><ellipse cx="691" cy="892.86" rx="9.17" ry="8.14" fill="#c01a14" opacity=".85"/><ellipse cx="692.43" cy="907.14" rx="10.71" ry="10.71" fill="#c01a14" opacity=".85"/><ellipse cx="719.57" cy="902.29" rx="12.26" ry="10.71" fill="#c01a14" opacity=".85"/><ellipse cx="712.43" cy="917.71" rx="8.14" ry="6.09" fill="#c01a14" opacity=".85"/><ellipse cx="749" cy="900" rx="7.63" ry="11.23" fill="#c01a14" opacity=".85"/><ellipse cx="750.14" cy="928.57" rx="6.09" ry="10.71" fill="#c01a14" opacity=".85"/><ellipse cx="678.14" cy="937.14" rx="9.69" ry="10.71" fill="#c01a14" opacity=".85"/><ellipse cx="653.86" cy="958.57" rx="8.66" ry="9.17" fill="#c01a14" opacity=".85"/><ellipse cx="706.71" cy="955.71" rx="9.17" ry="9.17" fill="#c01a14" opacity=".85"/><ellipse cx="691.86" cy="972" rx="9.69" ry="10.2" fill="#c01a14" opacity=".85"/><ellipse cx="733.86" cy="970.86" rx="7.11" ry="7.63" fill="#c01a14" opacity=".85"/><ellipse cx="678.14" cy="990" rx="10.71" ry="9.17" fill="#c01a14" opacity=".85"/><ellipse cx="492.43" cy="951.43" rx="9.17" ry="9.69" fill="#c01a14" opacity=".85"/><ellipse cx="498.71" cy="972" rx="10.71" ry="10.71" fill="#c01a14" opacity=".85"/><ellipse cx="519.57" cy="984.29" rx="10.71" ry="10.71" fill="#c01a14" opacity=".85"/><ellipse cx="531.86" cy="971.43" rx="10.2" ry="8.66" fill="#c01a14" opacity=".85"/><ellipse cx="552.43" cy="975.71" rx="9.69" ry="9.69" fill="#c01a14" opacity=".85"/><ellipse cx="546.14" cy="988" rx="9.17" ry="9.17" fill="#c01a14" opacity=".85"/><ellipse cx="572.43" cy="988.57" rx="9.69" ry="9.17" fill="#c01a14" opacity=".85"/><ellipse cx="595.29" cy="981.43" rx="10.71" ry="9.69" fill="#c01a14" opacity=".85"/><ellipse cx="515.29" cy="1010" rx="10.71" ry="10.71" fill="#c01a14" opacity=".85"/><ellipse cx="532.43" cy="1015.71" rx="9.17" ry="9.69" fill="#c01a14" opacity=".85"/><ellipse cx="558.71" cy="1020" rx="12.26" ry="12.77" fill="#c01a14" opacity=".85"/><ellipse cx="592.43" cy="1004.29" rx="9.17" ry="8.66" fill="#c01a14" opacity=".85"/><ellipse cx="495.29" cy="1040" rx="10.2" ry="9.17" fill="#c01a14" opacity=".85"/><ellipse cx="525.29" cy="1041.43" rx="10.2" ry="9.69" fill="#c01a14" opacity=".85"/><ellipse cx="542.43" cy="1038.57" rx="8.14" ry="7.11" fill="#c01a14" opacity=".85"/><ellipse cx="572.43" cy="1035.71" rx="8.66" ry="9.69" fill="#c01a14" opacity=".85"/><ellipse cx="575.29" cy="1048" rx="8.66" ry="6.09" fill="#c01a14" opacity=".85"/><ellipse cx="656.71" cy="1031.43" rx="9.69" ry="10.2" fill="#c01a14" opacity=".85"/><ellipse cx="658.14" cy="1046.29" rx="8.66" ry="6.6" fill="#c01a14" opacity=".85"/><ellipse cx="698.14" cy="1045.14" rx="9.17" ry="7.11" fill="#c01a14" opacity=".85"/><ellipse cx="487.29" cy="1020" rx="5.57" ry="10.71" fill="#c01a14" opacity=".85"/></g>
<g filter="url(#cld)" opacity=".55"><rect x="476" y="776" width="1" height="1" fill="#000" opacity="0.01"/><rect x="758" y="1056" width="1" height="1" fill="#000" opacity="0.01"/><ellipse cx="609.57" cy="908.57" rx="28" ry="22" fill="#58c830" transform="rotate(-30 609.57 908.57)"/><ellipse cx="589.57" cy="934.29" rx="20" ry="10" fill="#58c830" transform="rotate(10 589.57 934.29)"/><ellipse cx="552.43" cy="911.43" rx="8" ry="14" fill="#58c830" transform="rotate(-20 552.43 911.43)"/><ellipse cx="538.14" cy="1002.86" rx="36" ry="28" fill="#58c830" transform="rotate(0 538.14 1002.86)"/><ellipse cx="509.57" cy="974.29" rx="18" ry="16" fill="#58c830" transform="rotate(0 509.57 974.29)"/><ellipse cx="566.71" cy="1037.14" rx="24" ry="10" fill="#58c830" transform="rotate(0 566.71 1037.14)"/><ellipse cx="703.86" cy="902.86" rx="22" ry="14" fill="#58c830" transform="rotate(0 703.86 902.86)"/><ellipse cx="666.71" cy="848.57" rx="16" ry="12" fill="#58c830" transform="rotate(0 666.71 848.57)"/><ellipse cx="689.57" cy="817.14" rx="12" ry="18" fill="#58c830" transform="rotate(10 689.57 817.14)"/><ellipse cx="686.71" cy="980" rx="22" ry="10" fill="#58c830" transform="rotate(-30 686.71 980)"/><ellipse cx="526.71" cy="820" rx="10" ry="8" fill="#58c830" transform="rotate(0 526.71 820)"/><ellipse cx="543.86" cy="845.71" rx="14" ry="10" fill="#58c830" transform="rotate(0 543.86 845.71)"/><ellipse cx="575.29" cy="874.29" rx="14" ry="10" fill="#58c830" transform="rotate(30 575.29 874.29)"/><ellipse cx="523.86" cy="877.14" rx="12" ry="8" fill="#58c830" transform="rotate(0 523.86 877.14)"/><ellipse cx="618.14" cy="820" rx="12" ry="10" fill="#58c830" transform="rotate(0 618.14 820)"/><ellipse cx="598.14" cy="837.14" rx="10" ry="16" fill="#58c830" transform="rotate(0 598.14 837.14)"/><ellipse cx="678.14" cy="934.29" rx="8" ry="10" fill="#58c830" transform="rotate(0 678.14 934.29)"/><ellipse cx="723.86" cy="868.57" rx="12" ry="6" fill="#58c830" transform="rotate(-30 723.86 868.57)"/><ellipse cx="735.29" cy="817.14" rx="8" ry="10" fill="#58c830" transform="rotate(0 735.29 817.14)"/><ellipse cx="661" cy="1034.29" rx="10" ry="12" fill="#58c830" transform="rotate(0 661 1034.29)"/><ellipse cx="629.57" cy="851.43" rx="8" ry="8" fill="#58c830" transform="rotate(0 629.57 851.43)"/><ellipse cx="492.43" cy="888.57" rx="6" ry="14" fill="#58c830" transform="rotate(-10 492.43 888.57)"/><ellipse cx="535.29" cy="934.29" rx="8" ry="8" fill="#58c830" transform="rotate(0 535.29 934.29)"/><ellipse cx="509.57" cy="794.29" rx="10" ry="7" fill="#58c830" transform="rotate(0 509.57 794.29)"/><ellipse cx="706.71" cy="960" rx="8" ry="8" fill="#58c830" transform="rotate(0 706.71 960)"/><ellipse cx="652.43" cy="960" rx="6" ry="7" fill="#58c830" transform="rotate(0 652.43 960)"/><ellipse cx="678.14" cy="790" rx="20" ry="5" fill="#58c830" transform="rotate(0 678.14 790)"/><ellipse cx="721" cy="791.43" rx="8" ry="7" fill="#58c830" transform="rotate(0 721 791.43)"/><ellipse cx="511" cy="792.86" rx="9.69" ry="9.17" fill="#58c830"/><ellipse cx="523.86" cy="816.57" rx="10.2" ry="10.71" fill="#58c830"/><ellipse cx="541" cy="837.14" rx="9.69" ry="8.66" fill="#58c830"/><ellipse cx="538.14" cy="852.86" rx="8.66" ry="9.17" fill="#58c830"/><ellipse cx="557.57" cy="855.71" rx="9.17" ry="9.17" fill="#58c830"/><ellipse cx="571" cy="844.29" rx="9.17" ry="9.69" fill="#58c830"/><ellipse cx="593.86" cy="844.29" rx="10.2" ry="10.2" fill="#58c830"/><ellipse cx="598.71" cy="825.71" rx="9.69" ry="8.66" fill="#58c830"/><ellipse cx="598.71" cy="863.43" rx="8.66" ry="9.69" fill="#58c830"/><ellipse cx="609.57" cy="812.86" rx="7.63" ry="10.2" fill="#58c830"/><ellipse cx="623.86" cy="817.14" rx="10.71" ry="10.71" fill="#58c830"/><ellipse cx="629" cy="850.86" rx="10.2" ry="10.71" fill="#58c830"/><ellipse cx="648.14" cy="838.57" rx="9.17" ry="9.69" fill="#58c830"/><ellipse cx="653.29" cy="857.71" rx="9.69" ry="9.69" fill="#58c830"/><ellipse cx="663.86" cy="848.57" rx="8.66" ry="8.66" fill="#58c830"/><ellipse cx="671" cy="859.43" rx="8.66" ry="8.14" fill="#58c830"/><ellipse cx="645.29" cy="786.29" rx="9.17" ry="7.11" fill="#58c830"/><ellipse cx="663.29" cy="790.86" rx="8.66" ry="8.66" fill="#58c830"/><ellipse cx="681" cy="790" rx="8.66" ry="9.17" fill="#58c830"/><ellipse cx="701" cy="784.29" rx="8.14" ry="6.09" fill="#58c830"/><ellipse cx="720.43" cy="790" rx="9.17" ry="9.17" fill="#58c830"/><ellipse cx="699.57" cy="810.86" rx="10.71" ry="10.2" fill="#58c830"/><ellipse cx="687.29" cy="828.57" rx="10.2" ry="10.2" fill="#58c830"/><ellipse cx="736.14" cy="818.57" rx="10.2" ry="10.2" fill="#58c830"/><ellipse cx="720.43" cy="867.14" rx="9.69" ry="9.17" fill="#58c830"/><ellipse cx="489" cy="872.86" rx="7.11" ry="8.66" fill="#58c830"/><ellipse cx="511" cy="872.86" rx="9.69" ry="9.69" fill="#58c830"/><ellipse cx="526.71" cy="877.14" rx="10.71" ry="10.71" fill="#58c830"/><ellipse cx="488.14" cy="888.57" rx="7.11" ry="10.2" fill="#58c830"/><ellipse cx="578.14" cy="871.43" rx="11.74" ry="10.2" fill="#58c830"/><ellipse cx="572.43" cy="882.86" rx="8.66" ry="9.17" fill="#58c830"/><ellipse cx="606.71" cy="890" rx="9.17" ry="9.69" fill="#58c830"/><ellipse cx="614.71" cy="884.29" rx="8.14" ry="9.69" fill="#58c830"/><ellipse cx="595.29" cy="901.43" rx="10.2" ry="9.69" fill="#58c830"/><ellipse cx="591" cy="914.29" rx="9.17" ry="10.2" fill="#58c830"/><ellipse cx="613" cy="908.57" rx="9.17" ry="9.17" fill="#58c830"/><ellipse cx="549.57" cy="907.14" rx="10.2" ry="10.71" fill="#58c830"/><ellipse cx="535.29" cy="931.43" rx="9.69" ry="10.2" fill="#58c830"/><ellipse cx="586.14" cy="936.57" rx="10.71" ry="10.71" fill="#58c830"/><ellipse cx="628.14" cy="931.43" rx="9.17" ry="9.17" fill="#58c830"/><ellipse cx="644.43" cy="900" rx="10.2" ry="9.69" fill="#58c830"/><ellipse cx="665.29" cy="900" rx="9.69" ry="9.17" fill="#58c830"/><ellipse cx="691" cy="892.86" rx="9.17" ry="8.14" fill="#58c830"/><ellipse cx="692.43" cy="907.14" rx="10.71" ry="10.71" fill="#58c830"/><ellipse cx="719.57" cy="902.29" rx="12.26" ry="10.71" fill="#58c830"/><ellipse cx="712.43" cy="917.71" rx="8.14" ry="6.09" fill="#58c830"/><ellipse cx="749" cy="900" rx="7.63" ry="11.23" fill="#58c830"/><ellipse cx="750.14" cy="928.57" rx="6.09" ry="10.71" fill="#58c830"/><ellipse cx="678.14" cy="937.14" rx="9.69" ry="10.71" fill="#58c830"/><ellipse cx="653.86" cy="958.57" rx="8.66" ry="9.17" fill="#58c830"/><ellipse cx="706.71" cy="955.71" rx="9.17" ry="9.17" fill="#58c830"/><ellipse cx="691.86" cy="972" rx="9.69" ry="10.2" fill="#58c830"/><ellipse cx="733.86" cy="970.86" rx="7.11" ry="7.63" fill="#58c830"/><ellipse cx="678.14" cy="990" rx="10.71" ry="9.17" fill="#58c830"/><ellipse cx="492.43" cy="951.43" rx="9.17" ry="9.69" fill="#58c830"/><ellipse cx="498.71" cy="972" rx="10.71" ry="10.71" fill="#58c830"/><ellipse cx="519.57" cy="984.29" rx="10.71" ry="10.71" fill="#58c830"/><ellipse cx="531.86" cy="971.43" rx="10.2" ry="8.66" fill="#58c830"/><ellipse cx="552.43" cy="975.71" rx="9.69" ry="9.69" fill="#58c830"/><ellipse cx="546.14" cy="988" rx="9.17" ry="9.17" fill="#58c830"/><ellipse cx="572.43" cy="988.57" rx="9.69" ry="9.17" fill="#58c830"/><ellipse cx="595.29" cy="981.43" rx="10.71" ry="9.69" fill="#58c830"/><ellipse cx="515.29" cy="1010" rx="10.71" ry="10.71" fill="#58c830"/><ellipse cx="532.43" cy="1015.71" rx="9.17" ry="9.69" fill="#58c830"/><ellipse cx="558.71" cy="1020" rx="12.26" ry="12.77" fill="#58c830"/><ellipse cx="592.43" cy="1004.29" rx="9.17" ry="8.66" fill="#58c830"/><ellipse cx="495.29" cy="1040" rx="10.2" ry="9.17" fill="#58c830"/><ellipse cx="525.29" cy="1041.43" rx="10.2" ry="9.69" fill="#58c830"/><ellipse cx="542.43" cy="1038.57" rx="8.14" ry="7.11" fill="#58c830"/><ellipse cx="572.43" cy="1035.71" rx="8.66" ry="9.69" fill="#58c830"/><ellipse cx="575.29" cy="1048" rx="8.66" ry="6.09" fill="#58c830"/><ellipse cx="656.71" cy="1031.43" rx="9.69" ry="10.2" fill="#58c830"/><ellipse cx="658.14" cy="1046.29" rx="8.66" ry="6.6" fill="#58c830"/><ellipse cx="698.14" cy="1045.14" rx="9.17" ry="7.11" fill="#58c830"/><ellipse cx="487.29" cy="1020" rx="5.57" ry="10.71" fill="#58c830"/></g>
<g filter="url(#spk)" opacity=".85"><rect x="476" y="776" width="1" height="1" fill="#000" opacity="0.01"/><rect x="758" y="1056" width="1" height="1" fill="#000" opacity="0.01"/><ellipse cx="609.57" cy="908.57" rx="28" ry="22" fill="#40e040" transform="rotate(-30 609.57 908.57)"/><ellipse cx="589.57" cy="934.29" rx="20" ry="10" fill="#40e040" transform="rotate(10 589.57 934.29)"/><ellipse cx="552.43" cy="911.43" rx="8" ry="14" fill="#40e040" transform="rotate(-20 552.43 911.43)"/><ellipse cx="538.14" cy="1002.86" rx="36" ry="28" fill="#40e040" transform="rotate(0 538.14 1002.86)"/><ellipse cx="509.57" cy="974.29" rx="18" ry="16" fill="#40e040" transform="rotate(0 509.57 974.29)"/><ellipse cx="566.71" cy="1037.14" rx="24" ry="10" fill="#40e040" transform="rotate(0 566.71 1037.14)"/><ellipse cx="703.86" cy="902.86" rx="22" ry="14" fill="#40e040" transform="rotate(0 703.86 902.86)"/><ellipse cx="666.71" cy="848.57" rx="16" ry="12" fill="#40e040" transform="rotate(0 666.71 848.57)"/><ellipse cx="689.57" cy="817.14" rx="12" ry="18" fill="#40e040" transform="rotate(10 689.57 817.14)"/><ellipse cx="686.71" cy="980" rx="22" ry="10" fill="#40e040" transform="rotate(-30 686.71 980)"/><ellipse cx="526.71" cy="820" rx="10" ry="8" fill="#40e040" transform="rotate(0 526.71 820)"/><ellipse cx="543.86" cy="845.71" rx="14" ry="10" fill="#40e040" transform="rotate(0 543.86 845.71)"/><ellipse cx="575.29" cy="874.29" rx="14" ry="10" fill="#40e040" transform="rotate(30 575.29 874.29)"/><ellipse cx="523.86" cy="877.14" rx="12" ry="8" fill="#40e040" transform="rotate(0 523.86 877.14)"/><ellipse cx="618.14" cy="820" rx="12" ry="10" fill="#40e040" transform="rotate(0 618.14 820)"/><ellipse cx="598.14" cy="837.14" rx="10" ry="16" fill="#40e040" transform="rotate(0 598.14 837.14)"/><ellipse cx="678.14" cy="934.29" rx="8" ry="10" fill="#40e040" transform="rotate(0 678.14 934.29)"/><ellipse cx="723.86" cy="868.57" rx="12" ry="6" fill="#40e040" transform="rotate(-30 723.86 868.57)"/><ellipse cx="735.29" cy="817.14" rx="8" ry="10" fill="#40e040" transform="rotate(0 735.29 817.14)"/><ellipse cx="661" cy="1034.29" rx="10" ry="12" fill="#40e040" transform="rotate(0 661 1034.29)"/><ellipse cx="629.57" cy="851.43" rx="8" ry="8" fill="#40e040" transform="rotate(0 629.57 851.43)"/><ellipse cx="492.43" cy="888.57" rx="6" ry="14" fill="#40e040" transform="rotate(-10 492.43 888.57)"/><ellipse cx="535.29" cy="934.29" rx="8" ry="8" fill="#40e040" transform="rotate(0 535.29 934.29)"/><ellipse cx="509.57" cy="794.29" rx="10" ry="7" fill="#40e040" transform="rotate(0 509.57 794.29)"/><ellipse cx="706.71" cy="960" rx="8" ry="8" fill="#40e040" transform="rotate(0 706.71 960)"/><ellipse cx="652.43" cy="960" rx="6" ry="7" fill="#40e040" transform="rotate(0 652.43 960)"/><ellipse cx="678.14" cy="790" rx="20" ry="5" fill="#40e040" transform="rotate(0 678.14 790)"/><ellipse cx="721" cy="791.43" rx="8" ry="7" fill="#40e040" transform="rotate(0 721 791.43)"/><ellipse cx="511" cy="792.86" rx="9.69" ry="9.17" fill="#40e040"/><ellipse cx="523.86" cy="816.57" rx="10.2" ry="10.71" fill="#40e040"/><ellipse cx="541" cy="837.14" rx="9.69" ry="8.66" fill="#40e040"/><ellipse cx="538.14" cy="852.86" rx="8.66" ry="9.17" fill="#40e040"/><ellipse cx="557.57" cy="855.71" rx="9.17" ry="9.17" fill="#40e040"/><ellipse cx="571" cy="844.29" rx="9.17" ry="9.69" fill="#40e040"/><ellipse cx="593.86" cy="844.29" rx="10.2" ry="10.2" fill="#40e040"/><ellipse cx="598.71" cy="825.71" rx="9.69" ry="8.66" fill="#40e040"/><ellipse cx="598.71" cy="863.43" rx="8.66" ry="9.69" fill="#40e040"/><ellipse cx="609.57" cy="812.86" rx="7.63" ry="10.2" fill="#40e040"/><ellipse cx="623.86" cy="817.14" rx="10.71" ry="10.71" fill="#40e040"/><ellipse cx="629" cy="850.86" rx="10.2" ry="10.71" fill="#40e040"/><ellipse cx="648.14" cy="838.57" rx="9.17" ry="9.69" fill="#40e040"/><ellipse cx="653.29" cy="857.71" rx="9.69" ry="9.69" fill="#40e040"/><ellipse cx="663.86" cy="848.57" rx="8.66" ry="8.66" fill="#40e040"/><ellipse cx="671" cy="859.43" rx="8.66" ry="8.14" fill="#40e040"/><ellipse cx="645.29" cy="786.29" rx="9.17" ry="7.11" fill="#40e040"/><ellipse cx="663.29" cy="790.86" rx="8.66" ry="8.66" fill="#40e040"/><ellipse cx="681" cy="790" rx="8.66" ry="9.17" fill="#40e040"/><ellipse cx="701" cy="784.29" rx="8.14" ry="6.09" fill="#40e040"/><ellipse cx="720.43" cy="790" rx="9.17" ry="9.17" fill="#40e040"/><ellipse cx="699.57" cy="810.86" rx="10.71" ry="10.2" fill="#40e040"/><ellipse cx="687.29" cy="828.57" rx="10.2" ry="10.2" fill="#40e040"/><ellipse cx="736.14" cy="818.57" rx="10.2" ry="10.2" fill="#40e040"/><ellipse cx="720.43" cy="867.14" rx="9.69" ry="9.17" fill="#40e040"/><ellipse cx="489" cy="872.86" rx="7.11" ry="8.66" fill="#40e040"/><ellipse cx="511" cy="872.86" rx="9.69" ry="9.69" fill="#40e040"/><ellipse cx="526.71" cy="877.14" rx="10.71" ry="10.71" fill="#40e040"/><ellipse cx="488.14" cy="888.57" rx="7.11" ry="10.2" fill="#40e040"/><ellipse cx="578.14" cy="871.43" rx="11.74" ry="10.2" fill="#40e040"/><ellipse cx="572.43" cy="882.86" rx="8.66" ry="9.17" fill="#40e040"/><ellipse cx="606.71" cy="890" rx="9.17" ry="9.69" fill="#40e040"/><ellipse cx="614.71" cy="884.29" rx="8.14" ry="9.69" fill="#40e040"/><ellipse cx="595.29" cy="901.43" rx="10.2" ry="9.69" fill="#40e040"/><ellipse cx="591" cy="914.29" rx="9.17" ry="10.2" fill="#40e040"/><ellipse cx="613" cy="908.57" rx="9.17" ry="9.17" fill="#40e040"/><ellipse cx="549.57" cy="907.14" rx="10.2" ry="10.71" fill="#40e040"/><ellipse cx="535.29" cy="931.43" rx="9.69" ry="10.2" fill="#40e040"/><ellipse cx="586.14" cy="936.57" rx="10.71" ry="10.71" fill="#40e040"/><ellipse cx="628.14" cy="931.43" rx="9.17" ry="9.17" fill="#40e040"/><ellipse cx="644.43" cy="900" rx="10.2" ry="9.69" fill="#40e040"/><ellipse cx="665.29" cy="900" rx="9.69" ry="9.17" fill="#40e040"/><ellipse cx="691" cy="892.86" rx="9.17" ry="8.14" fill="#40e040"/><ellipse cx="692.43" cy="907.14" rx="10.71" ry="10.71" fill="#40e040"/><ellipse cx="719.57" cy="902.29" rx="12.26" ry="10.71" fill="#40e040"/><ellipse cx="712.43" cy="917.71" rx="8.14" ry="6.09" fill="#40e040"/><ellipse cx="749" cy="900" rx="7.63" ry="11.23" fill="#40e040"/><ellipse cx="750.14" cy="928.57" rx="6.09" ry="10.71" fill="#40e040"/><ellipse cx="678.14" cy="937.14" rx="9.69" ry="10.71" fill="#40e040"/><ellipse cx="653.86" cy="958.57" rx="8.66" ry="9.17" fill="#40e040"/><ellipse cx="706.71" cy="955.71" rx="9.17" ry="9.17" fill="#40e040"/><ellipse cx="691.86" cy="972" rx="9.69" ry="10.2" fill="#40e040"/><ellipse cx="733.86" cy="970.86" rx="7.11" ry="7.63" fill="#40e040"/><ellipse cx="678.14" cy="990" rx="10.71" ry="9.17" fill="#40e040"/><ellipse cx="492.43" cy="951.43" rx="9.17" ry="9.69" fill="#40e040"/><ellipse cx="498.71" cy="972" rx="10.71" ry="10.71" fill="#40e040"/><ellipse cx="519.57" cy="984.29" rx="10.71" ry="10.71" fill="#40e040"/><ellipse cx="531.86" cy="971.43" rx="10.2" ry="8.66" fill="#40e040"/><ellipse cx="552.43" cy="975.71" rx="9.69" ry="9.69" fill="#40e040"/><ellipse cx="546.14" cy="988" rx="9.17" ry="9.17" fill="#40e040"/><ellipse cx="572.43" cy="988.57" rx="9.69" ry="9.17" fill="#40e040"/><ellipse cx="595.29" cy="981.43" rx="10.71" ry="9.69" fill="#40e040"/><ellipse cx="515.29" cy="1010" rx="10.71" ry="10.71" fill="#40e040"/><ellipse cx="532.43" cy="1015.71" rx="9.17" ry="9.69" fill="#40e040"/><ellipse cx="558.71" cy="1020" rx="12.26" ry="12.77" fill="#40e040"/><ellipse cx="592.43" cy="1004.29" rx="9.17" ry="8.66" fill="#40e040"/><ellipse cx="495.29" cy="1040" rx="10.2" ry="9.17" fill="#40e040"/><ellipse cx="525.29" cy="1041.43" rx="10.2" ry="9.69" fill="#40e040"/><ellipse cx="542.43" cy="1038.57" rx="8.14" ry="7.11" fill="#40e040"/><ellipse cx="572.43" cy="1035.71" rx="8.66" ry="9.69" fill="#40e040"/><ellipse cx="575.29" cy="1048" rx="8.66" ry="6.09" fill="#40e040"/><ellipse cx="656.71" cy="1031.43" rx="9.69" ry="10.2" fill="#40e040"/><ellipse cx="658.14" cy="1046.29" rx="8.66" ry="6.6" fill="#40e040"/><ellipse cx="698.14" cy="1045.14" rx="9.17" ry="7.11" fill="#40e040"/><ellipse cx="487.29" cy="1020" rx="5.57" ry="10.71" fill="#40e040"/></g>
<g filter="url(#gn4)"><rect x="476" y="776" width="1" height="1" fill="#000" opacity="0.01"/><rect x="758" y="1056" width="1" height="1" fill="#000" opacity="0.01"/><ellipse cx="516.71" cy="812.86" rx="5.57" ry="6.14" fill="#2fe02f"/><ellipse cx="515.05" cy="810.36" rx="3.7" ry="4.1" fill="#2fd02f" opacity=".8"/><ellipse cx="545.29" cy="853.71" rx="3.86" ry="5" fill="#2fe02f"/><ellipse cx="544.54" cy="850.81" rx="2.5" ry="3.3" fill="#2fd02f" opacity=".8"/><ellipse cx="549.57" cy="854.86" rx="5" ry="6.14" fill="#2fe02f"/><ellipse cx="551.47" cy="857.18" rx="3.3" ry="4.1" fill="#2fd02f" opacity=".8"/><ellipse cx="566.71" cy="837.14" rx="5" ry="3.86" fill="#2fe02f"/><ellipse cx="569.43" cy="835.87" rx="3.3" ry="2.5" fill="#2fd02f" opacity=".8"/><ellipse cx="587.29" cy="846.29" rx="3.29" ry="5" fill="#2fe02f"/><ellipse cx="585.65" cy="848.8" rx="2.1" ry="3.3" fill="#2fd02f" opacity=".8"/><ellipse cx="598.14" cy="832.86" rx="6.71" ry="3.86" fill="#2fe02f"/><ellipse cx="595.25" cy="833.67" rx="4.5" ry="2.5" fill="#2fd02f" opacity=".8"/><ellipse cx="596.71" cy="857.14" rx="3.86" ry="3.29" fill="#2fe02f"/><ellipse cx="595.91" cy="854.25" rx="2.5" ry="2.1" fill="#2fd02f" opacity=".8"/><ellipse cx="628.14" cy="810" rx="6.71" ry="4.43" fill="#2fe02f"/><ellipse cx="626.6" cy="807.43" rx="4.5" ry="2.9" fill="#2fd02f" opacity=".8"/><ellipse cx="652.43" cy="850" rx="5.57" ry="3.29" fill="#2fe02f"/><ellipse cx="652.04" cy="847.03" rx="3.7" ry="2.1" fill="#2fd02f" opacity=".8"/><ellipse cx="660.43" cy="843.43" rx="4.43" ry="3.29" fill="#2fe02f"/><ellipse cx="663.42" cy="843.59" rx="2.9" ry="2.1" fill="#2fd02f" opacity=".8"/><ellipse cx="675.29" cy="862.86" rx="3.86" ry="3.86" fill="#2fe02f"/><ellipse cx="678.02" cy="864.09" rx="2.5" ry="2.5" fill="#2fd02f" opacity=".8"/><ellipse cx="669.57" cy="791.43" rx="3.29" ry="4.43" fill="#2fe02f"/><ellipse cx="672.43" cy="790.53" rx="2.1" ry="2.9" fill="#2fd02f" opacity=".8"/><ellipse cx="693.86" cy="788.57" rx="4.43" ry="5" fill="#2fe02f"/><ellipse cx="695.19" cy="785.88" rx="2.9" ry="3.3" fill="#2fd02f" opacity=".8"/><ellipse cx="713.86" cy="791.43" rx="3.29" ry="5" fill="#2fe02f"/><ellipse cx="716.78" cy="792.09" rx="2.1" ry="3.3" fill="#2fd02f" opacity=".8"/><ellipse cx="704.43" cy="807.14" rx="5.57" ry="4.43" fill="#2fe02f"/><ellipse cx="705" cy="810.09" rx="3.7" ry="2.9" fill="#2fd02f" opacity=".8"/><ellipse cx="688.14" cy="838.57" rx="6.14" ry="4.43" fill="#2fe02f"/><ellipse cx="685.36" cy="839.69" rx="4.1" ry="2.9" fill="#2fd02f" opacity=".8"/><ellipse cx="739.57" cy="825.14" rx="5" ry="3.86" fill="#2fe02f"/><ellipse cx="740.49" cy="828" rx="3.3" ry="2.5" fill="#2fd02f" opacity=".8"/><ellipse cx="716.71" cy="873.71" rx="5.57" ry="3.29" fill="#2fe02f"/><ellipse cx="717.47" cy="876.62" rx="3.7" ry="2.1" fill="#2fd02f" opacity=".8"/><ellipse cx="488.14" cy="865.71" rx="3.86" ry="5" fill="#2fe02f"/><ellipse cx="491.1" cy="865.21" rx="2.5" ry="3.3" fill="#2fd02f" opacity=".8"/><ellipse cx="525.29" cy="886.29" rx="6.14" ry="3.86" fill="#2fe02f"/><ellipse cx="522.98" cy="884.36" rx="4.1" ry="2.5" fill="#2fd02f" opacity=".8"/><ellipse cx="565.29" cy="878.57" rx="4.43" ry="5.57" fill="#2fe02f"/><ellipse cx="562.79" cy="880.24" rx="2.9" ry="3.7" fill="#2fd02f" opacity=".8"/><ellipse cx="620.14" cy="881.43" rx="3.29" ry="5.57" fill="#2fe02f"/><ellipse cx="619.73" cy="878.46" rx="2.1" ry="3.7" fill="#2fd02f" opacity=".8"/><ellipse cx="602.43" cy="905.71" rx="3.86" ry="3.86" fill="#2fe02f"/><ellipse cx="603.29" cy="908.59" rx="2.5" ry="2.5" fill="#2fd02f" opacity=".8"/><ellipse cx="586.71" cy="922.86" rx="5" ry="7.29" fill="#2fe02f"/><ellipse cx="587.58" cy="925.73" rx="3.3" ry="4.9" fill="#2fd02f" opacity=".8"/><ellipse cx="613.86" cy="920" rx="6.71" ry="5" fill="#2fe02f"/><ellipse cx="615.13" cy="922.72" rx="4.5" ry="3.3" fill="#2fd02f" opacity=".8"/><ellipse cx="555.86" cy="912" rx="3.29" ry="5" fill="#2fe02f"/><ellipse cx="557.74" cy="909.67" rx="2.1" ry="3.3" fill="#2fd02f" opacity=".8"/><ellipse cx="541.57" cy="924.29" rx="3.86" ry="6.71" fill="#2fe02f"/><ellipse cx="543.7" cy="926.4" rx="2.5" ry="4.5" fill="#2fd02f" opacity=".8"/><ellipse cx="578.14" cy="936.57" rx="3.29" ry="6.71" fill="#2fe02f"/><ellipse cx="580.1" cy="938.85" rx="2.1" ry="4.5" fill="#2fd02f" opacity=".8"/><ellipse cx="621" cy="928.57" rx="4.43" ry="6.14" fill="#2fe02f"/><ellipse cx="623.19" cy="926.52" rx="2.9" ry="4.1" fill="#2fd02f" opacity=".8"/><ellipse cx="637.57" cy="907.14" rx="5" ry="3.86" fill="#2fe02f"/><ellipse cx="638.75" cy="904.38" rx="3.3" ry="2.5" fill="#2fd02f" opacity=".8"/><ellipse cx="670.14" cy="905.71" rx="4.43" ry="3.86" fill="#2fe02f"/><ellipse cx="667.14" cy="905.77" rx="2.9" ry="2.5" fill="#2fd02f" opacity=".8"/><ellipse cx="684.43" cy="888.57" rx="4.43" ry="3.86" fill="#2fe02f"/><ellipse cx="687.42" cy="888.84" rx="2.9" ry="2.5" fill="#2fd02f" opacity=".8"/><ellipse cx="701" cy="899.43" rx="4.43" ry="5" fill="#2fe02f"/><ellipse cx="700.46" cy="896.48" rx="2.9" ry="3.3" fill="#2fd02f" opacity=".8"/><ellipse cx="716.71" cy="916.57" rx="5.57" ry="2.14" fill="#2fe02f"/><ellipse cx="716.47" cy="913.58" rx="3.7" ry="1.3" fill="#2fd02f" opacity=".8"/><ellipse cx="676.71" cy="928.57" rx="4.43" ry="3.86" fill="#2fe02f"/><ellipse cx="678.26" cy="931.15" rx="2.9" ry="2.5" fill="#2fd02f" opacity=".8"/><ellipse cx="649.57" cy="964.29" rx="5.57" ry="5.57" fill="#2fe02f"/><ellipse cx="650.12" cy="967.24" rx="3.7" ry="3.7" fill="#2fd02f" opacity=".8"/><ellipse cx="701" cy="963.43" rx="5.57" ry="4.43" fill="#2fe02f"/><ellipse cx="700.45" cy="960.48" rx="3.7" ry="2.9" fill="#2fd02f" opacity=".8"/><ellipse cx="686.71" cy="966.57" rx="4.43" ry="4.43" fill="#2fe02f"/><ellipse cx="686.69" cy="963.57" rx="2.9" ry="2.9" fill="#2fd02f" opacity=".8"/><ellipse cx="732.43" cy="963.43" rx="6.14" ry="6.71" fill="#2fe02f"/><ellipse cx="733.39" cy="960.59" rx="4.1" ry="4.5" fill="#2fd02f" opacity=".8"/><ellipse cx="499.57" cy="954.29" rx="3.29" ry="5" fill="#2fe02f"/><ellipse cx="496.64" cy="953.64" rx="2.1" ry="3.3" fill="#2fd02f" opacity=".8"/><ellipse cx="511" cy="992" rx="5" ry="4.43" fill="#2fe02f"/><ellipse cx="512.62" cy="994.52" rx="3.3" ry="2.9" fill="#2fd02f" opacity=".8"/><ellipse cx="553.86" cy="965.71" rx="4.43" ry="6.14" fill="#2fe02f"/><ellipse cx="554.37" cy="962.76" rx="2.9" ry="4.1" fill="#2fd02f" opacity=".8"/><ellipse cx="566.71" cy="995.71" rx="5" ry="3.86" fill="#2fe02f"/><ellipse cx="566.07" cy="992.79" rx="3.3" ry="2.5" fill="#2fd02f" opacity=".8"/><ellipse cx="588.14" cy="988" rx="4.43" ry="5" fill="#2fe02f"/><ellipse cx="585.16" cy="987.69" rx="2.9" ry="3.3" fill="#2fd02f" opacity=".8"/><ellipse cx="506.14" cy="1008.57" rx="3.29" ry="5.57" fill="#2fe02f"/><ellipse cx="503.21" cy="1009.21" rx="2.1" ry="3.7" fill="#2fd02f" opacity=".8"/><ellipse cx="526.14" cy="1013.71" rx="3.29" ry="3.86" fill="#2fe02f"/><ellipse cx="527.04" cy="1016.58" rx="2.1" ry="2.5" fill="#2fd02f" opacity=".8"/><ellipse cx="566.71" cy="1008.57" rx="5" ry="5" fill="#2fe02f"/><ellipse cx="569.23" cy="1010.2" rx="3.3" ry="3.3" fill="#2fd02f" opacity=".8"/><ellipse cx="593.86" cy="997.14" rx="5" ry="3.86" fill="#2fe02f"/><ellipse cx="596.71" cy="998.08" rx="3.3" ry="2.5" fill="#2fd02f" opacity=".8"/><ellipse cx="505.29" cy="1037.14" rx="3.29" ry="4.43" fill="#2fe02f"/><ellipse cx="505.78" cy="1040.1" rx="2.1" ry="2.9" fill="#2fd02f" opacity=".8"/><ellipse cx="515.29" cy="1038.57" rx="3.86" ry="3.86" fill="#2fe02f"/><ellipse cx="516.79" cy="1035.98" rx="2.5" ry="2.5" fill="#2fd02f" opacity=".8"/><ellipse cx="539.57" cy="1038.57" rx="5" ry="5" fill="#2fe02f"/><ellipse cx="538.76" cy="1035.68" rx="3.3" ry="3.3" fill="#2fd02f" opacity=".8"/><ellipse cx="576.71" cy="1031.43" rx="4.43" ry="3.86" fill="#2fe02f"/><ellipse cx="573.91" cy="1032.49" rx="2.9" ry="2.5" fill="#2fd02f" opacity=".8"/><ellipse cx="666.71" cy="1034.29" rx="4.43" ry="6.14" fill="#2fe02f"/><ellipse cx="664.05" cy="1035.65" rx="2.9" ry="4.1" fill="#2fd02f" opacity=".8"/><ellipse cx="663.86" cy="1042.29" rx="3.86" ry="3.29" fill="#2fe02f"/><ellipse cx="665.89" cy="1040.08" rx="2.5" ry="2.1" fill="#2fd02f" opacity=".8"/><ellipse cx="489.57" cy="1028.57" rx="2.71" ry="6.71" fill="#2fe02f"/><ellipse cx="492.23" cy="1027.19" rx="1.7" ry="4.5" fill="#2fd02f" opacity=".8"/></g>
<g filter="url(#b0)"><line x1="553.86" y1="967.14" x2="547.29" y2="940" stroke="#40d030" stroke-width="1.43" stroke-linecap="round"/><line x1="547.29" y1="940" x2="542.43" y2="928.57" stroke="#40d030" stroke-width="0.86" stroke-linecap="round"/><line x1="715.29" y1="916.57" x2="706.71" y2="920" stroke="#40d030" stroke-width="0.86" stroke-linecap="round"/><line x1="735.57" y1="998.29" x2="737" y2="1005.71" stroke="#40d030" stroke-width="1.43" stroke-linecap="round"/><line x1="745.29" y1="942.86" x2="749" y2="950.86" stroke="#40d030" stroke-width="1.14" stroke-linecap="round"/><line x1="553.86" y1="967.14" x2="552.43" y2="958.57" stroke="#40d030" stroke-width="2.57" stroke-linecap="round"/></g>
<g filter="url(#nr)"><rect x="476" y="776" width="1" height="1" fill="#000" opacity="0.01"/><rect x="758" y="1056" width="1" height="1" fill="#000" opacity="0.01"/><ellipse cx="511" cy="792.86" rx="6.69" ry="6.17" fill="#f41414" opacity="1"/><ellipse cx="523.86" cy="816.57" rx="7.2" ry="7.71" fill="#f41414" opacity="1"/><ellipse cx="541" cy="837.14" rx="6.69" ry="5.66" fill="#f41414" opacity="0.95"/><ellipse cx="538.14" cy="852.86" rx="5.66" ry="6.17" fill="#f41414" opacity="1"/><ellipse cx="557.57" cy="855.71" rx="6.17" ry="6.17" fill="#f41414" opacity="1"/><ellipse cx="571" cy="844.29" rx="6.17" ry="6.69" fill="#f41414" opacity="1"/><ellipse cx="593.86" cy="844.29" rx="7.2" ry="7.2" fill="#f41414" opacity="1"/><ellipse cx="598.71" cy="825.71" rx="6.69" ry="5.66" fill="#f41414" opacity="1"/><ellipse cx="598.71" cy="863.43" rx="5.66" ry="6.69" fill="#f41414" opacity="1"/><ellipse cx="609.57" cy="812.86" rx="4.63" ry="7.2" fill="#f41414" opacity="0.95"/><ellipse cx="623.86" cy="817.14" rx="7.71" ry="7.71" fill="#f41414" opacity="1"/><ellipse cx="629" cy="850.86" rx="7.2" ry="7.71" fill="#f41414" opacity="1"/><ellipse cx="648.14" cy="838.57" rx="6.17" ry="6.69" fill="#f41414" opacity="0.95"/><ellipse cx="653.29" cy="857.71" rx="6.69" ry="6.69" fill="#f41414" opacity="1"/><ellipse cx="663.86" cy="848.57" rx="5.66" ry="5.66" fill="#f41414" opacity="0.95"/><ellipse cx="671" cy="859.43" rx="5.66" ry="5.14" fill="#f41414" opacity="0.9"/><ellipse cx="645.29" cy="786.29" rx="6.17" ry="4.11" fill="#f41414" opacity="1"/><ellipse cx="663.29" cy="790.86" rx="5.66" ry="5.66" fill="#f41414" opacity="1"/><ellipse cx="681" cy="790" rx="5.66" ry="6.17" fill="#f41414" opacity="1"/><ellipse cx="701" cy="784.29" rx="5.14" ry="3.09" fill="#f41414" opacity="0.9"/><ellipse cx="720.43" cy="790" rx="6.17" ry="6.17" fill="#f41414" opacity="0.95"/><ellipse cx="699.57" cy="810.86" rx="7.71" ry="7.2" fill="#f41414" opacity="0.8"/><ellipse cx="687.29" cy="828.57" rx="7.2" ry="7.2" fill="#f41414" opacity="1"/><ellipse cx="736.14" cy="818.57" rx="7.2" ry="7.2" fill="#f41414" opacity="1"/><ellipse cx="720.43" cy="867.14" rx="6.69" ry="6.17" fill="#f41414" opacity="0.95"/><ellipse cx="489" cy="872.86" rx="4.11" ry="5.66" fill="#f41414" opacity="0.95"/><ellipse cx="511" cy="872.86" rx="6.69" ry="6.69" fill="#f41414" opacity="1"/><ellipse cx="526.71" cy="877.14" rx="7.71" ry="7.71" fill="#f41414" opacity="1"/><ellipse cx="488.14" cy="888.57" rx="4.11" ry="7.2" fill="#f41414" opacity="0.95"/><ellipse cx="578.14" cy="871.43" rx="8.74" ry="7.2" fill="#f41414" opacity="1"/><ellipse cx="572.43" cy="882.86" rx="5.66" ry="6.17" fill="#f41414" opacity="0.95"/><ellipse cx="606.71" cy="890" rx="6.17" ry="6.69" fill="#f41414" opacity="1"/><ellipse cx="614.71" cy="884.29" rx="5.14" ry="6.69" fill="#f41414" opacity="1"/><ellipse cx="595.29" cy="901.43" rx="7.2" ry="6.69" fill="#f41414" opacity="1"/><ellipse cx="591" cy="914.29" rx="6.17" ry="7.2" fill="#f41414" opacity="1"/><ellipse cx="613" cy="908.57" rx="6.17" ry="6.17" fill="#f41414" opacity="1"/><ellipse cx="549.57" cy="907.14" rx="7.2" ry="7.71" fill="#f41414" opacity="0.95"/><ellipse cx="535.29" cy="931.43" rx="6.69" ry="7.2" fill="#f41414" opacity="1"/><ellipse cx="586.14" cy="936.57" rx="7.71" ry="7.71" fill="#f41414" opacity="0.95"/><ellipse cx="628.14" cy="931.43" rx="6.17" ry="6.17" fill="#f41414" opacity="1"/><ellipse cx="644.43" cy="900" rx="7.2" ry="6.69" fill="#f41414" opacity="0.95"/><ellipse cx="665.29" cy="900" rx="6.69" ry="6.17" fill="#f41414" opacity="1"/><ellipse cx="691" cy="892.86" rx="6.17" ry="5.14" fill="#f41414" opacity="1"/><ellipse cx="692.43" cy="907.14" rx="7.71" ry="7.71" fill="#f41414" opacity="1"/><ellipse cx="719.57" cy="902.29" rx="9.26" ry="7.71" fill="#f41414" opacity="0.9"/><ellipse cx="712.43" cy="917.71" rx="5.14" ry="3.09" fill="#f41414" opacity="0.9"/><ellipse cx="749" cy="900" rx="4.63" ry="8.23" fill="#f41414" opacity="1"/><ellipse cx="750.14" cy="928.57" rx="3.09" ry="7.71" fill="#f41414" opacity="0.9"/><ellipse cx="678.14" cy="937.14" rx="6.69" ry="7.71" fill="#f41414" opacity="1"/><ellipse cx="653.86" cy="958.57" rx="5.66" ry="6.17" fill="#f41414" opacity="1"/><ellipse cx="706.71" cy="955.71" rx="6.17" ry="6.17" fill="#f41414" opacity="1"/><ellipse cx="691.86" cy="972" rx="6.69" ry="7.2" fill="#f41414" opacity="0.95"/><ellipse cx="733.86" cy="970.86" rx="4.11" ry="4.63" fill="#f41414" opacity="1"/><ellipse cx="678.14" cy="990" rx="7.71" ry="6.17" fill="#f41414" opacity="0.95"/><ellipse cx="492.43" cy="951.43" rx="6.17" ry="6.69" fill="#f41414" opacity="1"/><ellipse cx="498.71" cy="972" rx="7.71" ry="7.71" fill="#f41414" opacity="0.95"/><ellipse cx="519.57" cy="984.29" rx="7.71" ry="7.71" fill="#f41414" opacity="1"/><ellipse cx="531.86" cy="971.43" rx="7.2" ry="5.66" fill="#f41414" opacity="0.9"/><ellipse cx="552.43" cy="975.71" rx="6.69" ry="6.69" fill="#f41414" opacity="1"/><ellipse cx="546.14" cy="988" rx="6.17" ry="6.17" fill="#f41414" opacity="0.95"/><ellipse cx="572.43" cy="988.57" rx="6.69" ry="6.17" fill="#f41414" opacity="1"/><ellipse cx="595.29" cy="981.43" rx="7.71" ry="6.69" fill="#f41414" opacity="1"/><ellipse cx="515.29" cy="1010" rx="7.71" ry="7.71" fill="#f41414" opacity="1"/><ellipse cx="532.43" cy="1015.71" rx="6.17" ry="6.69" fill="#f41414" opacity="0.95"/><ellipse cx="558.71" cy="1020" rx="9.26" ry="9.77" fill="#f41414" opacity="0.8"/><ellipse cx="592.43" cy="1004.29" rx="6.17" ry="5.66" fill="#f41414" opacity="0.95"/><ellipse cx="495.29" cy="1040" rx="7.2" ry="6.17" fill="#f41414" opacity="1"/><ellipse cx="525.29" cy="1041.43" rx="7.2" ry="6.69" fill="#f41414" opacity="1"/><ellipse cx="542.43" cy="1038.57" rx="5.14" ry="4.11" fill="#f41414" opacity="0.9"/><ellipse cx="572.43" cy="1035.71" rx="5.66" ry="6.69" fill="#f41414" opacity="1"/><ellipse cx="575.29" cy="1048" rx="5.66" ry="3.09" fill="#f41414" opacity="0.9"/><ellipse cx="656.71" cy="1031.43" rx="6.69" ry="7.2" fill="#f41414" opacity="0.9"/><ellipse cx="658.14" cy="1046.29" rx="5.66" ry="3.6" fill="#f41414" opacity="0.9"/><ellipse cx="698.14" cy="1045.14" rx="6.17" ry="4.11" fill="#f41414" opacity="0.9"/><ellipse cx="487.29" cy="1020" rx="2.57" ry="7.71" fill="#f41414" opacity="0.9"/></g>
</g>
<line x1="686.3" y1="1030.9" x2="744.3" y2="1030.9" stroke="#fff" stroke-width="2.2"/>
<circle cx="686.3" cy="1030.9" r="2.8" fill="#fff"/><circle cx="744.3" cy="1030.9" r="2.8" fill="#fff"/>
<text x="715.4" y="1044" text-anchor="middle" class="sb">50 µm</text>
<text x="292.5" y="378.5" text-anchor="middle" class="pt">Non-treated</text>
<text x="610.7" y="357.5" text-anchor="middle" class="pt">rGel</text>
<text x="610.3" y="383.2" text-anchor="middle" class="pt">50 nmol/L, 4h</text>
<text x="297.7" y="738.2" text-anchor="middle" class="pt">ITEM4-rGel</text>
<text x="297.3" y="765" text-anchor="middle" class="pt">50 nmol/L, 4h</text>
<text x="610.8" y="740.6" text-anchor="middle" class="pt">hSGZ</text>
<text x="610.3" y="767" text-anchor="middle" class="pt">50 nmol/L, 4h</text>
<text x="126.5" y="357.7" class="pl">f</text>
</svg></body></html>
